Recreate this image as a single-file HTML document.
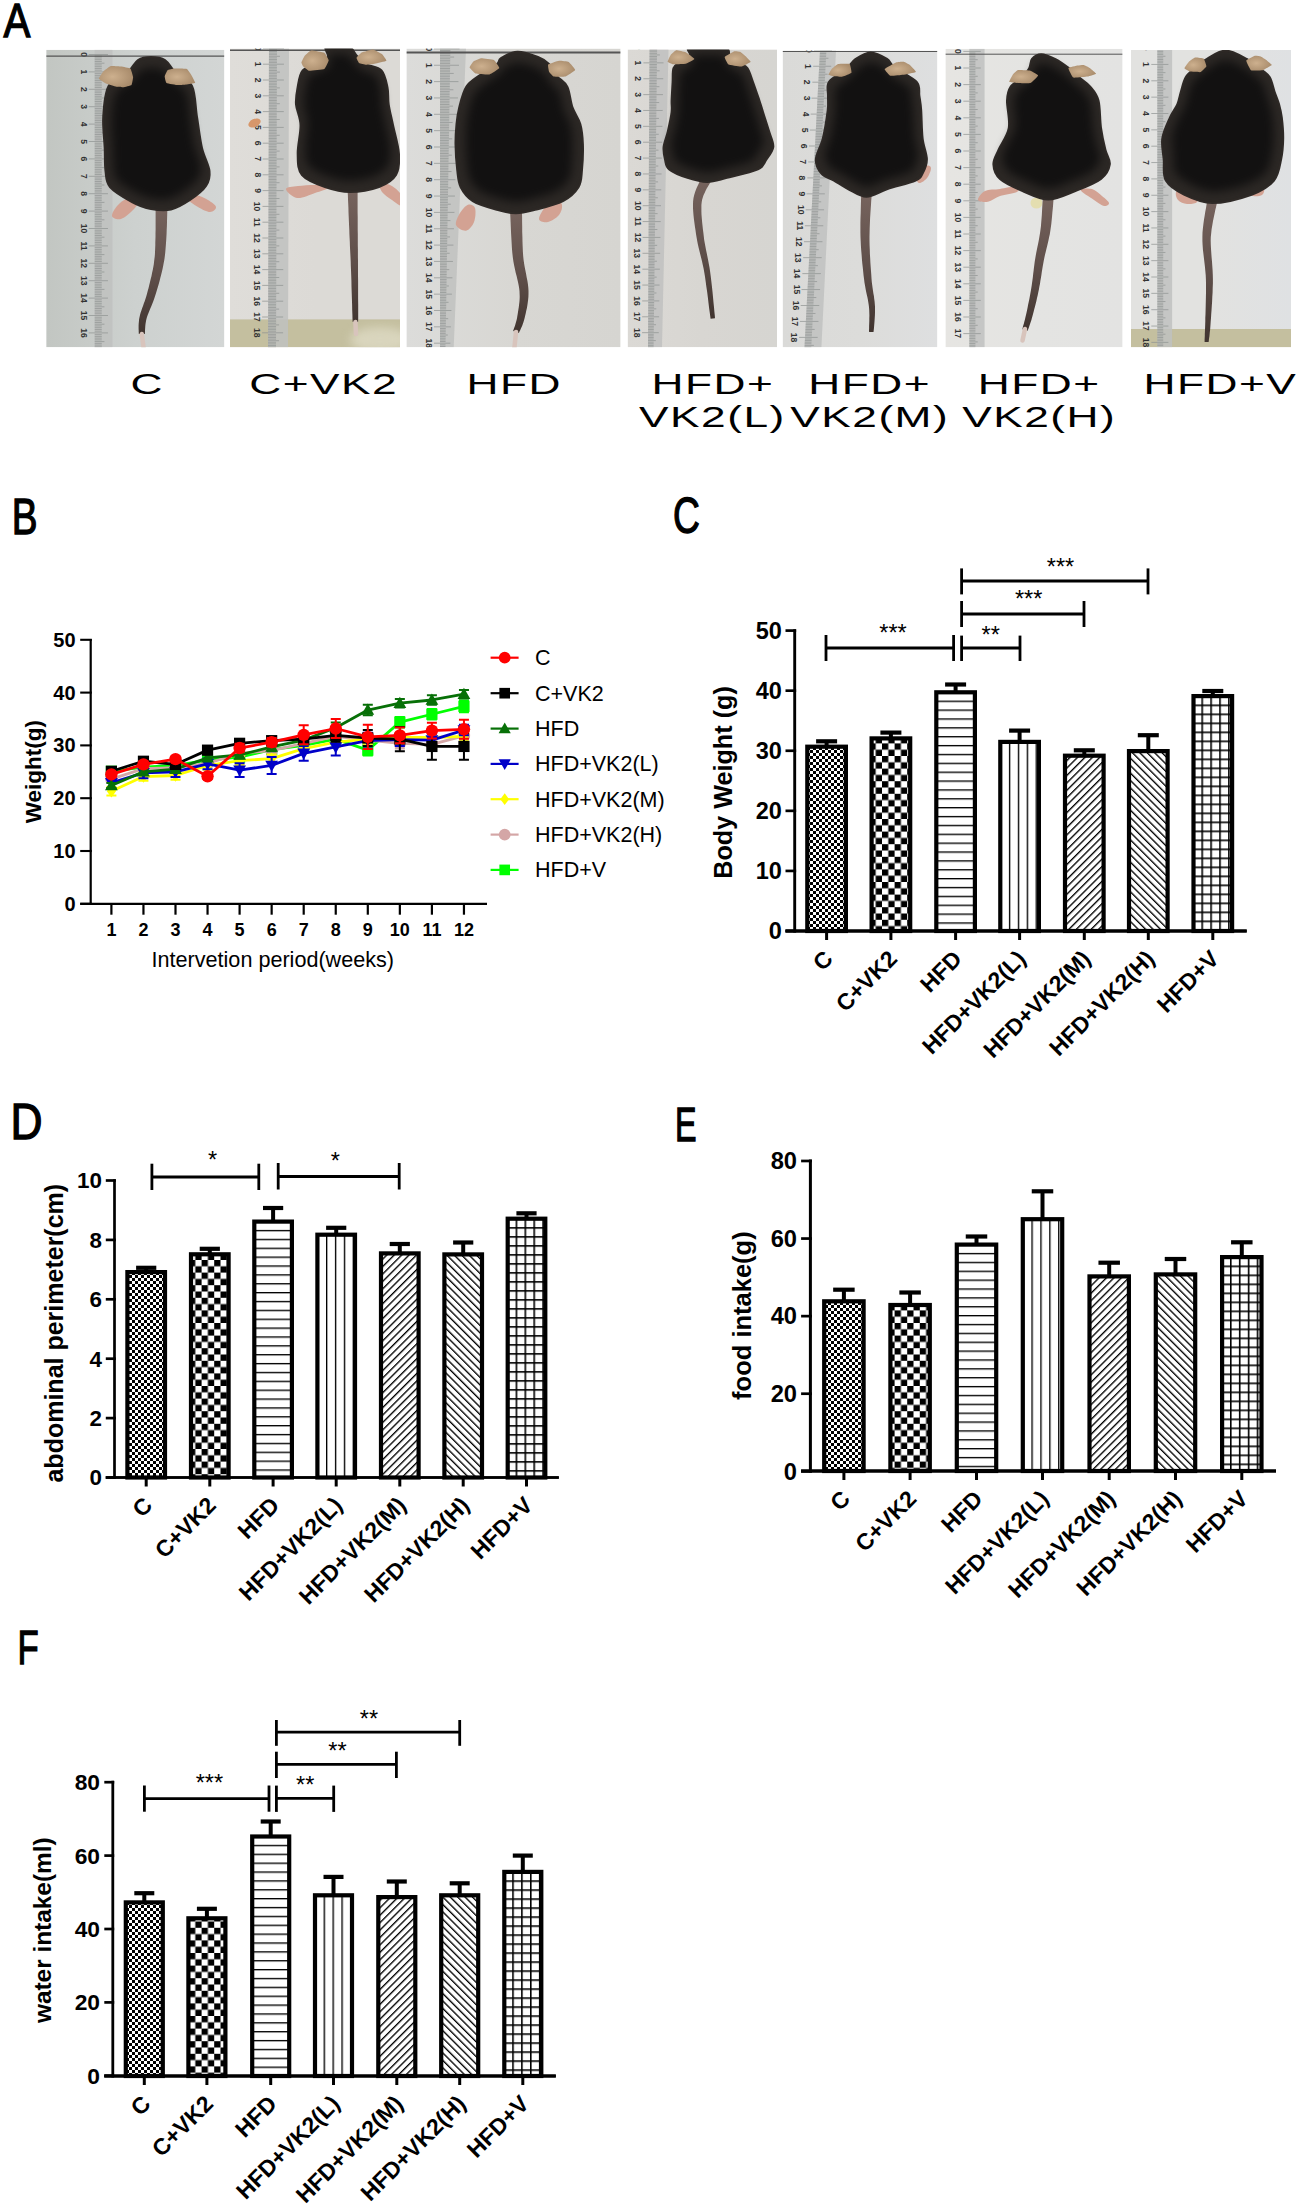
<!DOCTYPE html><html><head><meta charset="utf-8"><style>html,body{margin:0;padding:0;background:#fff;}svg{display:block;}</style></head><body>
<svg width="1298" height="2204" viewBox="0 0 1298 2204" font-family='"Liberation Sans", sans-serif'>
<rect width="1298" height="2204" fill="#fff"/>

<defs>
<pattern id="pFine" patternUnits="userSpaceOnUse" width="6" height="6"><rect width="6" height="6" fill="#fff"/><rect width="3" height="3" fill="#000"/><rect x="3" y="3" width="3" height="3" fill="#000"/></pattern>
<pattern id="pBig" patternUnits="userSpaceOnUse" width="12.6" height="12.6"><rect width="12.6" height="12.6" fill="#fff"/><rect width="6.3" height="6.3" fill="#000"/><rect x="6.3" y="6.3" width="6.3" height="6.3" fill="#000"/></pattern>
<pattern id="pH" patternUnits="userSpaceOnUse" width="10" height="8.87"><rect width="10" height="8.87" fill="#fff"/><rect y="0" width="10" height="1.35" fill="#000"/></pattern>
<pattern id="pV" patternUnits="userSpaceOnUse" width="8.9" height="10"><rect width="8.9" height="10" fill="#fff"/><rect x="0" width="1.35" height="10" fill="#000"/></pattern>
<pattern id="pD1" patternUnits="userSpaceOnUse" width="5.25" height="10" patternTransform="rotate(45)"><rect width="5.25" height="10" fill="#fff"/><rect x="0" width="1.35" height="10" fill="#000"/></pattern>
<pattern id="pD2" patternUnits="userSpaceOnUse" width="5.25" height="10" patternTransform="rotate(-45)"><rect width="5.25" height="10" fill="#fff"/><rect x="0" width="1.35" height="10" fill="#000"/></pattern>
<pattern id="pG" patternUnits="userSpaceOnUse" width="8.9" height="9"><rect width="8.9" height="9" fill="#fff"/><rect width="1.6" height="9" fill="#000"/><rect width="8.9" height="1.6" fill="#000"/></pattern>
</defs>

<defs>
<radialGradient id="gBody" cx="50%" cy="45%" r="62%"><stop offset="0" stop-color="#111111"/><stop offset="0.7" stop-color="#171615"/><stop offset="1" stop-color="#292624"/></radialGradient>
<linearGradient id="gTail" x1="0" y1="0" x2="0" y2="1"><stop offset="0" stop-color="#76635d"/><stop offset="0.55" stop-color="#5e4e49"/><stop offset="1" stop-color="#40342f"/></linearGradient>
<filter id="fSoft" color-interpolation-filters="sRGB" x="-5%" y="-5%" width="110%" height="110%"><feGaussianBlur stdDeviation="0.7"/></filter>
<filter id="fSoft2" color-interpolation-filters="sRGB" x="-20%" y="-20%" width="140%" height="140%"><feGaussianBlur stdDeviation="5"/></filter>
<radialGradient id="gEar" cx="40%" cy="50%" r="60%"><stop offset="0" stop-color="#cdb08e"/><stop offset="1" stop-color="#a98c6c"/></radialGradient>
<linearGradient id="gBg0" x1="0" y1="0" x2="1" y2="0"><stop offset="0" stop-color="#c2c6c2"/><stop offset="0.5" stop-color="#cdd1cf"/><stop offset="1" stop-color="#d3d6d5"/></linearGradient>
<clipPath id="cp0"><rect x="46.2" y="49.8" width="178.2" height="297.5"/></clipPath>
<linearGradient id="gBg1" x1="0" y1="0" x2="1" y2="0"><stop offset="0" stop-color="#dfddd9"/><stop offset="0.5" stop-color="#dcdad6"/><stop offset="1" stop-color="#dcdad6"/></linearGradient>
<clipPath id="cp1"><rect x="230" y="48.6" width="170" height="298.7"/></clipPath>
<linearGradient id="gBg2" x1="0" y1="0" x2="1" y2="0"><stop offset="0" stop-color="#dcdcda"/><stop offset="0.5" stop-color="#d8d7d3"/><stop offset="1" stop-color="#d6d5d1"/></linearGradient>
<clipPath id="cp2"><rect x="406.4" y="48.6" width="214.2" height="298.7"/></clipPath>
<linearGradient id="gBg3" x1="0" y1="0" x2="1" y2="0"><stop offset="0" stop-color="#dbd9d5"/><stop offset="0.5" stop-color="#d8d6d2"/><stop offset="1" stop-color="#d6d5d1"/></linearGradient>
<clipPath id="cp3"><rect x="627.6" y="49.4" width="149.4" height="297.9"/></clipPath>
<linearGradient id="gBg4" x1="0" y1="0" x2="1" y2="0"><stop offset="0" stop-color="#dadad8"/><stop offset="0.5" stop-color="#dcdcda"/><stop offset="1" stop-color="#dedfe0"/></linearGradient>
<clipPath id="cp4"><rect x="782.6" y="50.5" width="154.8" height="296.8"/></clipPath>
<linearGradient id="gBg5" x1="0" y1="0" x2="1" y2="0"><stop offset="0" stop-color="#e6e5e2"/><stop offset="0.5" stop-color="#e4e4e2"/><stop offset="1" stop-color="#e3e3e2"/></linearGradient>
<clipPath id="cp5"><rect x="945.4" y="48.8" width="177.2" height="298.5"/></clipPath>
<linearGradient id="gBg6" x1="0" y1="0" x2="1" y2="0"><stop offset="0" stop-color="#e2e2e0"/><stop offset="0.5" stop-color="#e2e2e0"/><stop offset="1" stop-color="#dfe1e3"/></linearGradient>
<clipPath id="cp6"><rect x="1131" y="50" width="160" height="297.3"/></clipPath>
</defs>
<g clip-path="url(#cp0)">
<rect x="46.2" y="49.8" width="178.2" height="297.5" fill="url(#gBg0)"/>
<path d="M94.7 49.8 L112.4 49.8 L112.4 347.3 L94.7 347.3 Z" fill="#bfc1c0" opacity="0.85"/>
<path d="M88.7 54.5 L107.98 54.5 M94.7 56.24 L101.78 56.24 M94.7 57.98 L101.78 57.98 M94.7 59.72 L101.78 59.72 M94.7 61.46 L101.78 61.46 M94.7 63.2 L104.44 63.2 M94.7 64.94 L101.78 64.94 M94.7 66.68 L101.78 66.68 M94.7 68.42 L101.78 68.42 M94.7 70.16 L101.78 70.16 M88.7 71.9 L107.98 71.9 M94.7 73.64 L101.78 73.64 M94.7 75.38 L101.78 75.38 M94.7 77.12 L101.78 77.12 M94.7 78.86 L101.78 78.86 M94.7 80.6 L104.44 80.6 M94.7 82.34 L101.78 82.34 M94.7 84.08 L101.78 84.08 M94.7 85.82 L101.78 85.82 M94.7 87.56 L101.78 87.56 M88.7 89.3 L107.98 89.3 M94.7 91.04 L101.78 91.04 M94.7 92.78 L101.78 92.78 M94.7 94.52 L101.78 94.52 M94.7 96.26 L101.78 96.26 M94.7 98 L104.44 98 M94.7 99.74 L101.78 99.74 M94.7 101.48 L101.78 101.48 M94.7 103.22 L101.78 103.22 M94.7 104.96 L101.78 104.96 M88.7 106.7 L107.98 106.7 M94.7 108.44 L101.78 108.44 M94.7 110.18 L101.78 110.18 M94.7 111.92 L101.78 111.92 M94.7 113.66 L101.78 113.66 M94.7 115.4 L104.44 115.4 M94.7 117.14 L101.78 117.14 M94.7 118.88 L101.78 118.88 M94.7 120.62 L101.78 120.62 M94.7 122.36 L101.78 122.36 M88.7 124.1 L107.98 124.1 M94.7 125.84 L101.78 125.84 M94.7 127.58 L101.78 127.58 M94.7 129.32 L101.78 129.32 M94.7 131.06 L101.78 131.06 M94.7 132.8 L104.44 132.8 M94.7 134.54 L101.78 134.54 M94.7 136.28 L101.78 136.28 M94.7 138.02 L101.78 138.02 M94.7 139.76 L101.78 139.76 M88.7 141.5 L107.98 141.5 M94.7 143.24 L101.78 143.24 M94.7 144.98 L101.78 144.98 M94.7 146.72 L101.78 146.72 M94.7 148.46 L101.78 148.46 M94.7 150.2 L104.44 150.2 M94.7 151.94 L101.78 151.94 M94.7 153.68 L101.78 153.68 M94.7 155.42 L101.78 155.42 M94.7 157.16 L101.78 157.16 M88.7 158.9 L107.98 158.9 M94.7 160.64 L101.78 160.64 M94.7 162.38 L101.78 162.38 M94.7 164.12 L101.78 164.12 M94.7 165.86 L101.78 165.86 M94.7 167.6 L104.44 167.6 M94.7 169.34 L101.78 169.34 M94.7 171.08 L101.78 171.08 M94.7 172.82 L101.78 172.82 M94.7 174.56 L101.78 174.56 M88.7 176.3 L107.98 176.3 M94.7 178.04 L101.78 178.04 M94.7 179.78 L101.78 179.78 M94.7 181.52 L101.78 181.52 M94.7 183.26 L101.78 183.26 M94.7 185 L104.44 185 M94.7 186.74 L101.78 186.74 M94.7 188.48 L101.78 188.48 M94.7 190.22 L101.78 190.22 M94.7 191.96 L101.78 191.96 M88.7 193.7 L107.98 193.7 M94.7 195.44 L101.78 195.44 M94.7 197.18 L101.78 197.18 M94.7 198.92 L101.78 198.92 M94.7 200.66 L101.78 200.66 M94.7 202.4 L104.44 202.4 M94.7 204.14 L101.78 204.14 M94.7 205.88 L101.78 205.88 M94.7 207.62 L101.78 207.62 M94.7 209.36 L101.78 209.36 M88.7 211.1 L107.98 211.1 M94.7 212.84 L101.78 212.84 M94.7 214.58 L101.78 214.58 M94.7 216.32 L101.78 216.32 M94.7 218.06 L101.78 218.06 M94.7 219.8 L104.44 219.8 M94.7 221.54 L101.78 221.54 M94.7 223.28 L101.78 223.28 M94.7 225.02 L101.78 225.02 M94.7 226.76 L101.78 226.76 M88.7 228.5 L107.98 228.5 M94.7 230.24 L101.78 230.24 M94.7 231.98 L101.78 231.98 M94.7 233.72 L101.78 233.72 M94.7 235.46 L101.78 235.46 M94.7 237.2 L104.44 237.2 M94.7 238.94 L101.78 238.94 M94.7 240.68 L101.78 240.68 M94.7 242.42 L101.78 242.42 M94.7 244.16 L101.78 244.16 M88.7 245.9 L107.98 245.9 M94.7 247.64 L101.78 247.64 M94.7 249.38 L101.78 249.38 M94.7 251.12 L101.78 251.12 M94.7 252.86 L101.78 252.86 M94.7 254.6 L104.44 254.6 M94.7 256.34 L101.78 256.34 M94.7 258.08 L101.78 258.08 M94.7 259.82 L101.78 259.82 M94.7 261.56 L101.78 261.56 M88.7 263.3 L107.98 263.3 M94.7 265.04 L101.78 265.04 M94.7 266.78 L101.78 266.78 M94.7 268.52 L101.78 268.52 M94.7 270.26 L101.78 270.26 M94.7 272 L104.44 272 M94.7 273.74 L101.78 273.74 M94.7 275.48 L101.78 275.48 M94.7 277.22 L101.78 277.22 M94.7 278.96 L101.78 278.96 M88.7 280.7 L107.98 280.7 M94.7 282.44 L101.78 282.44 M94.7 284.18 L101.78 284.18 M94.7 285.92 L101.78 285.92 M94.7 287.66 L101.78 287.66 M94.7 289.4 L104.44 289.4 M94.7 291.14 L101.78 291.14 M94.7 292.88 L101.78 292.88 M94.7 294.62 L101.78 294.62 M94.7 296.36 L101.78 296.36 M88.7 298.1 L107.98 298.1 M94.7 299.84 L101.78 299.84 M94.7 301.58 L101.78 301.58 M94.7 303.32 L101.78 303.32 M94.7 305.06 L101.78 305.06 M94.7 306.8 L104.44 306.8 M94.7 308.54 L101.78 308.54 M94.7 310.28 L101.78 310.28 M94.7 312.02 L101.78 312.02 M94.7 313.76 L101.78 313.76 M88.7 315.5 L107.98 315.5 M94.7 317.24 L101.78 317.24 M94.7 318.98 L101.78 318.98 M94.7 320.72 L101.78 320.72 M94.7 322.46 L101.78 322.46 M94.7 324.2 L104.44 324.2 M94.7 325.94 L101.78 325.94 M94.7 327.68 L101.78 327.68 M94.7 329.42 L101.78 329.42 M94.7 331.16 L101.78 331.16 M88.7 332.9 L107.98 332.9 M94.7 334.64 L101.78 334.64 M94.7 336.38 L101.78 336.38 M94.7 338.12 L101.78 338.12 M94.7 339.86 L101.78 339.86 M94.7 341.6 L104.44 341.6 M94.7 343.34 L101.78 343.34 M94.7 345.08 L101.78 345.08 M94.7 346.82 L101.78 346.82" stroke="#8e9291" stroke-width="0.7" fill="none"/>
<text x="83.7" y="57.5" font-size="8.5" font-weight="bold" fill="#333" text-anchor="middle" transform="rotate(90 83.7 54.5)">0</text>
<text x="83.7" y="74.9" font-size="8.5" font-weight="bold" fill="#333" text-anchor="middle" transform="rotate(90 83.7 71.9)">1</text>
<text x="83.7" y="92.3" font-size="8.5" font-weight="bold" fill="#333" text-anchor="middle" transform="rotate(90 83.7 89.3)">2</text>
<text x="83.7" y="109.7" font-size="8.5" font-weight="bold" fill="#333" text-anchor="middle" transform="rotate(90 83.7 106.7)">3</text>
<text x="83.7" y="127.1" font-size="8.5" font-weight="bold" fill="#333" text-anchor="middle" transform="rotate(90 83.7 124.1)">4</text>
<text x="83.7" y="144.5" font-size="8.5" font-weight="bold" fill="#333" text-anchor="middle" transform="rotate(90 83.7 141.5)">5</text>
<text x="83.7" y="161.9" font-size="8.5" font-weight="bold" fill="#333" text-anchor="middle" transform="rotate(90 83.7 158.9)">6</text>
<text x="83.7" y="179.3" font-size="8.5" font-weight="bold" fill="#333" text-anchor="middle" transform="rotate(90 83.7 176.3)">7</text>
<text x="83.7" y="196.7" font-size="8.5" font-weight="bold" fill="#333" text-anchor="middle" transform="rotate(90 83.7 193.7)">8</text>
<text x="83.7" y="214.1" font-size="8.5" font-weight="bold" fill="#333" text-anchor="middle" transform="rotate(90 83.7 211.1)">9</text>
<text x="83.7" y="231.5" font-size="8.5" font-weight="bold" fill="#333" text-anchor="middle" transform="rotate(90 83.7 228.5)">10</text>
<text x="83.7" y="248.9" font-size="8.5" font-weight="bold" fill="#333" text-anchor="middle" transform="rotate(90 83.7 245.9)">11</text>
<text x="83.7" y="266.3" font-size="8.5" font-weight="bold" fill="#333" text-anchor="middle" transform="rotate(90 83.7 263.3)">12</text>
<text x="83.7" y="283.7" font-size="8.5" font-weight="bold" fill="#333" text-anchor="middle" transform="rotate(90 83.7 280.7)">13</text>
<text x="83.7" y="301.1" font-size="8.5" font-weight="bold" fill="#333" text-anchor="middle" transform="rotate(90 83.7 298.1)">14</text>
<text x="83.7" y="318.5" font-size="8.5" font-weight="bold" fill="#333" text-anchor="middle" transform="rotate(90 83.7 315.5)">15</text>
<text x="83.7" y="335.9" font-size="8.5" font-weight="bold" fill="#333" text-anchor="middle" transform="rotate(90 83.7 332.9)">16</text>
<line x1="46.2" y1="56.2" x2="224.4" y2="56.2" stroke="#555" stroke-width="1.2"/>
<path d="M112.0 216.0 C111.5 213.7 115.0 208.2 118.0 205.0 C121.0 201.8 126.5 198.0 130.0 197.0 C133.5 196.0 138.3 197.0 139.0 199.0 C139.7 201.0 137.0 205.7 134.0 209.0 C131.0 212.3 124.7 217.8 121.0 219.0 C117.3 220.2 112.5 218.3 112.0 216.0 Z" fill="#d3a293"/>
<path d="M185.0 197.0 C184.7 195.0 192.2 194.5 196.0 195.0 C199.8 195.5 204.7 198.0 208.0 200.0 C211.3 202.0 215.7 205.0 216.0 207.0 C216.3 209.0 213.0 212.0 210.0 212.0 C207.0 212.0 202.2 209.5 198.0 207.0 C193.8 204.5 185.3 199.0 185.0 197.0 Z" fill="#d3a293"/>
<path d="M155.5 206.9 L155.5 208.9 L155.6 211.5 L155.6 214.7 L155.6 218.1 L155.6 221.8 L155.6 225.7 L155.6 229.5 L155.5 233.2 L155.5 236.7 L155.4 239.7 L155.3 242.5 L155.3 245.2 L155.2 247.6 L155.1 250.0 L155.0 252.3 L154.9 254.5 L154.7 256.8 L154.4 259.1 L154.1 261.6 L153.8 264.2 L153.3 266.9 L152.8 269.8 L152.1 272.8 L151.5 275.9 L150.7 279.0 L150.0 282.1 L149.2 285.2 L148.5 288.2 L147.7 291.1 L147.0 293.8 L146.3 296.3 L145.5 298.8 L144.7 301.2 L143.8 303.6 L143.0 306.0 L142.1 308.3 L141.4 310.5 L140.6 312.8 L140.0 315.0 L139.5 317.2 L139.1 319.3 L138.9 321.5 L138.7 323.5 L138.6 325.5 L138.6 327.3 L138.6 329.0 L138.7 330.6 L138.7 331.9 L138.8 333.0 L138.8 333.9 L144.8 334.1 L144.9 333.2 L145.0 332.0 L145.0 330.6 L145.1 329.1 L145.2 327.5 L145.3 325.9 L145.5 324.1 L145.8 322.3 L146.1 320.6 L146.5 318.8 L147.0 317.0 L147.7 315.1 L148.5 313.1 L149.3 311.0 L150.2 308.8 L151.2 306.5 L152.2 304.0 L153.2 301.5 L154.1 298.9 L155.0 296.2 L155.9 293.4 L156.8 290.5 L157.7 287.5 L158.6 284.4 L159.5 281.2 L160.3 278.1 L161.1 274.9 L161.9 271.8 L162.6 268.8 L163.2 265.8 L163.7 263.1 L164.2 260.5 L164.6 258.0 L164.9 255.5 L165.2 253.1 L165.4 250.7 L165.6 248.2 L165.8 245.7 L166.0 243.1 L166.2 240.3 L166.4 237.1 L166.6 233.5 L166.7 229.8 L166.9 225.9 L167.0 222.0 L167.1 218.3 L167.2 214.8 L167.3 211.7 L167.4 209.1 L167.5 207.1 Z" fill="url(#gTail)"/>
<line x1="141.8" y1="334" x2="143.5" y2="347" stroke="#d8c4bc" stroke-width="4.5" stroke-linecap="round"/>
<path d="M151.0 57.0 C155.5 57.0 161.0 57.5 165.0 60.0 C169.0 62.5 170.5 67.7 175.0 72.0 C179.5 76.3 188.3 78.5 192.0 86.0 C195.7 93.5 195.3 106.7 197.0 117.0 C198.7 127.3 199.9 139.0 202.0 148.0 C204.1 157.0 208.8 164.7 209.5 171.0 C210.2 177.3 209.2 181.2 206.0 186.0 C202.8 190.8 195.8 196.1 190.0 200.0 C184.2 203.9 177.5 208.0 171.0 209.5 C164.5 211.0 157.5 210.2 151.0 209.0 C144.5 207.8 138.8 205.7 132.0 202.0 C125.2 198.3 114.4 192.2 110.0 187.0 C105.6 181.8 106.4 177.5 105.5 171.0 C104.6 164.5 105.1 157.0 104.7 148.0 C104.3 139.0 102.6 127.3 103.2 117.0 C103.8 106.7 104.5 93.5 108.6 86.0 C112.7 78.5 123.1 76.3 128.0 72.0 C132.9 67.7 134.2 62.5 138.0 60.0 C141.8 57.5 146.5 57.0 151.0 57.0 Z" fill="#2c2825" stroke="#2f2a27" stroke-width="2" filter="url(#fSoft)"/>
<path d="M151.6 67.9 C155.4 67.9 160.0 68.3 163.4 70.5 C166.7 72.6 168.0 77.0 171.8 80.8 C175.5 84.5 183.0 86.4 186.0 92.8 C189.1 99.3 188.8 110.6 190.2 119.5 C191.6 128.4 192.7 138.4 194.4 146.1 C196.2 153.9 200.2 160.5 200.7 165.9 C201.3 171.4 200.5 174.7 197.8 178.8 C195.1 183.0 189.3 187.5 184.4 190.9 C179.5 194.2 173.9 197.7 168.4 199.0 C162.9 200.3 157.1 199.7 151.6 198.6 C146.1 197.5 141.4 195.7 135.6 192.6 C129.9 189.4 120.9 184.1 117.2 179.7 C113.4 175.2 114.1 171.5 113.4 165.9 C112.6 160.3 113.0 153.9 112.7 146.1 C112.4 138.4 110.9 128.4 111.4 119.5 C112.0 110.6 112.5 99.3 116.0 92.8 C119.4 86.4 128.2 84.5 132.3 80.8 C136.4 77.0 137.5 72.6 140.7 70.5 C143.9 68.3 147.8 67.9 151.6 67.9 Z" fill="#121111" filter="url(#fSoft2)"/>
<path d="M98.9 78.7 C98.7 78.0 102.9 71.9 103.5 71.3 C104.0 70.7 109.5 66.4 110.4 66.2 C111.3 65.9 120.1 66.5 121.1 66.6 C122.1 66.7 129.9 68.2 130.5 68.7 C131.1 69.2 133.0 76.2 133.1 77.0 C133.2 77.8 132.0 84.4 131.5 84.9 C131.0 85.4 124.0 87.1 123.2 87.2 C122.5 87.3 117.1 86.9 116.3 86.8 C115.4 86.6 107.4 84.2 106.6 83.8 C105.7 83.4 99.0 79.3 98.9 78.7 Z" fill="url(#gEar)"/>
<path d="M164.7 76.3 C164.7 75.6 167.1 70.6 167.6 70.2 C168.0 69.9 173.4 68.6 174.3 68.6 C175.3 68.5 186.0 68.7 186.8 69.0 C187.6 69.3 190.5 73.7 191.0 74.4 C191.4 75.1 195.5 82.2 195.2 82.7 C195.0 83.2 187.1 84.4 186.3 84.5 C185.4 84.6 179.2 85.2 178.2 85.1 C177.2 85.0 167.2 83.4 166.5 82.9 C165.8 82.5 164.6 76.9 164.7 76.3 Z" fill="url(#gEar)"/>
</g>
<g clip-path="url(#cp1)">
<rect x="230" y="48.6" width="170" height="298.7" fill="url(#gBg1)"/>
<rect x="230" y="319.4" width="170" height="27.9" fill="#c4bf9f"/>
<path d="M269 48.6 L289 48.6 L288 347.3 L268 347.3 Z" fill="#bfc1c0" opacity="0.85"/>
<path d="M263 48.4 L284 48.4 M269 49.98 L277 49.98 M268.99 51.56 L276.99 51.56 M268.98 53.14 L276.98 53.14 M268.98 54.72 L276.98 54.72 M268.97 56.3 L279.97 56.3 M268.97 57.88 L276.97 57.88 M268.96 59.46 L276.96 59.46 M268.96 61.04 L276.96 61.04 M268.95 62.62 L276.95 62.62 M262.95 64.2 L283.95 64.2 M268.94 65.78 L276.94 65.78 M268.94 67.36 L276.94 67.36 M268.93 68.94 L276.93 68.94 M268.93 70.52 L276.93 70.52 M268.92 72.1 L279.92 72.1 M268.92 73.68 L276.92 73.68 M268.91 75.26 L276.91 75.26 M268.91 76.84 L276.91 76.84 M268.9 78.42 L276.9 78.42 M262.89 80 L283.89 80 M268.89 81.58 L276.89 81.58 M268.88 83.16 L276.88 83.16 M268.88 84.74 L276.88 84.74 M268.87 86.32 L276.87 86.32 M268.87 87.9 L279.87 87.9 M268.86 89.48 L276.86 89.48 M268.86 91.06 L276.86 91.06 M268.85 92.64 L276.85 92.64 M268.85 94.22 L276.85 94.22 M262.84 95.8 L283.84 95.8 M268.84 97.38 L276.84 97.38 M268.83 98.96 L276.83 98.96 M268.83 100.54 L276.83 100.54 M268.82 102.12 L276.82 102.12 M268.82 103.7 L279.82 103.7 M268.81 105.28 L276.81 105.28 M268.8 106.86 L276.8 106.86 M268.8 108.44 L276.8 108.44 M268.79 110.02 L276.79 110.02 M262.79 111.6 L283.79 111.6 M268.78 113.18 L276.78 113.18 M268.78 114.76 L276.78 114.76 M268.77 116.34 L276.77 116.34 M268.77 117.92 L276.77 117.92 M268.76 119.5 L279.76 119.5 M268.76 121.08 L276.76 121.08 M268.75 122.66 L276.75 122.66 M268.75 124.24 L276.75 124.24 M268.74 125.82 L276.74 125.82 M262.74 127.4 L283.74 127.4 M268.73 128.98 L276.73 128.98 M268.73 130.56 L276.73 130.56 M268.72 132.14 L276.72 132.14 M268.72 133.72 L276.72 133.72 M268.71 135.3 L279.71 135.3 M268.7 136.88 L276.7 136.88 M268.7 138.46 L276.7 138.46 M268.69 140.04 L276.69 140.04 M268.69 141.62 L276.69 141.62 M262.68 143.2 L283.68 143.2 M268.68 144.78 L276.68 144.78 M268.67 146.36 L276.67 146.36 M268.67 147.94 L276.67 147.94 M268.66 149.52 L276.66 149.52 M268.66 151.1 L279.66 151.1 M268.65 152.68 L276.65 152.68 M268.65 154.26 L276.65 154.26 M268.64 155.84 L276.64 155.84 M268.64 157.42 L276.64 157.42 M262.63 159 L283.63 159 M268.63 160.58 L276.63 160.58 M268.62 162.16 L276.62 162.16 M268.61 163.74 L276.61 163.74 M268.61 165.32 L276.61 165.32 M268.6 166.9 L279.6 166.9 M268.6 168.48 L276.6 168.48 M268.59 170.06 L276.59 170.06 M268.59 171.64 L276.59 171.64 M268.58 173.22 L276.58 173.22 M262.58 174.8 L283.58 174.8 M268.57 176.38 L276.57 176.38 M268.57 177.96 L276.57 177.96 M268.56 179.54 L276.56 179.54 M268.56 181.12 L276.56 181.12 M268.55 182.7 L279.55 182.7 M268.55 184.28 L276.55 184.28 M268.54 185.86 L276.54 185.86 M268.54 187.44 L276.54 187.44 M268.53 189.02 L276.53 189.02 M262.52 190.6 L283.52 190.6 M268.52 192.18 L276.52 192.18 M268.51 193.76 L276.51 193.76 M268.51 195.34 L276.51 195.34 M268.5 196.92 L276.5 196.92 M268.5 198.5 L279.5 198.5 M268.49 200.08 L276.49 200.08 M268.49 201.66 L276.49 201.66 M268.48 203.24 L276.48 203.24 M268.48 204.82 L276.48 204.82 M262.47 206.4 L283.47 206.4 M268.47 207.98 L276.47 207.98 M268.46 209.56 L276.46 209.56 M268.46 211.14 L276.46 211.14 M268.45 212.72 L276.45 212.72 M268.45 214.3 L279.45 214.3 M268.44 215.88 L276.44 215.88 M268.43 217.46 L276.43 217.46 M268.43 219.04 L276.43 219.04 M268.42 220.62 L276.42 220.62 M262.42 222.2 L283.42 222.2 M268.41 223.78 L276.41 223.78 M268.41 225.36 L276.41 225.36 M268.4 226.94 L276.4 226.94 M268.4 228.52 L276.4 228.52 M268.39 230.1 L279.39 230.1 M268.39 231.68 L276.39 231.68 M268.38 233.26 L276.38 233.26 M268.38 234.84 L276.38 234.84 M268.37 236.42 L276.37 236.42 M262.37 238 L283.37 238 M268.36 239.58 L276.36 239.58 M268.36 241.16 L276.36 241.16 M268.35 242.74 L276.35 242.74 M268.34 244.32 L276.34 244.32 M268.34 245.9 L279.34 245.9 M268.33 247.48 L276.33 247.48 M268.33 249.06 L276.33 249.06 M268.32 250.64 L276.32 250.64 M268.32 252.22 L276.32 252.22 M262.31 253.8 L283.31 253.8 M268.31 255.38 L276.31 255.38 M268.3 256.96 L276.3 256.96 M268.3 258.54 L276.3 258.54 M268.29 260.12 L276.29 260.12 M268.29 261.7 L279.29 261.7 M268.28 263.28 L276.28 263.28 M268.28 264.86 L276.28 264.86 M268.27 266.44 L276.27 266.44 M268.27 268.02 L276.27 268.02 M262.26 269.6 L283.26 269.6 M268.25 271.18 L276.25 271.18 M268.25 272.76 L276.25 272.76 M268.24 274.34 L276.24 274.34 M268.24 275.92 L276.24 275.92 M268.23 277.5 L279.23 277.5 M268.23 279.08 L276.23 279.08 M268.22 280.66 L276.22 280.66 M268.22 282.24 L276.22 282.24 M268.21 283.82 L276.21 283.82 M262.21 285.4 L283.21 285.4 M268.2 286.98 L276.2 286.98 M268.2 288.56 L276.2 288.56 M268.19 290.14 L276.19 290.14 M268.19 291.72 L276.19 291.72 M268.18 293.3 L279.18 293.3 M268.18 294.88 L276.18 294.88 M268.17 296.46 L276.17 296.46 M268.16 298.04 L276.16 298.04 M268.16 299.62 L276.16 299.62 M262.15 301.2 L283.15 301.2 M268.15 302.78 L276.15 302.78 M268.14 304.36 L276.14 304.36 M268.14 305.94 L276.14 305.94 M268.13 307.52 L276.13 307.52 M268.13 309.1 L279.13 309.1 M268.12 310.68 L276.12 310.68 M268.12 312.26 L276.12 312.26 M268.11 313.84 L276.11 313.84 M268.11 315.42 L276.11 315.42 M262.1 317 L283.1 317 M268.1 318.58 L276.1 318.58 M268.09 320.16 L276.09 320.16 M268.09 321.74 L276.09 321.74 M268.08 323.32 L276.08 323.32 M268.07 324.9 L279.07 324.9 M268.07 326.48 L276.07 326.48 M268.06 328.06 L276.06 328.06 M268.06 329.64 L276.06 329.64 M268.05 331.22 L276.05 331.22 M262.05 332.8 L283.05 332.8 M268.04 334.38 L276.04 334.38 M268.04 335.96 L276.04 335.96 M268.03 337.54 L276.03 337.54 M268.03 339.12 L276.03 339.12 M268.02 340.7 L279.02 340.7 M268.02 342.28 L276.02 342.28 M268.01 343.86 L276.01 343.86 M268.01 345.44 L276.01 345.44 M268 347.02 L276 347.02" stroke="#8e9291" stroke-width="0.7" fill="none"/>
<text x="258" y="51.4" font-size="8.5" font-weight="bold" fill="#333" text-anchor="middle" transform="rotate(90 258 48.4)">0</text>
<text x="257.95" y="67.2" font-size="8.5" font-weight="bold" fill="#333" text-anchor="middle" transform="rotate(90 257.95 64.2)">1</text>
<text x="257.89" y="83" font-size="8.5" font-weight="bold" fill="#333" text-anchor="middle" transform="rotate(90 257.89 80)">2</text>
<text x="257.84" y="98.8" font-size="8.5" font-weight="bold" fill="#333" text-anchor="middle" transform="rotate(90 257.84 95.8)">3</text>
<text x="257.79" y="114.6" font-size="8.5" font-weight="bold" fill="#333" text-anchor="middle" transform="rotate(90 257.79 111.6)">4</text>
<text x="257.74" y="130.4" font-size="8.5" font-weight="bold" fill="#333" text-anchor="middle" transform="rotate(90 257.74 127.4)">5</text>
<text x="257.68" y="146.2" font-size="8.5" font-weight="bold" fill="#333" text-anchor="middle" transform="rotate(90 257.68 143.2)">6</text>
<text x="257.63" y="162" font-size="8.5" font-weight="bold" fill="#333" text-anchor="middle" transform="rotate(90 257.63 159)">7</text>
<text x="257.58" y="177.8" font-size="8.5" font-weight="bold" fill="#333" text-anchor="middle" transform="rotate(90 257.58 174.8)">8</text>
<text x="257.52" y="193.6" font-size="8.5" font-weight="bold" fill="#333" text-anchor="middle" transform="rotate(90 257.52 190.6)">9</text>
<text x="257.47" y="209.4" font-size="8.5" font-weight="bold" fill="#333" text-anchor="middle" transform="rotate(90 257.47 206.4)">10</text>
<text x="257.42" y="225.2" font-size="8.5" font-weight="bold" fill="#333" text-anchor="middle" transform="rotate(90 257.42 222.2)">11</text>
<text x="257.37" y="241" font-size="8.5" font-weight="bold" fill="#333" text-anchor="middle" transform="rotate(90 257.37 238)">12</text>
<text x="257.31" y="256.8" font-size="8.5" font-weight="bold" fill="#333" text-anchor="middle" transform="rotate(90 257.31 253.8)">13</text>
<text x="257.26" y="272.6" font-size="8.5" font-weight="bold" fill="#333" text-anchor="middle" transform="rotate(90 257.26 269.6)">14</text>
<text x="257.21" y="288.4" font-size="8.5" font-weight="bold" fill="#333" text-anchor="middle" transform="rotate(90 257.21 285.4)">15</text>
<text x="257.15" y="304.2" font-size="8.5" font-weight="bold" fill="#333" text-anchor="middle" transform="rotate(90 257.15 301.2)">16</text>
<text x="257.1" y="320" font-size="8.5" font-weight="bold" fill="#333" text-anchor="middle" transform="rotate(90 257.1 317)">17</text>
<text x="257.05" y="335.8" font-size="8.5" font-weight="bold" fill="#333" text-anchor="middle" transform="rotate(90 257.05 332.8)">18</text>
<line x1="230" y1="50.2" x2="400" y2="50.2" stroke="#555" stroke-width="1.6"/>
<ellipse cx="254.5" cy="123" rx="6.5" ry="4" fill="#d7976a" transform="rotate(-25 254.5 123)"/><ellipse cx="380" cy="340" rx="30" ry="13" fill="#d9d5bd" filter="url(#fSoft2)"/>
<path d="M286.0 189.0 C286.2 187.0 292.7 186.7 298.0 186.0 C303.3 185.3 313.0 184.7 318.0 185.0 C323.0 185.3 328.5 186.7 328.0 188.0 C327.5 189.3 320.2 191.3 315.0 193.0 C309.8 194.7 301.8 198.7 297.0 198.0 C292.2 197.3 285.8 191.0 286.0 189.0 Z" fill="#d3a293"/>
<path d="M380.0 183.0 C381.7 182.0 388.3 183.8 392.0 186.0 C395.7 188.2 400.3 192.7 402.0 196.0 C403.7 199.3 403.7 205.3 402.0 206.0 C400.3 206.7 395.3 202.3 392.0 200.0 C388.7 197.7 384.0 194.8 382.0 192.0 C380.0 189.2 378.3 184.0 380.0 183.0 Z" fill="#d3a293"/>
<path d="M347.6 190.1 L347.7 192.5 L347.9 195.5 L348.0 199.2 L348.2 203.2 L348.4 207.6 L348.5 212.2 L348.7 216.8 L348.9 221.5 L349.1 225.9 L349.3 230.1 L349.4 234.1 L349.6 237.9 L349.8 241.7 L349.9 245.5 L350.1 249.4 L350.3 253.2 L350.5 257.2 L350.7 261.3 L350.8 265.6 L351.0 270.1 L351.2 275.0 L351.4 280.5 L351.5 286.4 L351.7 292.5 L351.9 298.6 L352.1 304.4 L352.2 309.9 L352.4 314.8 L352.5 318.9 L352.7 322.0 L358.1 322.0 L358.2 318.8 L358.2 314.7 L358.2 309.8 L358.2 304.3 L358.1 298.4 L358.1 292.4 L358.1 286.3 L358.1 280.4 L358.0 274.9 L358.0 269.9 L358.0 265.4 L358.0 261.1 L357.9 257.0 L357.9 253.0 L357.9 249.1 L357.8 245.3 L357.8 241.5 L357.8 237.7 L357.8 233.8 L357.7 229.9 L357.7 225.7 L357.7 221.3 L357.7 216.6 L357.6 212.0 L357.6 207.4 L357.6 203.0 L357.6 199.0 L357.6 195.3 L357.6 192.3 L357.6 189.9 Z" fill="url(#gTail)"/>
<line x1="355.4" y1="322" x2="356" y2="334" stroke="#d8c4bc" stroke-width="4.5" stroke-linecap="round"/>
<path d="M326.0 46.0 C329.3 44.2 342.8 44.3 348.0 46.0 C353.2 47.7 354.0 53.0 357.0 56.0 C360.0 59.0 361.9 61.6 366.0 64.0 C370.1 66.4 377.9 66.5 381.5 70.4 C385.1 74.3 386.3 81.8 387.5 87.4 C388.7 93.1 387.8 98.0 388.7 104.3 C389.6 110.6 391.3 116.7 393.0 125.0 C394.7 133.3 398.5 145.7 399.0 154.0 C399.5 162.3 399.3 169.5 396.0 175.0 C392.7 180.5 386.7 184.2 379.0 187.0 C371.3 189.8 359.0 192.0 350.0 192.0 C341.0 192.0 333.0 189.8 325.0 187.0 C317.0 184.2 306.6 180.5 302.0 175.0 C297.4 169.5 297.9 162.3 297.7 154.0 C297.4 145.7 300.8 133.3 300.5 125.0 C300.2 116.7 296.5 110.6 296.0 104.3 C295.5 98.0 296.5 93.1 297.6 87.4 C298.7 81.8 299.3 74.3 302.7 70.4 C306.1 66.5 313.8 66.2 318.0 64.0 C322.2 61.8 326.7 60.0 328.0 57.0 C329.3 54.0 322.7 47.8 326.0 46.0 Z" fill="#2c2825" stroke="#2f2a27" stroke-width="2" filter="url(#fSoft)"/>
<path d="M329.0 55.1 C331.8 53.5 343.1 53.7 347.5 55.1 C351.8 56.5 352.5 61.1 355.0 63.7 C357.6 66.3 359.2 68.5 362.6 70.6 C366.0 72.6 372.6 72.7 375.6 76.1 C378.6 79.4 379.6 85.8 380.7 90.7 C381.7 95.6 380.9 99.8 381.7 105.2 C382.4 110.6 383.8 115.9 385.3 123.0 C386.7 130.2 389.9 140.8 390.3 148.0 C390.7 155.1 390.6 161.3 387.8 166.0 C385.0 170.8 380.0 173.9 373.5 176.4 C367.1 178.8 356.7 180.7 349.2 180.7 C341.6 180.7 334.9 178.8 328.2 176.4 C321.4 173.9 312.7 170.8 308.8 166.0 C305.0 161.3 305.4 155.1 305.2 148.0 C305.0 140.8 307.8 130.2 307.6 123.0 C307.3 115.9 304.2 110.6 303.8 105.2 C303.4 99.8 304.2 95.6 305.1 90.7 C306.1 85.8 306.6 79.4 309.4 76.1 C312.3 72.7 318.7 72.5 322.3 70.6 C325.8 68.7 329.6 67.1 330.7 64.6 C331.8 62.0 326.2 56.7 329.0 55.1 Z" fill="#121111" filter="url(#fSoft2)"/>
<path d="M301.4 62.5 C301.5 61.9 304.2 56.4 304.7 55.8 C305.1 55.2 310.1 50.7 311.1 50.5 C312.1 50.3 323.4 52.2 324.3 52.7 C325.2 53.2 328.7 59.5 328.7 60.3 C328.7 61.1 325.3 68.5 324.3 69.0 C323.4 69.5 310.4 70.9 309.3 70.8 C308.3 70.6 303.6 66.8 303.2 66.4 C302.8 66.0 301.4 63.0 301.4 62.5 Z" fill="url(#gEar)"/>
<path d="M356.5 57.7 C356.6 57.1 360.8 52.8 361.7 52.4 C362.5 52.0 372.1 49.3 373.1 49.4 C374.1 49.4 381.3 53.6 382.0 54.1 C382.6 54.7 386.8 60.3 386.4 60.8 C386.1 61.3 375.9 63.6 374.9 63.8 C373.9 64.0 366.9 64.8 366.2 64.8 C365.4 64.7 359.6 63.3 359.1 63.0 C358.6 62.6 356.4 58.2 356.5 57.7 Z" fill="url(#gEar)"/>
</g>
<g clip-path="url(#cp2)">
<rect x="406.4" y="48.6" width="214.2" height="298.7" fill="url(#gBg2)"/>
<path d="M440 48.6 L466 48.6 L453.7 347.3 L440 347.3 Z" fill="#bfc1c0" opacity="0.85"/>
<path d="M434 48.9 L459.49 48.9 M440 50.53 L450.37 50.53 M440 52.17 L450.34 52.17 M440 53.8 L450.31 53.8 M440 55.44 L450.29 55.44 M440 57.07 L454.11 57.07 M440 58.71 L450.23 58.71 M440 60.34 L450.21 60.34 M440 61.98 L450.18 61.98 M440 63.61 L450.15 63.61 M434 65.25 L458.99 65.25 M440 66.88 L450.1 66.88 M440 68.52 L450.07 68.52 M440 70.16 L450.04 70.16 M440 71.79 L450.02 71.79 M440 73.43 L453.74 73.43 M440 75.06 L449.96 75.06 M440 76.7 L449.94 76.7 M440 78.33 L449.91 78.33 M440 79.97 L449.88 79.97 M434 81.6 L458.48 81.6 M440 83.24 L449.83 83.24 M440 84.87 L449.8 84.87 M440 86.51 L449.78 86.51 M440 88.14 L449.75 88.14 M440 89.78 L453.37 89.78 M440 91.41 L449.69 91.41 M440 93.05 L449.67 93.05 M440 94.68 L449.64 94.68 M440 96.32 L449.61 96.32 M434 97.95 L457.98 97.95 M440 99.59 L449.56 99.59 M440 101.22 L449.53 101.22 M440 102.86 L449.51 102.86 M440 104.49 L449.48 104.49 M440 106.13 L453 106.13 M440 107.76 L449.43 107.76 M440 109.4 L449.4 109.4 M440 111.03 L449.37 111.03 M440 112.67 L449.34 112.67 M434 114.3 L457.47 114.3 M440 115.94 L449.29 115.94 M440 117.57 L449.26 117.57 M440 119.21 L449.24 119.21 M440 120.84 L449.21 120.84 M440 122.48 L452.63 122.48 M440 124.11 L449.16 124.11 M440 125.75 L449.13 125.75 M440 127.38 L449.1 127.38 M440 129.02 L449.08 129.02 M434 130.65 L456.97 130.65 M440 132.29 L449.02 132.29 M440 133.92 L448.99 133.92 M440 135.56 L448.97 135.56 M440 137.19 L448.94 137.19 M440 138.83 L452.26 138.83 M440 140.46 L448.89 140.46 M440 142.1 L448.86 142.1 M440 143.73 L448.83 143.73 M440 145.37 L448.81 145.37 M434 147 L456.46 147 M440 148.64 L448.75 148.64 M440 150.27 L448.73 150.27 M440 151.91 L448.7 151.91 M440 153.54 L448.67 153.54 M440 155.18 L451.89 155.18 M440 156.81 L448.62 156.81 M440 158.45 L448.59 158.45 M440 160.08 L448.56 160.08 M440 161.72 L448.54 161.72 M434 163.35 L455.96 163.35 M440 164.98 L448.48 164.98 M440 166.62 L448.46 166.62 M440 168.25 L448.43 168.25 M440 169.89 L448.4 169.89 M440 171.52 L451.52 171.52 M440 173.16 L448.35 173.16 M440 174.79 L448.32 174.79 M440 176.43 L448.29 176.43 M440 178.06 L448.27 178.06 M434 179.7 L455.45 179.7 M440 181.33 L448.21 181.33 M440 182.97 L448.19 182.97 M440 184.6 L448.16 184.6 M440 186.24 L448.13 186.24 M440 187.87 L451.15 187.87 M440 189.51 L448.08 189.51 M440 191.14 L448.05 191.14 M440 192.78 L448.03 192.78 M440 194.41 L448 194.41 M434 196.05 L454.95 196.05 M440 197.68 L447.94 197.68 M440 199.32 L447.92 199.32 M440 200.95 L447.89 200.95 M440 202.59 L447.86 202.59 M440 204.22 L450.78 204.22 M440 205.86 L447.81 205.86 M440 207.49 L447.78 207.49 M440 209.13 L447.76 209.13 M440 210.76 L447.73 210.76 M434 212.4 L454.44 212.4 M440 214.03 L447.68 214.03 M440 215.67 L447.65 215.67 M440 217.3 L447.62 217.3 M440 218.94 L447.59 218.94 M440 220.57 L450.41 220.57 M440 222.21 L447.54 222.21 M440 223.84 L447.51 223.84 M440 225.48 L447.49 225.48 M440 227.11 L447.46 227.11 M434 228.75 L453.94 228.75 M440 230.38 L447.41 230.38 M440 232.02 L447.38 232.02 M440 233.65 L447.35 233.65 M440 235.29 L447.32 235.29 M440 236.92 L450.03 236.92 M440 238.56 L447.27 238.56 M440 240.19 L447.24 240.19 M440 241.83 L447.22 241.83 M440 243.46 L447.19 243.46 M434 245.1 L453.43 245.1 M440 246.73 L447.14 246.73 M440 248.37 L447.11 248.37 M440 250 L447.08 250 M440 251.64 L447.06 251.64 M440 253.27 L449.66 253.27 M440 254.91 L447 254.91 M440 256.54 L446.97 256.54 M440 258.18 L446.95 258.18 M440 259.81 L446.92 259.81 M434 261.45 L452.93 261.45 M440 263.08 L446.87 263.08 M440 264.72 L446.84 264.72 M440 266.35 L446.81 266.35 M440 267.99 L446.79 267.99 M440 269.62 L449.29 269.62 M440 271.26 L446.73 271.26 M440 272.89 L446.71 272.89 M440 274.53 L446.68 274.53 M440 276.16 L446.65 276.16 M434 277.8 L452.42 277.8 M440 279.43 L446.6 279.43 M440 281.07 L446.57 281.07 M440 282.7 L446.54 282.7 M440 284.34 L446.52 284.34 M440 285.97 L448.92 285.97 M440 287.61 L446.46 287.61 M440 289.24 L446.44 289.24 M440 290.88 L446.41 290.88 M440 292.51 L446.38 292.51 M434 294.15 L451.92 294.15 M440 295.78 L446.33 295.78 M440 297.42 L446.3 297.42 M440 299.05 L446.27 299.05 M440 300.69 L446.25 300.69 M440 302.32 L448.55 302.32 M440 303.96 L446.19 303.96 M440 305.59 L446.17 305.59 M440 307.23 L446.14 307.23 M440 308.86 L446.11 308.86 M434 310.5 L451.41 310.5 M440 312.13 L446.06 312.13 M440 313.77 L446.03 313.77 M440 315.4 L446.01 315.4 M440 317.04 L445.98 317.04 M440 318.67 L448.18 318.67 M440 320.31 L445.92 320.31 M440 321.94 L445.9 321.94 M440 323.58 L445.87 323.58 M440 325.21 L445.84 325.21 M434 326.85 L450.91 326.85 M440 328.48 L445.79 328.48 M440 330.12 L445.76 330.12 M440 331.75 L445.74 331.75 M440 333.39 L445.71 333.39 M440 335.02 L447.81 335.02 M440 336.66 L445.66 336.66 M440 338.29 L445.63 338.29 M440 339.93 L445.6 339.93 M440 341.56 L445.57 341.56 M434 343.2 L450.4 343.2 M440 344.83 L445.52 344.83 M440 346.47 L445.49 346.47" stroke="#8e9291" stroke-width="0.7" fill="none"/>
<text x="429" y="51.9" font-size="8.5" font-weight="bold" fill="#333" text-anchor="middle" transform="rotate(90 429 48.9)">0</text>
<text x="429" y="68.25" font-size="8.5" font-weight="bold" fill="#333" text-anchor="middle" transform="rotate(90 429 65.25)">1</text>
<text x="429" y="84.6" font-size="8.5" font-weight="bold" fill="#333" text-anchor="middle" transform="rotate(90 429 81.6)">2</text>
<text x="429" y="100.95" font-size="8.5" font-weight="bold" fill="#333" text-anchor="middle" transform="rotate(90 429 97.95)">3</text>
<text x="429" y="117.3" font-size="8.5" font-weight="bold" fill="#333" text-anchor="middle" transform="rotate(90 429 114.3)">4</text>
<text x="429" y="133.65" font-size="8.5" font-weight="bold" fill="#333" text-anchor="middle" transform="rotate(90 429 130.65)">5</text>
<text x="429" y="150" font-size="8.5" font-weight="bold" fill="#333" text-anchor="middle" transform="rotate(90 429 147)">6</text>
<text x="429" y="166.35" font-size="8.5" font-weight="bold" fill="#333" text-anchor="middle" transform="rotate(90 429 163.35)">7</text>
<text x="429" y="182.7" font-size="8.5" font-weight="bold" fill="#333" text-anchor="middle" transform="rotate(90 429 179.7)">8</text>
<text x="429" y="199.05" font-size="8.5" font-weight="bold" fill="#333" text-anchor="middle" transform="rotate(90 429 196.05)">9</text>
<text x="429" y="215.4" font-size="8.5" font-weight="bold" fill="#333" text-anchor="middle" transform="rotate(90 429 212.4)">10</text>
<text x="429" y="231.75" font-size="8.5" font-weight="bold" fill="#333" text-anchor="middle" transform="rotate(90 429 228.75)">11</text>
<text x="429" y="248.1" font-size="8.5" font-weight="bold" fill="#333" text-anchor="middle" transform="rotate(90 429 245.1)">12</text>
<text x="429" y="264.45" font-size="8.5" font-weight="bold" fill="#333" text-anchor="middle" transform="rotate(90 429 261.45)">13</text>
<text x="429" y="280.8" font-size="8.5" font-weight="bold" fill="#333" text-anchor="middle" transform="rotate(90 429 277.8)">14</text>
<text x="429" y="297.15" font-size="8.5" font-weight="bold" fill="#333" text-anchor="middle" transform="rotate(90 429 294.15)">15</text>
<text x="429" y="313.5" font-size="8.5" font-weight="bold" fill="#333" text-anchor="middle" transform="rotate(90 429 310.5)">16</text>
<text x="429" y="329.85" font-size="8.5" font-weight="bold" fill="#333" text-anchor="middle" transform="rotate(90 429 326.85)">17</text>
<text x="429" y="346.2" font-size="8.5" font-weight="bold" fill="#333" text-anchor="middle" transform="rotate(90 429 343.2)">18</text>
<line x1="406.4" y1="52.5" x2="620.6" y2="52.5" stroke="#555" stroke-width="1.8"/>
<path d="M456.0 225.0 C455.0 222.1 458.0 216.4 460.0 213.0 C462.0 209.6 465.5 205.5 468.0 204.7 C470.5 203.9 474.0 205.1 475.0 208.0 C476.0 210.9 475.5 218.2 474.0 222.0 C472.5 225.8 469.0 230.2 466.0 230.7 C463.0 231.2 457.0 227.9 456.0 225.0 Z" fill="#d3a293"/>
<path d="M539.0 219.0 C538.7 216.3 543.2 209.2 546.0 206.0 C548.8 202.8 553.3 199.7 556.0 199.5 C558.7 199.3 561.5 202.4 562.0 205.0 C562.5 207.6 561.3 212.2 559.0 215.0 C556.7 217.8 551.3 221.3 548.0 222.0 C544.7 222.7 539.3 221.7 539.0 219.0 Z" fill="#d3a293"/>
<path d="M510.0 211.2 L510.2 214.0 L510.4 217.6 L510.6 221.9 L510.8 226.7 L511.0 231.9 L511.3 237.3 L511.6 242.6 L511.9 247.9 L512.3 252.8 L512.8 257.2 L513.4 261.4 L514.1 265.3 L514.9 269.1 L515.7 272.7 L516.6 276.1 L517.4 279.4 L518.1 282.6 L518.7 285.6 L519.2 288.5 L519.5 291.2 L519.6 294.0 L519.7 296.7 L519.6 299.4 L519.4 302.0 L519.1 304.6 L518.8 307.1 L518.4 309.5 L518.0 311.9 L517.7 314.1 L517.3 316.2 L517.0 318.2 L516.6 320.0 L516.1 321.7 L515.6 323.4 L515.2 324.9 L514.7 326.4 L514.2 327.7 L513.8 329.0 L513.4 330.1 L513.2 331.0 L518.8 333.0 L519.2 332.3 L519.6 331.3 L520.2 330.2 L520.8 328.8 L521.5 327.3 L522.2 325.7 L522.8 323.9 L523.5 321.9 L524.1 319.9 L524.7 317.8 L525.2 315.6 L525.7 313.4 L526.2 311.0 L526.8 308.5 L527.3 305.8 L527.7 303.0 L528.1 300.1 L528.4 297.1 L528.5 294.0 L528.5 290.8 L528.3 287.4 L527.9 284.1 L527.4 280.8 L526.7 277.4 L526.1 274.0 L525.4 270.6 L524.7 267.1 L524.1 263.5 L523.6 259.9 L523.2 256.2 L522.9 252.0 L522.7 247.2 L522.5 242.1 L522.4 236.8 L522.2 231.5 L522.2 226.4 L522.1 221.5 L522.1 217.2 L522.0 213.6 L522.0 210.8 Z" fill="url(#gTail)"/>
<line x1="516" y1="332" x2="514.4" y2="348" stroke="#d8c4bc" stroke-width="4.5" stroke-linecap="round"/>
<path d="M517.4 51.8 C523.6 51.6 532.7 55.0 538.0 57.0 C543.3 59.0 545.8 60.8 549.0 64.0 C552.2 67.2 554.0 72.2 557.0 76.0 C560.0 79.8 564.7 81.4 567.3 86.6 C569.9 91.8 570.3 101.2 572.5 107.4 C574.7 113.6 578.6 117.9 580.3 124.0 C582.0 130.1 582.6 136.3 582.9 144.0 C583.2 151.7 582.7 162.8 582.0 170.0 C581.3 177.2 581.7 182.1 578.5 187.3 C575.3 192.5 570.2 197.4 563.0 201.2 C555.8 205.0 542.8 207.9 535.0 209.9 C527.2 211.9 522.3 213.3 516.0 213.3 C509.7 213.3 504.2 211.9 497.0 209.9 C489.8 207.9 478.9 205.0 472.8 201.2 C466.8 197.4 463.3 192.5 460.7 187.3 C458.1 182.1 458.1 177.2 457.2 170.0 C456.3 162.8 455.6 151.7 455.5 144.0 C455.4 136.3 455.9 130.1 456.5 124.0 C457.1 117.9 457.6 113.6 459.2 107.4 C460.8 101.2 462.9 92.0 466.4 86.6 C469.9 81.2 474.9 78.8 480.0 75.0 C485.1 71.2 493.5 66.8 497.0 64.0 C500.5 61.2 497.6 60.0 501.0 58.0 C504.4 56.0 511.2 52.0 517.4 51.8 Z" fill="#2c2825" stroke="#2f2a27" stroke-width="2" filter="url(#fSoft)"/>
<path d="M517.6 62.7 C522.7 62.6 530.4 65.5 534.9 67.2 C539.3 69.0 541.4 70.5 544.1 73.2 C546.8 76.0 548.3 80.3 550.8 83.6 C553.4 86.8 557.3 88.2 559.5 92.7 C561.6 97.2 562.0 105.2 563.8 110.6 C565.7 115.9 568.9 119.6 570.4 124.8 C571.9 130.1 572.3 135.4 572.6 142.0 C572.8 148.6 572.4 158.2 571.8 164.4 C571.2 170.6 571.5 174.8 568.9 179.3 C566.2 183.7 562.0 188.0 555.9 191.2 C549.8 194.5 538.9 197.0 532.3 198.7 C525.8 200.4 521.7 201.6 516.4 201.6 C511.1 201.6 506.5 200.4 500.4 198.7 C494.4 197.0 485.2 194.5 480.1 191.2 C475.0 188.0 472.1 183.7 469.9 179.3 C467.8 174.8 467.7 170.6 467.0 164.4 C466.3 158.2 465.7 148.6 465.6 142.0 C465.5 135.4 465.9 130.1 466.4 124.8 C466.9 119.6 467.3 115.9 468.7 110.6 C470.1 105.2 471.8 97.3 474.7 92.7 C477.6 88.0 481.9 85.9 486.1 82.7 C490.4 79.5 497.5 75.7 500.4 73.2 C503.4 70.8 500.9 69.8 503.8 68.1 C506.6 66.3 512.4 62.9 517.6 62.7 Z" fill="#121111" filter="url(#fSoft2)"/>
<path d="M469.6 67.5 C469.5 66.8 473.1 61.8 473.6 61.3 C474.2 60.9 479.9 58.3 480.9 58.2 C481.9 58.1 493.0 59.4 493.9 59.9 C494.8 60.3 499.5 67.2 499.3 68.0 C499.1 68.7 490.7 74.2 489.5 74.4 C488.4 74.7 476.5 73.7 475.5 73.4 C474.5 73.0 469.7 68.1 469.6 67.5 Z" fill="url(#gEar)"/>
<path d="M548.1 64.6 C548.6 64.1 557.9 60.9 559.0 60.8 C560.0 60.7 567.9 61.5 568.7 61.9 C569.6 62.4 575.4 69.3 575.2 70.0 C575.0 70.8 566.5 76.2 565.4 76.5 C564.3 76.8 554.4 76.7 553.6 76.5 C552.7 76.3 549.5 72.7 549.2 72.1 C548.9 71.5 547.7 65.2 548.1 64.6 Z" fill="url(#gEar)"/>
</g>
<g clip-path="url(#cp3)">
<rect x="627.6" y="49.4" width="149.4" height="297.9" fill="url(#gBg3)"/>
<path d="M649.5 49.4 L668.5 49.4 L662 347.3 L648 347.3 Z" fill="#bfc1c0" opacity="0.85"/>
<path d="M643.51 47 L663.79 47 M649.5 48.59 L657.11 48.59 M649.5 50.17 L657.09 50.17 M649.49 51.76 L657.07 51.76 M649.48 53.35 L657.05 53.35 M649.47 54.94 L659.87 54.94 M649.46 56.52 L657.02 56.52 M649.46 58.11 L657 58.11 M649.45 59.7 L656.98 59.7 M649.44 61.28 L656.96 61.28 M643.43 62.87 L663.51 62.87 M649.42 64.46 L656.92 64.46 M649.42 66.04 L656.9 66.04 M649.41 67.63 L656.89 67.63 M649.4 69.22 L656.87 69.22 M649.39 70.81 L659.64 70.81 M649.38 72.39 L656.83 72.39 M649.38 73.98 L656.81 73.98 M649.37 75.57 L656.79 75.57 M649.36 77.15 L656.77 77.15 M643.35 78.74 L663.23 78.74 M649.34 80.33 L656.74 80.33 M649.34 81.91 L656.72 81.91 M649.33 83.5 L656.7 83.5 M649.32 85.09 L656.68 85.09 M649.31 86.68 L659.42 86.68 M649.3 88.26 L656.64 88.26 M649.3 89.85 L656.62 89.85 M649.29 91.44 L656.61 91.44 M649.28 93.02 L656.59 93.02 M643.27 94.61 L662.95 94.61 M649.26 96.2 L656.55 96.2 M649.26 97.78 L656.53 97.78 M649.25 99.37 L656.51 99.37 M649.24 100.96 L656.49 100.96 M649.23 102.55 L659.19 102.55 M649.22 104.13 L656.46 104.13 M649.22 105.72 L656.44 105.72 M649.21 107.31 L656.42 107.31 M649.2 108.89 L656.4 108.89 M643.19 110.48 L662.67 110.48 M649.18 112.07 L656.36 112.07 M649.18 113.65 L656.35 113.65 M649.17 115.24 L656.33 115.24 M649.16 116.83 L656.31 116.83 M649.15 118.42 L658.97 118.42 M649.14 120 L656.27 120 M649.14 121.59 L656.25 121.59 M649.13 123.18 L656.23 123.18 M649.12 124.76 L656.21 124.76 M643.11 126.35 L662.39 126.35 M649.1 127.94 L656.18 127.94 M649.1 129.52 L656.16 129.52 M649.09 131.11 L656.14 131.11 M649.08 132.7 L656.12 132.7 M649.07 134.29 L658.74 134.29 M649.06 135.87 L656.08 135.87 M649.06 137.46 L656.07 137.46 M649.05 139.05 L656.05 139.05 M649.04 140.63 L656.03 140.63 M643.03 142.22 L662.11 142.22 M649.02 143.81 L655.99 143.81 M649.02 145.39 L655.97 145.39 M649.01 146.98 L655.95 146.98 M649 148.57 L655.93 148.57 M648.99 150.16 L658.51 150.16 M648.98 151.74 L655.9 151.74 M648.98 153.33 L655.88 153.33 M648.97 154.92 L655.86 154.92 M648.96 156.5 L655.84 156.5 M642.95 158.09 L661.83 158.09 M648.94 159.68 L655.8 159.68 M648.94 161.26 L655.79 161.26 M648.93 162.85 L655.77 162.85 M648.92 164.44 L655.75 164.44 M648.91 166.02 L658.29 166.02 M648.9 167.61 L655.71 167.61 M648.9 169.2 L655.69 169.2 M648.89 170.79 L655.67 170.79 M648.88 172.37 L655.66 172.37 M642.87 173.96 L661.55 173.96 M648.86 175.55 L655.62 175.55 M648.86 177.13 L655.6 177.13 M648.85 178.72 L655.58 178.72 M648.84 180.31 L655.56 180.31 M648.83 181.89 L658.06 181.89 M648.82 183.48 L655.52 183.48 M648.82 185.07 L655.51 185.07 M648.81 186.66 L655.49 186.66 M648.8 188.24 L655.47 188.24 M642.79 189.83 L661.28 189.83 M648.78 191.42 L655.43 191.42 M648.78 193 L655.41 193 M648.77 194.59 L655.39 194.59 M648.76 196.18 L655.38 196.18 M648.75 197.76 L657.83 197.76 M648.74 199.35 L655.34 199.35 M648.74 200.94 L655.32 200.94 M648.73 202.53 L655.3 202.53 M648.72 204.11 L655.28 204.11 M642.71 205.7 L661 205.7 M648.71 207.29 L655.25 207.29 M648.7 208.87 L655.23 208.87 M648.69 210.46 L655.21 210.46 M648.68 212.05 L655.19 212.05 M648.67 213.63 L657.61 213.63 M648.67 215.22 L655.15 215.22 M648.66 216.81 L655.13 216.81 M648.65 218.4 L655.11 218.4 M648.64 219.98 L655.1 219.98 M642.63 221.57 L660.72 221.57 M648.63 223.16 L655.06 223.16 M648.62 224.74 L655.04 224.74 M648.61 226.33 L655.02 226.33 M648.6 227.92 L655 227.92 M648.59 229.5 L657.38 229.5 M648.59 231.09 L654.97 231.09 M648.58 232.68 L654.95 232.68 M648.57 234.27 L654.93 234.27 M648.56 235.85 L654.91 235.85 M642.55 237.44 L660.44 237.44 M648.55 239.03 L654.87 239.03 M648.54 240.61 L654.85 240.61 M648.53 242.2 L654.83 242.2 M648.52 243.79 L654.82 243.79 M648.51 245.37 L657.15 245.37 M648.51 246.96 L654.78 246.96 M648.5 248.55 L654.76 248.55 M648.49 250.14 L654.74 250.14 M648.48 251.72 L654.72 251.72 M642.47 253.31 L660.16 253.31 M648.47 254.9 L654.69 254.9 M648.46 256.48 L654.67 256.48 M648.45 258.07 L654.65 258.07 M648.44 259.66 L654.63 259.66 M648.43 261.24 L656.93 261.24 M648.43 262.83 L654.59 262.83 M648.42 264.42 L654.57 264.42 M648.41 266.01 L654.56 266.01 M648.4 267.59 L654.54 267.59 M642.39 269.18 L659.88 269.18 M648.39 270.77 L654.5 270.77 M648.38 272.35 L654.48 272.35 M648.37 273.94 L654.46 273.94 M648.36 275.53 L654.44 275.53 M648.35 277.11 L656.7 277.11 M648.35 278.7 L654.41 278.7 M648.34 280.29 L654.39 280.29 M648.33 281.88 L654.37 281.88 M648.32 283.46 L654.35 283.46 M642.31 285.05 L659.6 285.05 M648.31 286.64 L654.31 286.64 M648.3 288.22 L654.29 288.22 M648.29 289.81 L654.28 289.81 M648.28 291.4 L654.26 291.4 M648.27 292.98 L656.47 292.98 M648.27 294.57 L654.22 294.57 M648.26 296.16 L654.2 296.16 M648.25 297.75 L654.18 297.75 M648.24 299.33 L654.16 299.33 M642.23 300.92 L659.32 300.92 M648.23 302.51 L654.13 302.51 M648.22 304.09 L654.11 304.09 M648.21 305.68 L654.09 305.68 M648.2 307.27 L654.07 307.27 M648.19 308.85 L656.25 308.85 M648.19 310.44 L654.03 310.44 M648.18 312.03 L654.01 312.03 M648.17 313.62 L654 313.62 M648.16 315.2 L653.98 315.2 M642.15 316.79 L659.04 316.79 M648.15 318.38 L653.94 318.38 M648.14 319.96 L653.92 319.96 M648.13 321.55 L653.9 321.55 M648.12 323.14 L653.88 323.14 M648.11 324.72 L656.02 324.72 M648.11 326.31 L653.85 326.31 M648.1 327.9 L653.83 327.9 M648.09 329.49 L653.81 329.49 M648.08 331.07 L653.79 331.07 M642.07 332.66 L658.76 332.66 M648.07 334.25 L653.75 334.25 M648.06 335.83 L653.73 335.83 M648.05 337.42 L653.72 337.42 M648.04 339.01 L653.7 339.01 M648.03 340.59 L655.8 340.59 M648.03 342.18 L653.66 342.18 M648.02 343.77 L653.64 343.77 M648.01 345.36 L653.62 345.36 M648 346.94 L653.6 346.94" stroke="#8e9291" stroke-width="0.7" fill="none"/>
<text x="638.51" y="50" font-size="8.5" font-weight="bold" fill="#333" text-anchor="middle" transform="rotate(90 638.51 47)">0</text>
<text x="638.43" y="65.87" font-size="8.5" font-weight="bold" fill="#333" text-anchor="middle" transform="rotate(90 638.43 62.87)">1</text>
<text x="638.35" y="81.74" font-size="8.5" font-weight="bold" fill="#333" text-anchor="middle" transform="rotate(90 638.35 78.74)">2</text>
<text x="638.27" y="97.61" font-size="8.5" font-weight="bold" fill="#333" text-anchor="middle" transform="rotate(90 638.27 94.61)">3</text>
<text x="638.19" y="113.48" font-size="8.5" font-weight="bold" fill="#333" text-anchor="middle" transform="rotate(90 638.19 110.48)">4</text>
<text x="638.11" y="129.35" font-size="8.5" font-weight="bold" fill="#333" text-anchor="middle" transform="rotate(90 638.11 126.35)">5</text>
<text x="638.03" y="145.22" font-size="8.5" font-weight="bold" fill="#333" text-anchor="middle" transform="rotate(90 638.03 142.22)">6</text>
<text x="637.95" y="161.09" font-size="8.5" font-weight="bold" fill="#333" text-anchor="middle" transform="rotate(90 637.95 158.09)">7</text>
<text x="637.87" y="176.96" font-size="8.5" font-weight="bold" fill="#333" text-anchor="middle" transform="rotate(90 637.87 173.96)">8</text>
<text x="637.79" y="192.83" font-size="8.5" font-weight="bold" fill="#333" text-anchor="middle" transform="rotate(90 637.79 189.83)">9</text>
<text x="637.71" y="208.7" font-size="8.5" font-weight="bold" fill="#333" text-anchor="middle" transform="rotate(90 637.71 205.7)">10</text>
<text x="637.63" y="224.57" font-size="8.5" font-weight="bold" fill="#333" text-anchor="middle" transform="rotate(90 637.63 221.57)">11</text>
<text x="637.55" y="240.44" font-size="8.5" font-weight="bold" fill="#333" text-anchor="middle" transform="rotate(90 637.55 237.44)">12</text>
<text x="637.47" y="256.31" font-size="8.5" font-weight="bold" fill="#333" text-anchor="middle" transform="rotate(90 637.47 253.31)">13</text>
<text x="637.39" y="272.18" font-size="8.5" font-weight="bold" fill="#333" text-anchor="middle" transform="rotate(90 637.39 269.18)">14</text>
<text x="637.31" y="288.05" font-size="8.5" font-weight="bold" fill="#333" text-anchor="middle" transform="rotate(90 637.31 285.05)">15</text>
<text x="637.23" y="303.92" font-size="8.5" font-weight="bold" fill="#333" text-anchor="middle" transform="rotate(90 637.23 300.92)">16</text>
<text x="637.15" y="319.79" font-size="8.5" font-weight="bold" fill="#333" text-anchor="middle" transform="rotate(90 637.15 316.79)">17</text>
<text x="637.07" y="335.66" font-size="8.5" font-weight="bold" fill="#333" text-anchor="middle" transform="rotate(90 637.07 332.66)">18</text>
<path d="M701.2 178.0 L700.8 179.1 L700.2 180.5 L699.3 182.3 L698.3 184.4 L697.2 186.7 L696.1 189.3 L695.1 192.1 L694.2 195.0 L693.5 198.1 L693.1 201.3 L693.0 204.6 L693.0 208.0 L693.2 211.6 L693.5 215.2 L693.9 219.0 L694.4 222.7 L694.9 226.5 L695.5 230.3 L696.0 233.9 L696.6 237.5 L697.2 241.0 L697.9 244.5 L698.7 247.9 L699.5 251.2 L700.3 254.5 L701.2 257.9 L702.0 261.3 L702.8 264.9 L703.6 268.6 L704.3 272.5 L705.0 276.8 L705.7 281.7 L706.4 286.9 L707.2 292.3 L707.9 297.7 L708.5 303.0 L709.1 307.9 L709.7 312.3 L710.2 315.9 L710.6 318.8 L715.0 318.2 L714.8 315.4 L714.4 311.7 L714.0 307.3 L713.5 302.4 L713.0 297.1 L712.5 291.7 L711.9 286.2 L711.3 280.9 L710.7 276.0 L710.1 271.5 L709.5 267.5 L708.8 263.7 L708.1 260.0 L707.4 256.5 L706.7 253.1 L706.0 249.7 L705.4 246.4 L704.8 243.2 L704.2 239.9 L703.8 236.5 L703.4 232.9 L702.9 229.3 L702.5 225.5 L702.1 221.8 L701.8 218.2 L701.5 214.6 L701.4 211.2 L701.4 207.9 L701.4 204.9 L701.7 202.3 L702.1 199.8 L702.8 197.5 L703.6 195.1 L704.6 192.9 L705.6 190.7 L706.7 188.6 L707.8 186.7 L708.8 185.0 L709.7 183.4 L710.4 182.0 Z" fill="url(#gTail)"/>
<path d="M690.0 47.0 C695.8 45.5 718.3 45.2 725.0 47.0 C731.7 48.8 727.5 55.2 730.0 58.0 C732.5 60.8 737.1 62.3 740.0 64.0 C742.9 65.7 745.2 65.1 747.4 68.1 C749.6 71.1 751.0 76.6 753.0 82.0 C755.0 87.4 757.7 95.5 759.4 100.5 C761.1 105.5 761.4 106.8 763.0 112.0 C764.6 117.2 767.4 125.6 769.1 131.4 C770.8 137.2 773.8 142.2 773.3 146.9 C772.8 151.6 768.9 155.8 766.3 159.6 C763.7 163.3 764.5 166.3 757.9 169.4 C751.3 172.5 735.3 175.8 726.9 177.9 C718.5 180.0 713.8 182.0 707.2 182.0 C700.6 182.0 693.8 180.0 687.5 177.9 C681.2 175.8 673.0 172.5 669.2 169.4 C665.5 166.3 665.9 163.3 665.0 159.6 C664.1 155.8 663.1 151.6 663.6 146.9 C664.1 142.2 666.5 137.2 667.8 131.4 C669.1 125.6 671.0 117.2 671.6 112.0 C672.2 106.8 671.4 105.5 671.6 100.5 C671.8 95.5 672.3 87.4 672.6 82.0 C672.9 76.6 672.3 71.4 673.5 68.1 C674.7 64.8 677.2 64.0 680.0 62.0 C682.8 60.0 688.3 58.5 690.0 56.0 C691.7 53.5 684.2 48.5 690.0 47.0 Z" fill="#2c2825" stroke="#2f2a27" stroke-width="2" filter="url(#fSoft)"/>
<path d="M693.7 56.2 C698.6 54.9 717.5 54.6 723.1 56.2 C728.7 57.7 725.2 63.2 727.3 65.6 C729.4 68.1 733.2 69.3 735.7 70.8 C738.1 72.2 740.0 71.7 741.9 74.3 C743.7 76.9 744.9 81.6 746.6 86.3 C748.3 90.9 750.5 97.9 751.9 102.2 C753.3 106.5 753.6 107.6 755.0 112.1 C756.3 116.5 758.7 123.7 760.1 128.7 C761.5 133.8 764.0 138.0 763.6 142.1 C763.2 146.1 759.9 149.8 757.7 153.0 C755.6 156.2 756.2 158.8 750.7 161.4 C745.2 164.1 731.7 166.9 724.6 168.7 C717.6 170.5 713.6 172.3 708.1 172.3 C702.6 172.3 696.9 170.5 691.6 168.7 C686.2 166.9 679.3 164.1 676.2 161.4 C673.0 158.8 673.4 156.2 672.7 153.0 C671.9 149.8 671.1 146.1 671.5 142.1 C671.9 138.0 673.9 133.8 675.0 128.7 C676.1 123.7 677.7 116.5 678.2 112.1 C678.7 107.6 678.1 106.5 678.2 102.2 C678.3 97.9 678.8 90.9 679.0 86.3 C679.3 81.6 678.8 77.2 679.8 74.3 C680.8 71.4 682.9 70.8 685.3 69.1 C687.6 67.3 692.3 66.1 693.7 63.9 C695.1 61.8 688.8 57.5 693.7 56.2 Z" fill="#121111" filter="url(#fSoft2)"/>
<path d="M667.6 61.7 C667.4 61.3 670.2 55.5 670.7 54.9 C671.1 54.3 675.4 50.3 676.2 50.2 C676.9 50.1 684.8 51.7 685.8 52.2 C686.7 52.6 694.4 58.4 694.4 58.9 C694.4 59.5 686.8 63.5 685.8 63.7 C684.7 64.0 674.2 64.3 673.3 64.2 C672.4 64.1 667.7 62.2 667.6 61.7 Z" fill="url(#gEar)"/>
<path d="M724.7 56.9 C725.0 56.3 733.6 51.5 734.4 51.2 C735.1 51.0 739.5 51.5 740.1 51.7 C740.6 52.0 744.8 55.4 745.3 55.9 C745.8 56.4 750.9 61.2 750.7 61.7 C750.5 62.3 742.2 66.5 741.1 66.6 C740.0 66.8 729.5 65.1 728.6 64.6 C727.8 64.2 724.4 57.6 724.7 56.9 Z" fill="url(#gEar)"/>
</g>
<g clip-path="url(#cp4)">
<rect x="782.6" y="50.5" width="154.8" height="296.8" fill="url(#gBg4)"/>
<path d="M820 50.5 L836 50.5 L821.4 347.3 L804.5 347.3 Z" fill="#bfc1c0" opacity="0.85"/>
<path d="M814.01 50.3 L832.01 50.3 M819.93 51.89 L826.33 51.89 M819.84 53.49 L826.25 53.49 M819.76 55.08 L826.17 55.08 M819.68 56.68 L826.08 56.68 M819.59 58.27 L828.41 58.27 M819.51 59.87 L825.92 59.87 M819.43 61.46 L825.84 61.46 M819.34 63.06 L825.76 63.06 M819.26 64.65 L825.68 64.65 M813.18 66.25 L831.21 66.25 M819.09 67.84 L825.52 67.84 M819.01 69.44 L825.43 69.44 M818.93 71.03 L825.35 71.03 M818.84 72.63 L825.27 72.63 M818.76 74.22 L827.6 74.22 M818.68 75.82 L825.11 75.82 M818.59 77.41 L825.03 77.41 M818.51 79.01 L824.95 79.01 M818.43 80.6 L824.86 80.6 M812.34 82.2 L830.42 82.2 M818.26 83.79 L824.7 83.79 M818.18 85.39 L824.62 85.39 M818.09 86.98 L824.54 86.98 M818.01 88.58 L824.46 88.58 M817.93 90.17 L826.79 90.17 M817.84 91.77 L824.29 91.77 M817.76 93.36 L824.21 93.36 M817.68 94.96 L824.13 94.96 M817.59 96.55 L824.05 96.55 M811.51 98.15 L829.62 98.15 M817.43 99.74 L823.89 99.74 M817.34 101.34 L823.81 101.34 M817.26 102.93 L823.73 102.93 M817.18 104.53 L823.64 104.53 M817.1 106.12 L825.99 106.12 M817.01 107.72 L823.48 107.72 M816.93 109.31 L823.4 109.31 M816.85 110.91 L823.32 110.91 M816.76 112.5 L823.24 112.5 M810.68 114.1 L828.82 114.1 M816.6 115.69 L823.07 115.69 M816.51 117.29 L822.99 117.29 M816.43 118.88 L822.91 118.88 M816.35 120.48 L822.83 120.48 M816.26 122.07 L825.18 122.07 M816.18 123.67 L822.67 123.67 M816.1 125.26 L822.59 125.26 M816.01 126.86 L822.5 126.86 M815.93 128.45 L822.42 128.45 M809.85 130.05 L828.03 130.05 M815.76 131.64 L822.26 131.64 M815.68 133.24 L822.18 133.24 M815.6 134.83 L822.1 134.83 M815.51 136.43 L822.02 136.43 M815.43 138.02 L824.38 138.02 M815.35 139.62 L821.85 139.62 M815.26 141.21 L821.77 141.21 M815.18 142.81 L821.69 142.81 M815.1 144.4 L821.61 144.4 M809.01 146 L827.23 146 M814.93 147.59 L821.45 147.59 M814.85 149.19 L821.37 149.19 M814.76 150.78 L821.28 150.78 M814.68 152.38 L821.2 152.38 M814.6 153.97 L823.57 153.97 M814.51 155.57 L821.04 155.57 M814.43 157.16 L820.96 157.16 M814.35 158.76 L820.88 158.76 M814.26 160.35 L820.8 160.35 M808.18 161.95 L826.43 161.95 M814.1 163.54 L820.63 163.54 M814.01 165.14 L820.55 165.14 M813.93 166.73 L820.47 166.73 M813.85 168.33 L820.39 168.33 M813.76 169.92 L822.76 169.92 M813.68 171.52 L820.23 171.52 M813.6 173.11 L820.15 173.11 M813.51 174.71 L820.06 174.71 M813.43 176.3 L819.98 176.3 M807.35 177.9 L825.64 177.9 M813.26 179.49 L819.82 179.49 M813.18 181.09 L819.74 181.09 M813.1 182.68 L819.66 182.68 M813.01 184.28 L819.58 184.28 M812.93 185.87 L821.96 185.87 M812.85 187.47 L819.41 187.47 M812.76 189.06 L819.33 189.06 M812.68 190.66 L819.25 190.66 M812.6 192.25 L819.17 192.25 M806.51 193.85 L824.84 193.85 M812.43 195.44 L819.01 195.44 M812.35 197.04 L818.92 197.04 M812.26 198.63 L818.84 198.63 M812.18 200.23 L818.76 200.23 M812.1 201.82 L821.15 201.82 M812.01 203.42 L818.6 203.42 M811.93 205.01 L818.52 205.01 M811.85 206.61 L818.44 206.61 M811.76 208.2 L818.36 208.2 M805.68 209.8 L824.04 209.8 M811.6 211.39 L818.19 211.39 M811.51 212.99 L818.11 212.99 M811.43 214.58 L818.03 214.58 M811.35 216.18 L817.95 216.18 M811.26 217.77 L820.34 217.77 M811.18 219.37 L817.79 219.37 M811.1 220.96 L817.7 220.96 M811.01 222.56 L817.62 222.56 M810.93 224.15 L817.54 224.15 M804.85 225.75 L823.25 225.75 M810.76 227.34 L817.38 227.34 M810.68 228.94 L817.3 228.94 M810.6 230.53 L817.22 230.53 M810.51 232.13 L817.13 232.13 M810.43 233.72 L819.54 233.72 M810.35 235.32 L816.97 235.32 M810.26 236.91 L816.89 236.91 M810.18 238.51 L816.81 238.51 M810.1 240.1 L816.73 240.1 M804.01 241.7 L822.45 241.7 M809.93 243.29 L816.57 243.29 M809.85 244.89 L816.48 244.89 M809.76 246.48 L816.4 246.48 M809.68 248.08 L816.32 248.08 M809.6 249.67 L818.73 249.67 M809.52 251.27 L816.16 251.27 M809.43 252.86 L816.08 252.86 M809.35 254.46 L816 254.46 M809.27 256.05 L815.91 256.05 M803.18 257.65 L821.65 257.65 M809.1 259.24 L815.75 259.24 M809.02 260.84 L815.67 260.84 M808.93 262.44 L815.59 262.44 M808.85 264.03 L815.51 264.03 M808.77 265.63 L817.92 265.63 M808.68 267.22 L815.34 267.22 M808.6 268.82 L815.26 268.82 M808.52 270.41 L815.18 270.41 M808.43 272.01 L815.1 272.01 M802.35 273.6 L820.86 273.6 M808.27 275.2 L814.94 275.2 M808.18 276.79 L814.86 276.79 M808.1 278.39 L814.78 278.39 M808.02 279.98 L814.69 279.98 M807.93 281.58 L817.12 281.58 M807.85 283.17 L814.53 283.17 M807.77 284.77 L814.45 284.77 M807.68 286.36 L814.37 286.36 M807.6 287.96 L814.29 287.96 M801.52 289.55 L820.06 289.55 M807.43 291.15 L814.12 291.15 M807.35 292.74 L814.04 292.74 M807.27 294.34 L813.96 294.34 M807.18 295.93 L813.88 295.93 M807.1 297.53 L816.31 297.53 M807.02 299.12 L813.72 299.12 M806.93 300.72 L813.64 300.72 M806.85 302.31 L813.55 302.31 M806.77 303.91 L813.47 303.91 M800.68 305.5 L819.26 305.5 M806.6 307.1 L813.31 307.1 M806.52 308.69 L813.23 308.69 M806.43 310.29 L813.15 310.29 M806.35 311.88 L813.07 311.88 M806.27 313.48 L815.51 313.48 M806.18 315.07 L812.9 315.07 M806.1 316.67 L812.82 316.67 M806.02 318.26 L812.74 318.26 M805.93 319.86 L812.66 319.86 M799.85 321.45 L818.47 321.45 M805.77 323.05 L812.5 323.05 M805.68 324.64 L812.42 324.64 M805.6 326.24 L812.33 326.24 M805.52 327.83 L812.25 327.83 M805.43 329.43 L814.7 329.43 M805.35 331.02 L812.09 331.02 M805.27 332.62 L812.01 332.62 M805.18 334.21 L811.93 334.21 M805.1 335.81 L811.85 335.81 M799.02 337.4 L817.67 337.4 M804.93 339 L811.68 339 M804.85 340.59 L811.6 340.59 M804.77 342.19 L811.52 342.19 M804.68 343.78 L811.44 343.78 M804.6 345.38 L813.89 345.38 M804.52 346.97 L811.28 346.97" stroke="#8e9291" stroke-width="0.7" fill="none"/>
<text x="809.01" y="53.3" font-size="8.5" font-weight="bold" fill="#333" text-anchor="middle" transform="rotate(90 809.01 50.3)">0</text>
<text x="808.18" y="69.25" font-size="8.5" font-weight="bold" fill="#333" text-anchor="middle" transform="rotate(90 808.18 66.25)">1</text>
<text x="807.34" y="85.2" font-size="8.5" font-weight="bold" fill="#333" text-anchor="middle" transform="rotate(90 807.34 82.2)">2</text>
<text x="806.51" y="101.15" font-size="8.5" font-weight="bold" fill="#333" text-anchor="middle" transform="rotate(90 806.51 98.15)">3</text>
<text x="805.68" y="117.1" font-size="8.5" font-weight="bold" fill="#333" text-anchor="middle" transform="rotate(90 805.68 114.1)">4</text>
<text x="804.85" y="133.05" font-size="8.5" font-weight="bold" fill="#333" text-anchor="middle" transform="rotate(90 804.85 130.05)">5</text>
<text x="804.01" y="149" font-size="8.5" font-weight="bold" fill="#333" text-anchor="middle" transform="rotate(90 804.01 146)">6</text>
<text x="803.18" y="164.95" font-size="8.5" font-weight="bold" fill="#333" text-anchor="middle" transform="rotate(90 803.18 161.95)">7</text>
<text x="802.35" y="180.9" font-size="8.5" font-weight="bold" fill="#333" text-anchor="middle" transform="rotate(90 802.35 177.9)">8</text>
<text x="801.51" y="196.85" font-size="8.5" font-weight="bold" fill="#333" text-anchor="middle" transform="rotate(90 801.51 193.85)">9</text>
<text x="800.68" y="212.8" font-size="8.5" font-weight="bold" fill="#333" text-anchor="middle" transform="rotate(90 800.68 209.8)">10</text>
<text x="799.85" y="228.75" font-size="8.5" font-weight="bold" fill="#333" text-anchor="middle" transform="rotate(90 799.85 225.75)">11</text>
<text x="799.01" y="244.7" font-size="8.5" font-weight="bold" fill="#333" text-anchor="middle" transform="rotate(90 799.01 241.7)">12</text>
<text x="798.18" y="260.65" font-size="8.5" font-weight="bold" fill="#333" text-anchor="middle" transform="rotate(90 798.18 257.65)">13</text>
<text x="797.35" y="276.6" font-size="8.5" font-weight="bold" fill="#333" text-anchor="middle" transform="rotate(90 797.35 273.6)">14</text>
<text x="796.52" y="292.55" font-size="8.5" font-weight="bold" fill="#333" text-anchor="middle" transform="rotate(90 796.52 289.55)">15</text>
<text x="795.68" y="308.5" font-size="8.5" font-weight="bold" fill="#333" text-anchor="middle" transform="rotate(90 795.68 305.5)">16</text>
<text x="794.85" y="324.45" font-size="8.5" font-weight="bold" fill="#333" text-anchor="middle" transform="rotate(90 794.85 321.45)">17</text>
<text x="794.02" y="340.4" font-size="8.5" font-weight="bold" fill="#333" text-anchor="middle" transform="rotate(90 794.02 337.4)">18</text>
<line x1="782.6" y1="51.5" x2="937.4" y2="51.5" stroke="#555" stroke-width="1.2"/>
<path d="M916.0 175.0 C917.2 172.2 923.5 167.2 926.0 166.0 C928.5 164.8 930.8 166.0 931.0 168.0 C931.2 170.0 929.0 175.5 927.0 178.0 C925.0 180.5 920.8 183.5 919.0 183.0 C917.2 182.5 914.8 177.8 916.0 175.0 Z" fill="#d3a293"/>
<path d="M861.2 194.8 L861.1 197.3 L861.0 200.4 L860.9 204.2 L860.8 208.5 L860.7 213.1 L860.5 217.9 L860.4 222.9 L860.4 227.7 L860.4 232.5 L860.5 237.0 L860.7 241.3 L860.9 245.7 L861.2 250.2 L861.6 254.7 L861.9 259.1 L862.3 263.5 L862.8 267.7 L863.2 271.8 L863.6 275.7 L864.1 279.4 L864.5 282.8 L865.1 286.1 L865.6 289.1 L866.2 292.0 L866.8 294.7 L867.4 297.3 L867.9 299.8 L868.3 302.3 L868.7 304.7 L869.0 307.2 L869.2 309.8 L869.3 312.6 L869.4 315.4 L869.3 318.3 L869.3 321.1 L869.2 323.8 L869.1 326.3 L869.1 328.5 L869.0 330.4 L869.1 331.9 L873.5 332.1 L873.7 330.6 L873.9 328.8 L874.1 326.6 L874.3 324.1 L874.5 321.4 L874.7 318.5 L874.9 315.6 L875.0 312.6 L875.0 309.6 L875.0 306.8 L874.8 304.1 L874.6 301.4 L874.2 298.7 L873.9 296.1 L873.4 293.5 L873.0 290.7 L872.6 287.9 L872.2 285.0 L871.8 281.9 L871.5 278.6 L871.3 275.0 L871.0 271.1 L870.7 267.1 L870.4 262.8 L870.2 258.5 L869.9 254.1 L869.8 249.7 L869.6 245.3 L869.5 241.0 L869.5 236.8 L869.6 232.5 L869.7 227.9 L869.9 223.1 L870.1 218.3 L870.4 213.5 L870.7 209.0 L871.0 204.7 L871.2 200.9 L871.5 197.7 L871.6 195.2 Z" fill="url(#gTail)"/>
<path d="M870.5 52.4 C875.7 52.4 882.9 56.3 887.0 58.9 C891.1 61.5 890.0 64.2 895.0 68.0 C900.0 71.8 912.6 77.4 916.7 82.0 C920.8 86.6 918.6 91.1 919.4 95.8 C920.1 100.5 920.7 103.2 921.2 110.3 C921.7 117.4 921.7 130.2 922.6 138.4 C923.5 146.6 926.9 153.6 926.9 159.5 C926.9 165.4 924.5 170.1 922.6 173.6 C920.7 177.1 921.5 178.0 915.6 180.6 C909.8 183.2 895.7 186.3 887.5 189.0 C879.3 191.7 873.0 196.8 866.4 196.8 C859.8 196.8 853.4 191.7 848.0 189.0 C842.6 186.3 838.4 183.2 834.0 180.6 C829.6 178.0 824.4 177.1 821.4 173.6 C818.4 170.1 815.6 165.4 815.8 159.5 C816.0 153.6 820.8 146.6 822.8 138.4 C824.8 130.2 826.8 117.4 827.7 110.3 C828.6 103.2 827.8 100.5 828.0 95.8 C828.2 91.1 826.1 86.3 828.9 82.0 C831.7 77.7 840.5 73.8 845.0 70.0 C849.5 66.2 851.5 61.8 855.7 58.9 C860.0 56.0 865.3 52.4 870.5 52.4 Z" fill="#2c2825" stroke="#2f2a27" stroke-width="2" filter="url(#fSoft)"/>
<path d="M870.7 62.6 C875.1 62.6 881.1 66.0 884.6 68.2 C888.0 70.5 887.1 72.8 891.3 76.1 C895.4 79.4 906.1 84.1 909.5 88.1 C912.9 92.1 911.1 95.9 911.8 100.0 C912.4 104.0 912.8 106.3 913.3 112.4 C913.7 118.5 913.7 129.6 914.5 136.6 C915.3 143.7 918.1 149.7 918.1 154.8 C918.1 159.8 916.0 163.9 914.5 166.9 C912.9 169.9 913.5 170.7 908.6 172.9 C903.7 175.1 891.9 177.8 885.0 180.1 C878.1 182.4 872.8 186.8 867.3 186.8 C861.7 186.8 856.3 182.4 851.8 180.1 C847.3 177.8 843.8 175.1 840.0 172.9 C836.3 170.7 832.0 169.9 829.5 166.9 C826.9 163.9 824.6 159.8 824.8 154.8 C824.9 149.7 829.0 143.7 830.6 136.6 C832.3 129.6 834.0 118.5 834.7 112.4 C835.5 106.3 834.8 104.0 835.0 100.0 C835.2 95.9 833.4 91.8 835.8 88.1 C838.1 84.4 845.5 81.1 849.3 77.8 C853.0 74.5 854.7 70.8 858.3 68.2 C861.8 65.7 866.3 62.6 870.7 62.6 Z" fill="#121111" filter="url(#fSoft2)"/>
<path d="M828.5 74.7 C828.4 74.4 831.2 69.4 831.7 68.9 C832.2 68.4 837.2 64.4 838.1 64.1 C838.9 63.9 848.9 63.7 849.6 64.1 C850.3 64.6 851.8 72.1 851.5 72.8 C851.1 73.4 843.7 76.4 842.8 76.6 C841.9 76.8 834.0 76.3 833.3 76.2 C832.5 76.1 828.6 75.1 828.5 74.7 Z" fill="url(#gEar)"/>
<path d="M884.6 69.0 C884.9 68.3 895.2 62.7 896.1 62.4 C897.1 62.0 903.1 61.7 903.8 61.8 C904.5 62.0 909.8 64.9 910.4 65.4 C911.0 65.9 916.3 71.4 915.9 71.9 C915.5 72.4 904.2 74.6 902.9 74.8 C901.6 75.0 891.3 76.1 890.4 75.8 C889.5 75.5 884.3 69.7 884.6 69.0 Z" fill="url(#gEar)"/>
</g>
<g clip-path="url(#cp5)">
<rect x="945.4" y="48.8" width="177.2" height="298.5" fill="url(#gBg5)"/>
<path d="M969.3 48.8 L984.6 48.8 L984.6 347.3 L969.3 347.3 Z" fill="#bfc1c0" opacity="0.85"/>
<path d="M963.3 51.4 L980.77 51.4 M969.3 53.06 L975.42 53.06 M969.3 54.72 L975.42 54.72 M969.3 56.38 L975.42 56.38 M969.3 58.04 L975.42 58.04 M969.3 59.7 L977.72 59.7 M969.3 61.36 L975.42 61.36 M969.3 63.02 L975.42 63.02 M969.3 64.68 L975.42 64.68 M969.3 66.34 L975.42 66.34 M963.3 68 L980.77 68 M969.3 69.66 L975.42 69.66 M969.3 71.32 L975.42 71.32 M969.3 72.98 L975.42 72.98 M969.3 74.64 L975.42 74.64 M969.3 76.3 L977.72 76.3 M969.3 77.96 L975.42 77.96 M969.3 79.62 L975.42 79.62 M969.3 81.28 L975.42 81.28 M969.3 82.94 L975.42 82.94 M963.3 84.6 L980.77 84.6 M969.3 86.26 L975.42 86.26 M969.3 87.92 L975.42 87.92 M969.3 89.58 L975.42 89.58 M969.3 91.24 L975.42 91.24 M969.3 92.9 L977.72 92.9 M969.3 94.56 L975.42 94.56 M969.3 96.22 L975.42 96.22 M969.3 97.88 L975.42 97.88 M969.3 99.54 L975.42 99.54 M963.3 101.2 L980.77 101.2 M969.3 102.86 L975.42 102.86 M969.3 104.52 L975.42 104.52 M969.3 106.18 L975.42 106.18 M969.3 107.84 L975.42 107.84 M969.3 109.5 L977.72 109.5 M969.3 111.16 L975.42 111.16 M969.3 112.82 L975.42 112.82 M969.3 114.48 L975.42 114.48 M969.3 116.14 L975.42 116.14 M963.3 117.8 L980.77 117.8 M969.3 119.46 L975.42 119.46 M969.3 121.12 L975.42 121.12 M969.3 122.78 L975.42 122.78 M969.3 124.44 L975.42 124.44 M969.3 126.1 L977.72 126.1 M969.3 127.76 L975.42 127.76 M969.3 129.42 L975.42 129.42 M969.3 131.08 L975.42 131.08 M969.3 132.74 L975.42 132.74 M963.3 134.4 L980.77 134.4 M969.3 136.06 L975.42 136.06 M969.3 137.72 L975.42 137.72 M969.3 139.38 L975.42 139.38 M969.3 141.04 L975.42 141.04 M969.3 142.7 L977.72 142.7 M969.3 144.36 L975.42 144.36 M969.3 146.02 L975.42 146.02 M969.3 147.68 L975.42 147.68 M969.3 149.34 L975.42 149.34 M963.3 151 L980.77 151 M969.3 152.66 L975.42 152.66 M969.3 154.32 L975.42 154.32 M969.3 155.98 L975.42 155.98 M969.3 157.64 L975.42 157.64 M969.3 159.3 L977.72 159.3 M969.3 160.96 L975.42 160.96 M969.3 162.62 L975.42 162.62 M969.3 164.28 L975.42 164.28 M969.3 165.94 L975.42 165.94 M963.3 167.6 L980.77 167.6 M969.3 169.26 L975.42 169.26 M969.3 170.92 L975.42 170.92 M969.3 172.58 L975.42 172.58 M969.3 174.24 L975.42 174.24 M969.3 175.9 L977.72 175.9 M969.3 177.56 L975.42 177.56 M969.3 179.22 L975.42 179.22 M969.3 180.88 L975.42 180.88 M969.3 182.54 L975.42 182.54 M963.3 184.2 L980.77 184.2 M969.3 185.86 L975.42 185.86 M969.3 187.52 L975.42 187.52 M969.3 189.18 L975.42 189.18 M969.3 190.84 L975.42 190.84 M969.3 192.5 L977.72 192.5 M969.3 194.16 L975.42 194.16 M969.3 195.82 L975.42 195.82 M969.3 197.48 L975.42 197.48 M969.3 199.14 L975.42 199.14 M963.3 200.8 L980.77 200.8 M969.3 202.46 L975.42 202.46 M969.3 204.12 L975.42 204.12 M969.3 205.78 L975.42 205.78 M969.3 207.44 L975.42 207.44 M969.3 209.1 L977.72 209.1 M969.3 210.76 L975.42 210.76 M969.3 212.42 L975.42 212.42 M969.3 214.08 L975.42 214.08 M969.3 215.74 L975.42 215.74 M963.3 217.4 L980.77 217.4 M969.3 219.06 L975.42 219.06 M969.3 220.72 L975.42 220.72 M969.3 222.38 L975.42 222.38 M969.3 224.04 L975.42 224.04 M969.3 225.7 L977.72 225.7 M969.3 227.36 L975.42 227.36 M969.3 229.02 L975.42 229.02 M969.3 230.68 L975.42 230.68 M969.3 232.34 L975.42 232.34 M963.3 234 L980.77 234 M969.3 235.66 L975.42 235.66 M969.3 237.32 L975.42 237.32 M969.3 238.98 L975.42 238.98 M969.3 240.64 L975.42 240.64 M969.3 242.3 L977.72 242.3 M969.3 243.96 L975.42 243.96 M969.3 245.62 L975.42 245.62 M969.3 247.28 L975.42 247.28 M969.3 248.94 L975.42 248.94 M963.3 250.6 L980.77 250.6 M969.3 252.26 L975.42 252.26 M969.3 253.92 L975.42 253.92 M969.3 255.58 L975.42 255.58 M969.3 257.24 L975.42 257.24 M969.3 258.9 L977.72 258.9 M969.3 260.56 L975.42 260.56 M969.3 262.22 L975.42 262.22 M969.3 263.88 L975.42 263.88 M969.3 265.54 L975.42 265.54 M963.3 267.2 L980.77 267.2 M969.3 268.86 L975.42 268.86 M969.3 270.52 L975.42 270.52 M969.3 272.18 L975.42 272.18 M969.3 273.84 L975.42 273.84 M969.3 275.5 L977.72 275.5 M969.3 277.16 L975.42 277.16 M969.3 278.82 L975.42 278.82 M969.3 280.48 L975.42 280.48 M969.3 282.14 L975.42 282.14 M963.3 283.8 L980.77 283.8 M969.3 285.46 L975.42 285.46 M969.3 287.12 L975.42 287.12 M969.3 288.78 L975.42 288.78 M969.3 290.44 L975.42 290.44 M969.3 292.1 L977.72 292.1 M969.3 293.76 L975.42 293.76 M969.3 295.42 L975.42 295.42 M969.3 297.08 L975.42 297.08 M969.3 298.74 L975.42 298.74 M963.3 300.4 L980.77 300.4 M969.3 302.06 L975.42 302.06 M969.3 303.72 L975.42 303.72 M969.3 305.38 L975.42 305.38 M969.3 307.04 L975.42 307.04 M969.3 308.7 L977.72 308.7 M969.3 310.36 L975.42 310.36 M969.3 312.02 L975.42 312.02 M969.3 313.68 L975.42 313.68 M969.3 315.34 L975.42 315.34 M963.3 317 L980.77 317 M969.3 318.66 L975.42 318.66 M969.3 320.32 L975.42 320.32 M969.3 321.98 L975.42 321.98 M969.3 323.64 L975.42 323.64 M969.3 325.3 L977.72 325.3 M969.3 326.96 L975.42 326.96 M969.3 328.62 L975.42 328.62 M969.3 330.28 L975.42 330.28 M969.3 331.94 L975.42 331.94 M963.3 333.6 L980.77 333.6 M969.3 335.26 L975.42 335.26 M969.3 336.92 L975.42 336.92 M969.3 338.58 L975.42 338.58 M969.3 340.24 L975.42 340.24 M969.3 341.9 L977.72 341.9 M969.3 343.56 L975.42 343.56 M969.3 345.22 L975.42 345.22 M969.3 346.88 L975.42 346.88" stroke="#8e9291" stroke-width="0.7" fill="none"/>
<text x="958.3" y="54.4" font-size="8.5" font-weight="bold" fill="#333" text-anchor="middle" transform="rotate(90 958.3 51.4)">0</text>
<text x="958.3" y="71" font-size="8.5" font-weight="bold" fill="#333" text-anchor="middle" transform="rotate(90 958.3 68)">1</text>
<text x="958.3" y="87.6" font-size="8.5" font-weight="bold" fill="#333" text-anchor="middle" transform="rotate(90 958.3 84.6)">2</text>
<text x="958.3" y="104.2" font-size="8.5" font-weight="bold" fill="#333" text-anchor="middle" transform="rotate(90 958.3 101.2)">3</text>
<text x="958.3" y="120.8" font-size="8.5" font-weight="bold" fill="#333" text-anchor="middle" transform="rotate(90 958.3 117.8)">4</text>
<text x="958.3" y="137.4" font-size="8.5" font-weight="bold" fill="#333" text-anchor="middle" transform="rotate(90 958.3 134.4)">5</text>
<text x="958.3" y="154" font-size="8.5" font-weight="bold" fill="#333" text-anchor="middle" transform="rotate(90 958.3 151)">6</text>
<text x="958.3" y="170.6" font-size="8.5" font-weight="bold" fill="#333" text-anchor="middle" transform="rotate(90 958.3 167.6)">7</text>
<text x="958.3" y="187.2" font-size="8.5" font-weight="bold" fill="#333" text-anchor="middle" transform="rotate(90 958.3 184.2)">8</text>
<text x="958.3" y="203.8" font-size="8.5" font-weight="bold" fill="#333" text-anchor="middle" transform="rotate(90 958.3 200.8)">9</text>
<text x="958.3" y="220.4" font-size="8.5" font-weight="bold" fill="#333" text-anchor="middle" transform="rotate(90 958.3 217.4)">10</text>
<text x="958.3" y="237" font-size="8.5" font-weight="bold" fill="#333" text-anchor="middle" transform="rotate(90 958.3 234)">11</text>
<text x="958.3" y="253.6" font-size="8.5" font-weight="bold" fill="#333" text-anchor="middle" transform="rotate(90 958.3 250.6)">12</text>
<text x="958.3" y="270.2" font-size="8.5" font-weight="bold" fill="#333" text-anchor="middle" transform="rotate(90 958.3 267.2)">13</text>
<text x="958.3" y="286.8" font-size="8.5" font-weight="bold" fill="#333" text-anchor="middle" transform="rotate(90 958.3 283.8)">14</text>
<text x="958.3" y="303.4" font-size="8.5" font-weight="bold" fill="#333" text-anchor="middle" transform="rotate(90 958.3 300.4)">15</text>
<text x="958.3" y="320" font-size="8.5" font-weight="bold" fill="#333" text-anchor="middle" transform="rotate(90 958.3 317)">16</text>
<text x="958.3" y="336.6" font-size="8.5" font-weight="bold" fill="#333" text-anchor="middle" transform="rotate(90 958.3 333.6)">17</text>
<line x1="945.4" y1="54.2" x2="1122.6" y2="54.2" stroke="#555" stroke-width="1"/>
<ellipse cx="1036.5" cy="203" rx="6" ry="5.5" fill="#e4deb0"/>
<path d="M978.0 200.0 C977.5 198.2 981.3 192.8 985.0 191.0 C988.7 189.2 994.7 189.8 1000.0 189.0 C1005.3 188.2 1014.2 185.9 1017.0 186.4 C1019.8 186.9 1019.8 190.4 1017.0 192.0 C1014.2 193.6 1004.8 194.4 1000.0 196.0 C995.2 197.6 991.7 201.0 988.0 201.7 C984.3 202.4 978.5 201.8 978.0 200.0 Z" fill="#d3a293"/>
<path d="M1080.5 190.0 C1080.2 188.2 1088.4 188.0 1092.0 189.0 C1095.6 190.0 1099.2 193.7 1102.0 196.0 C1104.8 198.3 1108.7 201.3 1109.0 203.0 C1109.3 204.7 1106.5 206.5 1104.0 206.0 C1101.5 205.5 1097.9 202.7 1094.0 200.0 C1090.1 197.3 1080.8 191.8 1080.5 190.0 Z" fill="#d3a293"/>
<path d="M1042.8 196.6 L1042.7 198.6 L1042.6 201.2 L1042.4 204.3 L1042.2 207.7 L1042.0 211.4 L1041.8 215.2 L1041.5 219.1 L1041.2 222.8 L1040.9 226.4 L1040.5 229.6 L1040.1 232.6 L1039.6 235.5 L1039.1 238.4 L1038.6 241.3 L1038.0 244.2 L1037.4 247.1 L1036.8 250.0 L1036.2 252.9 L1035.7 255.8 L1035.2 258.8 L1034.7 261.8 L1034.3 264.9 L1033.9 267.9 L1033.6 270.8 L1033.2 273.8 L1032.9 276.8 L1032.5 279.7 L1032.1 282.5 L1031.7 285.4 L1031.3 288.1 L1030.8 290.9 L1030.3 293.7 L1029.8 296.5 L1029.3 299.3 L1028.7 302.1 L1028.1 304.8 L1027.6 307.4 L1027.1 309.9 L1026.6 312.3 L1026.1 314.4 L1025.6 316.4 L1025.2 318.3 L1024.8 320.1 L1024.3 321.8 L1023.9 323.4 L1023.5 324.8 L1023.1 326.1 L1022.8 327.3 L1022.6 328.3 L1022.4 329.2 L1027.6 330.8 L1027.9 330.0 L1028.3 329.0 L1028.7 327.9 L1029.2 326.6 L1029.7 325.1 L1030.2 323.5 L1030.8 321.8 L1031.4 320.0 L1031.9 318.0 L1032.5 316.0 L1033.1 313.8 L1033.7 311.5 L1034.3 309.0 L1035.0 306.4 L1035.7 303.7 L1036.4 300.9 L1037.0 298.1 L1037.7 295.2 L1038.3 292.3 L1038.9 289.5 L1039.4 286.6 L1040.0 283.7 L1040.4 280.8 L1040.9 277.9 L1041.4 274.9 L1041.8 272.0 L1042.3 269.1 L1042.8 266.1 L1043.3 263.2 L1043.8 260.4 L1044.4 257.5 L1045.0 254.7 L1045.7 251.9 L1046.4 249.1 L1047.1 246.2 L1047.8 243.3 L1048.5 240.3 L1049.1 237.3 L1049.8 234.2 L1050.3 231.0 L1050.8 227.6 L1051.3 223.9 L1051.7 220.0 L1052.1 216.1 L1052.4 212.2 L1052.8 208.5 L1053.1 205.0 L1053.3 202.0 L1053.6 199.4 L1053.8 197.4 Z" fill="url(#gTail)"/>
<line x1="1025" y1="329" x2="1022.5" y2="340.5" stroke="#d8c4bc" stroke-width="4.5" stroke-linecap="round"/>
<path d="M1041.2 54.2 C1045.0 54.2 1050.4 56.6 1055.0 58.9 C1059.6 61.2 1064.7 64.9 1068.9 68.1 C1073.1 71.3 1076.5 74.9 1080.0 78.0 C1083.5 81.1 1087.1 82.8 1090.2 86.6 C1093.3 90.3 1096.7 93.6 1098.5 100.5 C1100.3 107.4 1099.8 119.6 1101.0 127.8 C1102.2 136.0 1103.9 143.7 1105.4 149.8 C1106.9 155.9 1110.5 159.5 1109.8 164.4 C1109.1 169.3 1106.6 174.6 1101.0 179.0 C1095.4 183.4 1084.8 187.4 1076.0 190.8 C1067.2 194.2 1057.3 199.5 1048.3 199.5 C1039.3 199.5 1030.0 194.2 1022.0 190.8 C1014.0 187.4 1004.8 183.4 1000.0 179.0 C995.2 174.6 993.6 169.3 993.4 164.4 C993.1 159.5 995.9 155.9 998.5 149.8 C1001.1 143.7 1007.4 136.0 1008.8 127.8 C1010.2 119.6 1006.7 107.4 1007.0 100.5 C1007.3 93.6 1008.2 90.3 1010.7 86.6 C1013.2 82.8 1018.9 81.1 1022.0 78.0 C1025.1 74.9 1027.5 71.3 1029.2 68.1 C1030.9 64.9 1030.0 61.2 1032.0 58.9 C1034.0 56.6 1037.4 54.2 1041.2 54.2 Z" fill="#2c2825" stroke="#2f2a27" stroke-width="2" filter="url(#fSoft)"/>
<path d="M1042.6 63.5 C1045.8 63.5 1050.3 65.6 1054.2 67.6 C1058.1 69.6 1062.4 72.8 1065.9 75.5 C1069.4 78.2 1072.2 81.4 1075.2 84.0 C1078.2 86.7 1081.2 88.2 1083.8 91.4 C1086.3 94.6 1089.2 97.5 1090.7 103.4 C1092.2 109.3 1091.9 119.8 1092.8 126.8 C1093.8 133.9 1095.3 140.5 1096.5 145.8 C1097.8 151.0 1100.8 154.1 1100.2 158.3 C1099.6 162.5 1097.6 167.1 1092.8 170.9 C1088.1 174.7 1079.2 178.1 1071.8 181.0 C1064.5 184.0 1056.1 188.5 1048.6 188.5 C1041.0 188.5 1033.2 184.0 1026.5 181.0 C1019.7 178.1 1012.0 174.7 1008.0 170.9 C1004.0 167.1 1002.7 162.5 1002.4 158.3 C1002.2 154.1 1004.6 151.0 1006.7 145.8 C1008.9 140.5 1014.2 133.9 1015.4 126.8 C1016.6 119.8 1013.6 109.3 1013.9 103.4 C1014.1 97.5 1014.9 94.6 1017.0 91.4 C1019.1 88.2 1023.9 86.7 1026.5 84.0 C1029.1 81.4 1031.1 78.2 1032.5 75.5 C1033.9 72.8 1033.2 69.6 1034.9 67.6 C1036.6 65.6 1039.4 63.5 1042.6 63.5 Z" fill="#121111" filter="url(#fSoft2)"/>
<path d="M1009.3 81.7 C1009.0 81.3 1012.2 75.5 1012.6 74.9 C1013.1 74.3 1017.0 70.3 1017.9 70.1 C1018.8 69.9 1029.4 70.4 1030.4 70.7 C1031.4 70.9 1038.1 74.8 1038.1 75.4 C1038.1 76.1 1031.4 82.8 1030.4 83.1 C1029.4 83.5 1019.9 83.2 1018.9 83.1 C1017.8 83.1 1009.6 82.1 1009.3 81.7 Z" fill="url(#gEar)"/>
<path d="M1068.4 68.0 C1068.6 67.4 1077.3 65.7 1078.0 65.6 C1078.8 65.5 1083.1 64.9 1083.7 65.1 C1084.4 65.2 1089.7 68.0 1090.3 68.4 C1090.9 68.8 1096.4 73.4 1096.2 73.8 C1096.1 74.2 1088.7 76.4 1087.6 76.6 C1086.4 76.8 1074.2 78.0 1073.2 77.6 C1072.3 77.1 1068.1 68.6 1068.4 68.0 Z" fill="url(#gEar)"/>
</g>
<g clip-path="url(#cp6)">
<rect x="1131" y="50" width="160" height="297.3" fill="url(#gBg6)"/>
<rect x="1131" y="329" width="160" height="18.3" fill="#c4bf9f"/>
<path d="M1157.3 50 L1172.1 50 L1172.1 347.3 L1157.3 347.3 Z" fill="#bfc1c0" opacity="0.85"/>
<path d="M1151.3 48.1 L1168.4 48.1 M1157.3 49.73 L1163.22 49.73 M1157.3 51.37 L1163.22 51.37 M1157.3 53 L1163.22 53 M1157.3 54.64 L1163.22 54.64 M1157.3 56.27 L1165.44 56.27 M1157.3 57.91 L1163.22 57.91 M1157.3 59.54 L1163.22 59.54 M1157.3 61.18 L1163.22 61.18 M1157.3 62.81 L1163.22 62.81 M1151.3 64.45 L1168.4 64.45 M1157.3 66.08 L1163.22 66.08 M1157.3 67.72 L1163.22 67.72 M1157.3 69.36 L1163.22 69.36 M1157.3 70.99 L1163.22 70.99 M1157.3 72.63 L1165.44 72.63 M1157.3 74.26 L1163.22 74.26 M1157.3 75.9 L1163.22 75.9 M1157.3 77.53 L1163.22 77.53 M1157.3 79.17 L1163.22 79.17 M1151.3 80.8 L1168.4 80.8 M1157.3 82.44 L1163.22 82.44 M1157.3 84.07 L1163.22 84.07 M1157.3 85.71 L1163.22 85.71 M1157.3 87.34 L1163.22 87.34 M1157.3 88.98 L1165.44 88.98 M1157.3 90.61 L1163.22 90.61 M1157.3 92.25 L1163.22 92.25 M1157.3 93.88 L1163.22 93.88 M1157.3 95.52 L1163.22 95.52 M1151.3 97.15 L1168.4 97.15 M1157.3 98.79 L1163.22 98.79 M1157.3 100.42 L1163.22 100.42 M1157.3 102.06 L1163.22 102.06 M1157.3 103.69 L1163.22 103.69 M1157.3 105.33 L1165.44 105.33 M1157.3 106.96 L1163.22 106.96 M1157.3 108.6 L1163.22 108.6 M1157.3 110.23 L1163.22 110.23 M1157.3 111.87 L1163.22 111.87 M1151.3 113.5 L1168.4 113.5 M1157.3 115.14 L1163.22 115.14 M1157.3 116.77 L1163.22 116.77 M1157.3 118.41 L1163.22 118.41 M1157.3 120.04 L1163.22 120.04 M1157.3 121.68 L1165.44 121.68 M1157.3 123.31 L1163.22 123.31 M1157.3 124.95 L1163.22 124.95 M1157.3 126.58 L1163.22 126.58 M1157.3 128.22 L1163.22 128.22 M1151.3 129.85 L1168.4 129.85 M1157.3 131.49 L1163.22 131.49 M1157.3 133.12 L1163.22 133.12 M1157.3 134.76 L1163.22 134.76 M1157.3 136.39 L1163.22 136.39 M1157.3 138.03 L1165.44 138.03 M1157.3 139.66 L1163.22 139.66 M1157.3 141.3 L1163.22 141.3 M1157.3 142.93 L1163.22 142.93 M1157.3 144.57 L1163.22 144.57 M1151.3 146.2 L1168.4 146.2 M1157.3 147.84 L1163.22 147.84 M1157.3 149.47 L1163.22 149.47 M1157.3 151.11 L1163.22 151.11 M1157.3 152.74 L1163.22 152.74 M1157.3 154.38 L1165.44 154.38 M1157.3 156.01 L1163.22 156.01 M1157.3 157.65 L1163.22 157.65 M1157.3 159.28 L1163.22 159.28 M1157.3 160.91 L1163.22 160.91 M1151.3 162.55 L1168.4 162.55 M1157.3 164.18 L1163.22 164.18 M1157.3 165.82 L1163.22 165.82 M1157.3 167.45 L1163.22 167.45 M1157.3 169.09 L1163.22 169.09 M1157.3 170.72 L1165.44 170.72 M1157.3 172.36 L1163.22 172.36 M1157.3 173.99 L1163.22 173.99 M1157.3 175.63 L1163.22 175.63 M1157.3 177.26 L1163.22 177.26 M1151.3 178.9 L1168.4 178.9 M1157.3 180.53 L1163.22 180.53 M1157.3 182.17 L1163.22 182.17 M1157.3 183.8 L1163.22 183.8 M1157.3 185.44 L1163.22 185.44 M1157.3 187.07 L1165.44 187.07 M1157.3 188.71 L1163.22 188.71 M1157.3 190.34 L1163.22 190.34 M1157.3 191.98 L1163.22 191.98 M1157.3 193.61 L1163.22 193.61 M1151.3 195.25 L1168.4 195.25 M1157.3 196.88 L1163.22 196.88 M1157.3 198.52 L1163.22 198.52 M1157.3 200.15 L1163.22 200.15 M1157.3 201.79 L1163.22 201.79 M1157.3 203.42 L1165.44 203.42 M1157.3 205.06 L1163.22 205.06 M1157.3 206.69 L1163.22 206.69 M1157.3 208.33 L1163.22 208.33 M1157.3 209.96 L1163.22 209.96 M1151.3 211.6 L1168.4 211.6 M1157.3 213.23 L1163.22 213.23 M1157.3 214.87 L1163.22 214.87 M1157.3 216.5 L1163.22 216.5 M1157.3 218.14 L1163.22 218.14 M1157.3 219.77 L1165.44 219.77 M1157.3 221.41 L1163.22 221.41 M1157.3 223.04 L1163.22 223.04 M1157.3 224.68 L1163.22 224.68 M1157.3 226.31 L1163.22 226.31 M1151.3 227.95 L1168.4 227.95 M1157.3 229.58 L1163.22 229.58 M1157.3 231.22 L1163.22 231.22 M1157.3 232.85 L1163.22 232.85 M1157.3 234.49 L1163.22 234.49 M1157.3 236.12 L1165.44 236.12 M1157.3 237.76 L1163.22 237.76 M1157.3 239.39 L1163.22 239.39 M1157.3 241.03 L1163.22 241.03 M1157.3 242.66 L1163.22 242.66 M1151.3 244.3 L1168.4 244.3 M1157.3 245.93 L1163.22 245.93 M1157.3 247.57 L1163.22 247.57 M1157.3 249.2 L1163.22 249.2 M1157.3 250.84 L1163.22 250.84 M1157.3 252.47 L1165.44 252.47 M1157.3 254.11 L1163.22 254.11 M1157.3 255.74 L1163.22 255.74 M1157.3 257.38 L1163.22 257.38 M1157.3 259.01 L1163.22 259.01 M1151.3 260.65 L1168.4 260.65 M1157.3 262.28 L1163.22 262.28 M1157.3 263.92 L1163.22 263.92 M1157.3 265.55 L1163.22 265.55 M1157.3 267.19 L1163.22 267.19 M1157.3 268.82 L1165.44 268.82 M1157.3 270.46 L1163.22 270.46 M1157.3 272.09 L1163.22 272.09 M1157.3 273.73 L1163.22 273.73 M1157.3 275.36 L1163.22 275.36 M1151.3 277 L1168.4 277 M1157.3 278.63 L1163.22 278.63 M1157.3 280.27 L1163.22 280.27 M1157.3 281.9 L1163.22 281.9 M1157.3 283.54 L1163.22 283.54 M1157.3 285.17 L1165.44 285.17 M1157.3 286.81 L1163.22 286.81 M1157.3 288.44 L1163.22 288.44 M1157.3 290.08 L1163.22 290.08 M1157.3 291.71 L1163.22 291.71 M1151.3 293.35 L1168.4 293.35 M1157.3 294.98 L1163.22 294.98 M1157.3 296.62 L1163.22 296.62 M1157.3 298.25 L1163.22 298.25 M1157.3 299.89 L1163.22 299.89 M1157.3 301.52 L1165.44 301.52 M1157.3 303.16 L1163.22 303.16 M1157.3 304.79 L1163.22 304.79 M1157.3 306.43 L1163.22 306.43 M1157.3 308.06 L1163.22 308.06 M1151.3 309.7 L1168.4 309.7 M1157.3 311.33 L1163.22 311.33 M1157.3 312.97 L1163.22 312.97 M1157.3 314.6 L1163.22 314.6 M1157.3 316.24 L1163.22 316.24 M1157.3 317.87 L1165.44 317.87 M1157.3 319.51 L1163.22 319.51 M1157.3 321.14 L1163.22 321.14 M1157.3 322.78 L1163.22 322.78 M1157.3 324.41 L1163.22 324.41 M1151.3 326.05 L1168.4 326.05 M1157.3 327.68 L1163.22 327.68 M1157.3 329.32 L1163.22 329.32 M1157.3 330.95 L1163.22 330.95 M1157.3 332.59 L1163.22 332.59 M1157.3 334.22 L1165.44 334.22 M1157.3 335.86 L1163.22 335.86 M1157.3 337.49 L1163.22 337.49 M1157.3 339.13 L1163.22 339.13 M1157.3 340.76 L1163.22 340.76 M1151.3 342.4 L1168.4 342.4 M1157.3 344.03 L1163.22 344.03 M1157.3 345.67 L1163.22 345.67" stroke="#8e9291" stroke-width="0.7" fill="none"/>
<text x="1146.3" y="51.1" font-size="8.5" font-weight="bold" fill="#333" text-anchor="middle" transform="rotate(90 1146.3 48.1)">0</text>
<text x="1146.3" y="67.45" font-size="8.5" font-weight="bold" fill="#333" text-anchor="middle" transform="rotate(90 1146.3 64.45)">1</text>
<text x="1146.3" y="83.8" font-size="8.5" font-weight="bold" fill="#333" text-anchor="middle" transform="rotate(90 1146.3 80.8)">2</text>
<text x="1146.3" y="100.15" font-size="8.5" font-weight="bold" fill="#333" text-anchor="middle" transform="rotate(90 1146.3 97.15)">3</text>
<text x="1146.3" y="116.5" font-size="8.5" font-weight="bold" fill="#333" text-anchor="middle" transform="rotate(90 1146.3 113.5)">4</text>
<text x="1146.3" y="132.85" font-size="8.5" font-weight="bold" fill="#333" text-anchor="middle" transform="rotate(90 1146.3 129.85)">5</text>
<text x="1146.3" y="149.2" font-size="8.5" font-weight="bold" fill="#333" text-anchor="middle" transform="rotate(90 1146.3 146.2)">6</text>
<text x="1146.3" y="165.55" font-size="8.5" font-weight="bold" fill="#333" text-anchor="middle" transform="rotate(90 1146.3 162.55)">7</text>
<text x="1146.3" y="181.9" font-size="8.5" font-weight="bold" fill="#333" text-anchor="middle" transform="rotate(90 1146.3 178.9)">8</text>
<text x="1146.3" y="198.25" font-size="8.5" font-weight="bold" fill="#333" text-anchor="middle" transform="rotate(90 1146.3 195.25)">9</text>
<text x="1146.3" y="214.6" font-size="8.5" font-weight="bold" fill="#333" text-anchor="middle" transform="rotate(90 1146.3 211.6)">10</text>
<text x="1146.3" y="230.95" font-size="8.5" font-weight="bold" fill="#333" text-anchor="middle" transform="rotate(90 1146.3 227.95)">11</text>
<text x="1146.3" y="247.3" font-size="8.5" font-weight="bold" fill="#333" text-anchor="middle" transform="rotate(90 1146.3 244.3)">12</text>
<text x="1146.3" y="263.65" font-size="8.5" font-weight="bold" fill="#333" text-anchor="middle" transform="rotate(90 1146.3 260.65)">13</text>
<text x="1146.3" y="280" font-size="8.5" font-weight="bold" fill="#333" text-anchor="middle" transform="rotate(90 1146.3 277)">14</text>
<text x="1146.3" y="296.35" font-size="8.5" font-weight="bold" fill="#333" text-anchor="middle" transform="rotate(90 1146.3 293.35)">15</text>
<text x="1146.3" y="312.7" font-size="8.5" font-weight="bold" fill="#333" text-anchor="middle" transform="rotate(90 1146.3 309.7)">16</text>
<text x="1146.3" y="329.05" font-size="8.5" font-weight="bold" fill="#333" text-anchor="middle" transform="rotate(90 1146.3 326.05)">17</text>
<text x="1146.3" y="345.4" font-size="8.5" font-weight="bold" fill="#333" text-anchor="middle" transform="rotate(90 1146.3 342.4)">18</text>
<path d="M1176.0 192.0 C1176.8 190.2 1179.8 188.7 1183.0 189.0 C1186.2 189.3 1192.7 191.8 1195.0 194.0 C1197.3 196.2 1198.3 200.3 1197.0 202.0 C1195.7 203.7 1190.2 204.3 1187.0 204.0 C1183.8 203.7 1179.8 202.0 1178.0 200.0 C1176.2 198.0 1175.2 193.8 1176.0 192.0 Z" fill="#d3a293"/>
<path d="M1249.0 192.0 C1249.7 190.6 1254.5 188.2 1257.0 187.7 C1259.5 187.2 1263.2 187.8 1264.0 189.0 C1264.8 190.2 1263.8 193.8 1262.0 195.0 C1260.2 196.2 1255.2 196.5 1253.0 196.0 C1250.8 195.5 1248.3 193.4 1249.0 192.0 Z" fill="#d3a293"/>
<path d="M1207.3 200.1 L1207.0 202.2 L1206.5 204.8 L1206.0 208.0 L1205.3 211.6 L1204.7 215.5 L1204.0 219.6 L1203.4 223.9 L1202.9 228.2 L1202.5 232.5 L1202.4 236.7 L1202.4 240.9 L1202.6 245.1 L1202.9 249.4 L1203.4 253.7 L1203.9 258.0 L1204.4 262.3 L1204.9 266.6 L1205.3 270.8 L1205.7 275.0 L1205.9 279.2 L1206.0 283.4 L1206.0 287.8 L1206.0 292.3 L1205.9 296.9 L1205.8 301.4 L1205.7 305.8 L1205.6 310.1 L1205.5 314.1 L1205.3 317.8 L1205.3 321.2 L1205.2 324.2 L1205.1 327.0 L1205.0 329.6 L1204.9 331.9 L1204.8 334.1 L1204.8 336.1 L1204.7 337.8 L1204.6 339.4 L1204.6 340.7 L1204.6 341.9 L1208.6 342.1 L1208.8 341.0 L1208.9 339.7 L1209.1 338.2 L1209.4 336.4 L1209.6 334.5 L1209.8 332.3 L1210.1 329.9 L1210.3 327.3 L1210.5 324.5 L1210.7 321.4 L1211.0 318.1 L1211.2 314.4 L1211.5 310.4 L1211.8 306.1 L1212.1 301.7 L1212.3 297.1 L1212.6 292.5 L1212.7 287.9 L1212.9 283.4 L1212.9 279.0 L1212.8 274.7 L1212.6 270.3 L1212.3 265.9 L1212.0 261.5 L1211.6 257.2 L1211.3 253.0 L1211.0 248.8 L1210.8 244.7 L1210.7 240.8 L1210.8 237.1 L1211.2 233.2 L1211.6 229.3 L1212.3 225.2 L1213.0 221.1 L1213.8 217.2 L1214.6 213.4 L1215.3 209.9 L1216.1 206.7 L1216.7 204.0 L1217.1 201.9 Z" fill="url(#gTail)"/>
<path d="M1225.5 50.5 C1232.1 50.5 1240.6 55.6 1246.7 58.9 C1252.8 62.1 1258.2 66.9 1262.0 70.0 C1265.8 73.1 1267.7 73.8 1269.8 77.3 C1271.9 80.8 1272.9 86.7 1274.4 91.2 C1275.9 95.7 1277.8 99.7 1279.0 104.1 C1280.2 108.5 1281.1 111.7 1281.8 117.4 C1282.5 123.1 1283.3 131.5 1283.2 138.5 C1283.1 145.5 1282.6 152.5 1281.1 159.5 C1279.6 166.5 1278.9 174.7 1274.0 180.6 C1269.1 186.5 1261.9 190.9 1251.6 194.7 C1241.3 198.4 1223.5 203.1 1212.2 203.1 C1200.9 203.1 1191.7 198.4 1184.0 194.7 C1176.3 190.9 1169.2 186.5 1165.8 180.6 C1162.4 174.7 1164.3 166.5 1163.7 159.5 C1163.1 152.5 1161.2 145.5 1162.3 138.5 C1163.3 131.5 1167.5 123.1 1170.0 117.4 C1172.5 111.7 1175.6 108.5 1177.4 104.1 C1179.2 99.7 1179.6 95.7 1181.0 91.2 C1182.4 86.7 1183.4 81.2 1185.7 77.3 C1188.0 73.4 1191.5 71.1 1195.0 68.0 C1198.5 64.9 1201.9 61.8 1207.0 58.9 C1212.1 56.0 1218.9 50.5 1225.5 50.5 Z" fill="#2c2825" stroke="#2f2a27" stroke-width="2" filter="url(#fSoft)"/>
<path d="M1225.3 60.2 C1230.9 60.2 1238.0 64.6 1243.1 67.4 C1248.2 70.2 1252.7 74.3 1256.0 77.0 C1259.2 79.6 1260.8 80.2 1262.5 83.3 C1264.2 86.3 1265.1 91.4 1266.4 95.2 C1267.7 99.0 1269.2 102.5 1270.2 106.3 C1271.3 110.1 1272.0 112.8 1272.6 117.7 C1273.2 122.7 1273.9 129.9 1273.8 135.9 C1273.7 141.9 1273.3 147.9 1272.0 153.9 C1270.7 160.0 1270.2 167.0 1266.0 172.1 C1261.9 177.1 1255.9 181.0 1247.2 184.2 C1238.6 187.4 1223.6 191.4 1214.1 191.4 C1204.7 191.4 1196.9 187.4 1190.4 184.2 C1183.9 181.0 1178.0 177.1 1175.1 172.1 C1172.3 167.0 1173.9 160.0 1173.4 153.9 C1172.9 147.9 1171.3 141.9 1172.2 135.9 C1173.1 129.9 1176.6 122.7 1178.7 117.7 C1180.8 112.8 1183.4 110.1 1184.9 106.3 C1186.4 102.5 1186.8 99.0 1187.9 95.2 C1189.1 91.4 1189.9 86.6 1191.9 83.3 C1193.8 79.9 1196.7 77.9 1199.7 75.3 C1202.7 72.6 1205.5 69.9 1209.8 67.4 C1214.0 64.9 1219.7 60.2 1225.3 60.2 Z" fill="#121111" filter="url(#fSoft2)"/>
<path d="M1184.4 68.2 C1184.3 67.7 1188.2 62.4 1188.7 61.9 C1189.3 61.3 1194.2 57.8 1195.0 57.6 C1195.7 57.4 1203.0 58.2 1203.6 58.6 C1204.2 59.1 1206.6 65.7 1206.4 66.3 C1206.3 67.0 1201.5 71.8 1200.7 72.1 C1199.9 72.3 1190.9 71.7 1190.1 71.5 C1189.3 71.4 1184.4 68.7 1184.4 68.2 Z" fill="url(#gEar)"/>
<path d="M1246.2 60.6 C1246.4 59.9 1254.1 56.1 1254.8 55.8 C1255.6 55.6 1260.1 56.2 1260.7 56.4 C1261.2 56.6 1265.7 59.5 1266.3 59.9 C1266.8 60.3 1271.9 64.5 1271.7 65.0 C1271.5 65.5 1263.6 70.0 1262.5 70.3 C1261.5 70.6 1251.8 70.8 1251.0 70.3 C1250.2 69.8 1246.0 61.3 1246.2 60.6 Z" fill="url(#gEar)"/>
</g>
<text x="147.35" y="394.5" font-size="29.5" font-weight="normal" text-anchor="middle" fill="#000" transform="translate(147.35 394.5) scale(1.5 1) translate(-147.35 -394.5)" letter-spacing="1">C</text>
<text x="323.75" y="394.5" font-size="29.5" font-weight="normal" text-anchor="middle" fill="#000" transform="translate(323.75 394.5) scale(1.5 1) translate(-323.75 -394.5)" letter-spacing="1">C+VK2</text>
<text x="514.25" y="394.5" font-size="29.5" font-weight="normal" text-anchor="middle" fill="#000" transform="translate(514.25 394.5) scale(1.5 1) translate(-514.25 -394.5)" letter-spacing="1">HFD</text>
<text x="712.95" y="394.5" font-size="29.5" font-weight="normal" text-anchor="middle" fill="#000" transform="translate(712.95 394.5) scale(1.5 1) translate(-712.95 -394.5)" letter-spacing="1">HFD+</text>
<text x="712.45" y="426.6" font-size="29.5" font-weight="normal" text-anchor="middle" fill="#000" transform="translate(712.45 426.6) scale(1.5 1) translate(-712.45 -426.6)" letter-spacing="1">VK2(L)</text>
<text x="869.75" y="394.5" font-size="29.5" font-weight="normal" text-anchor="middle" fill="#000" transform="translate(869.75 394.5) scale(1.5 1) translate(-869.75 -394.5)" letter-spacing="1">HFD+</text>
<text x="869.75" y="426.6" font-size="29.5" font-weight="normal" text-anchor="middle" fill="#000" transform="translate(869.75 426.6) scale(1.5 1) translate(-869.75 -426.6)" letter-spacing="1">VK2(M)</text>
<text x="1039.15" y="394.5" font-size="29.5" font-weight="normal" text-anchor="middle" fill="#000" transform="translate(1039.15 394.5) scale(1.5 1) translate(-1039.15 -394.5)" letter-spacing="1">HFD+</text>
<text x="1039.15" y="426.6" font-size="29.5" font-weight="normal" text-anchor="middle" fill="#000" transform="translate(1039.15 426.6) scale(1.5 1) translate(-1039.15 -426.6)" letter-spacing="1">VK2(H)</text>
<text x="1220.45" y="394.5" font-size="29.5" font-weight="normal" text-anchor="middle" fill="#000" transform="translate(1220.45 394.5) scale(1.5 1) translate(-1220.45 -394.5)" letter-spacing="1">HFD+V</text>
<text x="0" y="0" font-size="48.99" transform="translate(3.55 37.45) scale(0.8228 1)" fill="#000" stroke="#000" stroke-width="1.3">A</text>
<text x="0" y="0" font-size="49.86" transform="translate(11.65 534.45) scale(0.7761 1)" fill="#000" stroke="#000" stroke-width="1.3">B</text>
<text x="0" y="0" font-size="49.15" transform="translate(673.09 532.96) scale(0.7556 1)" fill="#000" stroke="#000" stroke-width="1.3">C</text>
<text x="0" y="0" font-size="50" transform="translate(10.4 1139.35) scale(0.8874 1)" fill="#000" stroke="#000" stroke-width="1.3">D</text>
<text x="0" y="0" font-size="48.99" transform="translate(675.07 1140.85) scale(0.6592 1)" fill="#000" stroke="#000" stroke-width="1.3">E</text>
<text x="0" y="0" font-size="48.99" transform="translate(17.47 1664.05) scale(0.7082 1)" fill="#000" stroke="#000" stroke-width="1.3">F</text>
<line x1="90.7" y1="639" x2="90.7" y2="904.9" stroke="#000" stroke-width="2.2" stroke-linecap="butt"/>
<line x1="80.2" y1="903.8" x2="91.8" y2="903.8" stroke="#000" stroke-width="2.1" stroke-linecap="butt"/>
<text x="75.6" y="910.8" font-size="20" font-weight="bold" text-anchor="end" fill="#000">0</text>
<line x1="80.2" y1="851" x2="91.8" y2="851" stroke="#000" stroke-width="2.1" stroke-linecap="butt"/>
<text x="75.6" y="858" font-size="20" font-weight="bold" text-anchor="end" fill="#000">10</text>
<line x1="80.2" y1="798.2" x2="91.8" y2="798.2" stroke="#000" stroke-width="2.1" stroke-linecap="butt"/>
<text x="75.6" y="805.2" font-size="20" font-weight="bold" text-anchor="end" fill="#000">20</text>
<line x1="80.2" y1="745.4" x2="91.8" y2="745.4" stroke="#000" stroke-width="2.1" stroke-linecap="butt"/>
<text x="75.6" y="752.4" font-size="20" font-weight="bold" text-anchor="end" fill="#000">30</text>
<line x1="80.2" y1="692.6" x2="91.8" y2="692.6" stroke="#000" stroke-width="2.1" stroke-linecap="butt"/>
<text x="75.6" y="699.6" font-size="20" font-weight="bold" text-anchor="end" fill="#000">40</text>
<line x1="80.2" y1="639.8" x2="91.8" y2="639.8" stroke="#000" stroke-width="2.1" stroke-linecap="butt"/>
<text x="75.6" y="646.8" font-size="20" font-weight="bold" text-anchor="end" fill="#000">50</text>
<line x1="80.2" y1="903.8" x2="487" y2="903.8" stroke="#000" stroke-width="2.2" stroke-linecap="butt"/>
<line x1="111.4" y1="903.8" x2="111.4" y2="914.7" stroke="#000" stroke-width="2.2" stroke-linecap="butt"/>
<text x="111.4" y="935.8" font-size="18" font-weight="bold" text-anchor="middle" fill="#000">1</text>
<line x1="143.45" y1="903.8" x2="143.45" y2="914.7" stroke="#000" stroke-width="2.2" stroke-linecap="butt"/>
<text x="143.45" y="935.8" font-size="18" font-weight="bold" text-anchor="middle" fill="#000">2</text>
<line x1="175.5" y1="903.8" x2="175.5" y2="914.7" stroke="#000" stroke-width="2.2" stroke-linecap="butt"/>
<text x="175.5" y="935.8" font-size="18" font-weight="bold" text-anchor="middle" fill="#000">3</text>
<line x1="207.55" y1="903.8" x2="207.55" y2="914.7" stroke="#000" stroke-width="2.2" stroke-linecap="butt"/>
<text x="207.55" y="935.8" font-size="18" font-weight="bold" text-anchor="middle" fill="#000">4</text>
<line x1="239.6" y1="903.8" x2="239.6" y2="914.7" stroke="#000" stroke-width="2.2" stroke-linecap="butt"/>
<text x="239.6" y="935.8" font-size="18" font-weight="bold" text-anchor="middle" fill="#000">5</text>
<line x1="271.65" y1="903.8" x2="271.65" y2="914.7" stroke="#000" stroke-width="2.2" stroke-linecap="butt"/>
<text x="271.65" y="935.8" font-size="18" font-weight="bold" text-anchor="middle" fill="#000">6</text>
<line x1="303.7" y1="903.8" x2="303.7" y2="914.7" stroke="#000" stroke-width="2.2" stroke-linecap="butt"/>
<text x="303.7" y="935.8" font-size="18" font-weight="bold" text-anchor="middle" fill="#000">7</text>
<line x1="335.75" y1="903.8" x2="335.75" y2="914.7" stroke="#000" stroke-width="2.2" stroke-linecap="butt"/>
<text x="335.75" y="935.8" font-size="18" font-weight="bold" text-anchor="middle" fill="#000">8</text>
<line x1="367.8" y1="903.8" x2="367.8" y2="914.7" stroke="#000" stroke-width="2.2" stroke-linecap="butt"/>
<text x="367.8" y="935.8" font-size="18" font-weight="bold" text-anchor="middle" fill="#000">9</text>
<line x1="399.85" y1="903.8" x2="399.85" y2="914.7" stroke="#000" stroke-width="2.2" stroke-linecap="butt"/>
<text x="399.85" y="935.8" font-size="18" font-weight="bold" text-anchor="middle" fill="#000">10</text>
<line x1="431.9" y1="903.8" x2="431.9" y2="914.7" stroke="#000" stroke-width="2.2" stroke-linecap="butt"/>
<text x="431.9" y="935.8" font-size="18" font-weight="bold" text-anchor="middle" fill="#000">11</text>
<line x1="463.95" y1="903.8" x2="463.95" y2="914.7" stroke="#000" stroke-width="2.2" stroke-linecap="butt"/>
<text x="463.95" y="935.8" font-size="18" font-weight="bold" text-anchor="middle" fill="#000">12</text>
<text x="272.8" y="967.4" font-size="21.6" font-weight="normal" text-anchor="middle" fill="#000">Intervetion period(weeks)</text>
<text x="40.7" y="771.6" font-size="22.5" font-weight="bold" text-anchor="middle" fill="#000" transform="rotate(-90 40.7 771.6)">Weight(g)</text>
<path d="M111.4 768.63 L111.4 773.91 M106.4 768.63 L116.4 768.63 M106.4 773.91 L116.4 773.91" stroke="#00ff00" stroke-width="2" fill="none"/>
<path d="M143.45 764.41 L143.45 769.69 M138.45 764.41 L148.45 764.41 M138.45 769.69 L148.45 769.69" stroke="#00ff00" stroke-width="2" fill="none"/>
<path d="M175.5 762.82 L175.5 768.1 M170.5 762.82 L180.5 762.82 M170.5 768.1 L180.5 768.1" stroke="#00ff00" stroke-width="2" fill="none"/>
<path d="M207.55 757.02 L207.55 763.35 M202.55 757.02 L212.55 757.02 M202.55 763.35 L212.55 763.35" stroke="#00ff00" stroke-width="2" fill="none"/>
<path d="M239.6 753.32 L239.6 760.71 M234.6 753.32 L244.6 753.32 M234.6 760.71 L244.6 760.71" stroke="#00ff00" stroke-width="2" fill="none"/>
<path d="M271.65 745.4 L271.65 753.85 M266.65 745.4 L276.65 745.4 M266.65 753.85 L276.65 753.85" stroke="#00ff00" stroke-width="2" fill="none"/>
<path d="M303.7 740.65 L303.7 750.15 M298.7 740.65 L308.7 740.65 M298.7 750.15 L308.7 750.15" stroke="#00ff00" stroke-width="2" fill="none"/>
<path d="M335.75 733.78 L335.75 744.34 M330.75 733.78 L340.75 733.78 M330.75 744.34 L340.75 744.34" stroke="#00ff00" stroke-width="2" fill="none"/>
<path d="M367.8 744.87 L367.8 755.43 M362.8 744.87 L372.8 744.87 M362.8 755.43 L372.8 755.43" stroke="#00ff00" stroke-width="2" fill="none"/>
<path d="M399.85 716.89 L399.85 727.45 M394.85 716.89 L404.85 716.89 M394.85 727.45 L404.85 727.45" stroke="#00ff00" stroke-width="2" fill="none"/>
<path d="M431.9 708.97 L431.9 719.53 M426.9 708.97 L436.9 708.97 M426.9 719.53 L436.9 719.53" stroke="#00ff00" stroke-width="2" fill="none"/>
<path d="M463.95 700.52 L463.95 712.14 M458.95 700.52 L468.95 700.52 M458.95 712.14 L468.95 712.14" stroke="#00ff00" stroke-width="2" fill="none"/>
<polyline points="111.4,771.27 143.45,767.05 175.5,765.46 207.55,760.18 239.6,757.02 271.65,749.62 303.7,745.4 335.75,739.06 367.8,750.15 399.85,722.17 431.9,714.25 463.95,706.33" fill="none" stroke="#00ff00" stroke-width="2.8" stroke-linejoin="round"/>
<rect x="105.8" y="765.67" width="11.2" height="11.2" fill="#00ff00"/>
<rect x="137.85" y="761.45" width="11.2" height="11.2" fill="#00ff00"/>
<rect x="169.9" y="759.86" width="11.2" height="11.2" fill="#00ff00"/>
<rect x="201.95" y="754.58" width="11.2" height="11.2" fill="#00ff00"/>
<rect x="234" y="751.42" width="11.2" height="11.2" fill="#00ff00"/>
<rect x="266.05" y="744.02" width="11.2" height="11.2" fill="#00ff00"/>
<rect x="298.1" y="739.8" width="11.2" height="11.2" fill="#00ff00"/>
<rect x="330.15" y="733.46" width="11.2" height="11.2" fill="#00ff00"/>
<rect x="362.2" y="744.55" width="11.2" height="11.2" fill="#00ff00"/>
<rect x="394.25" y="716.57" width="11.2" height="11.2" fill="#00ff00"/>
<rect x="426.3" y="708.65" width="11.2" height="11.2" fill="#00ff00"/>
<rect x="458.35" y="700.73" width="11.2" height="11.2" fill="#00ff00"/>
<path d="M111.4 776.02 L111.4 782.36 M106.4 776.02 L116.4 776.02 M106.4 782.36 L116.4 782.36" stroke="#d4a6a6" stroke-width="2" fill="none"/>
<path d="M143.45 765.46 L143.45 771.8 M138.45 765.46 L148.45 765.46 M138.45 771.8 L148.45 771.8" stroke="#d4a6a6" stroke-width="2" fill="none"/>
<path d="M175.5 764.41 L175.5 770.74 M170.5 764.41 L180.5 764.41 M170.5 770.74 L180.5 770.74" stroke="#d4a6a6" stroke-width="2" fill="none"/>
<path d="M207.55 760.18 L207.55 766.52 M202.55 760.18 L212.55 760.18 M202.55 766.52 L212.55 766.52" stroke="#d4a6a6" stroke-width="2" fill="none"/>
<path d="M239.6 749.62 L239.6 757.02 M234.6 749.62 L244.6 749.62 M234.6 757.02 L244.6 757.02" stroke="#d4a6a6" stroke-width="2" fill="none"/>
<path d="M271.65 746.46 L271.65 754.9 M266.65 746.46 L276.65 746.46 M266.65 754.9 L276.65 754.9" stroke="#d4a6a6" stroke-width="2" fill="none"/>
<path d="M303.7 739.06 L303.7 747.51 M298.7 739.06 L308.7 739.06 M298.7 747.51 L308.7 747.51" stroke="#d4a6a6" stroke-width="2" fill="none"/>
<path d="M335.75 731.67 L335.75 741.18 M330.75 731.67 L340.75 731.67 M330.75 741.18 L340.75 741.18" stroke="#d4a6a6" stroke-width="2" fill="none"/>
<path d="M367.8 734.84 L367.8 745.4 M362.8 734.84 L372.8 734.84 M362.8 745.4 L372.8 745.4" stroke="#d4a6a6" stroke-width="2" fill="none"/>
<path d="M399.85 738.01 L399.85 748.57 M394.85 738.01 L404.85 738.01 M394.85 748.57 L404.85 748.57" stroke="#d4a6a6" stroke-width="2" fill="none"/>
<path d="M431.9 739.06 L431.9 749.62 M426.9 739.06 L436.9 739.06 M426.9 749.62 L436.9 749.62" stroke="#d4a6a6" stroke-width="2" fill="none"/>
<path d="M463.95 729.56 L463.95 742.23 M458.95 729.56 L468.95 729.56 M458.95 742.23 L468.95 742.23" stroke="#d4a6a6" stroke-width="2" fill="none"/>
<polyline points="111.4,779.19 143.45,768.63 175.5,767.58 207.55,763.35 239.6,753.32 271.65,750.68 303.7,743.29 335.75,736.42 367.8,740.12 399.85,743.29 431.9,744.34 463.95,735.9" fill="none" stroke="#d4a6a6" stroke-width="2.8" stroke-linejoin="round"/>
<circle cx="111.4" cy="779.19" r="6.2" fill="#d4a6a6"/>
<circle cx="143.45" cy="768.63" r="6.2" fill="#d4a6a6"/>
<circle cx="175.5" cy="767.58" r="6.2" fill="#d4a6a6"/>
<circle cx="207.55" cy="763.35" r="6.2" fill="#d4a6a6"/>
<circle cx="239.6" cy="753.32" r="6.2" fill="#d4a6a6"/>
<circle cx="271.65" cy="750.68" r="6.2" fill="#d4a6a6"/>
<circle cx="303.7" cy="743.29" r="6.2" fill="#d4a6a6"/>
<circle cx="335.75" cy="736.42" r="6.2" fill="#d4a6a6"/>
<circle cx="367.8" cy="740.12" r="6.2" fill="#d4a6a6"/>
<circle cx="399.85" cy="743.29" r="6.2" fill="#d4a6a6"/>
<circle cx="431.9" cy="744.34" r="6.2" fill="#d4a6a6"/>
<circle cx="463.95" cy="735.9" r="6.2" fill="#d4a6a6"/>
<path d="M111.4 787.11 L111.4 795.56 M106.4 787.11 L116.4 787.11 M106.4 795.56 L116.4 795.56" stroke="#ffff00" stroke-width="2" fill="none"/>
<path d="M143.45 772.33 L143.45 780.78 M138.45 772.33 L148.45 772.33 M138.45 780.78 L148.45 780.78" stroke="#ffff00" stroke-width="2" fill="none"/>
<path d="M175.5 771.27 L175.5 779.72 M170.5 771.27 L180.5 771.27 M170.5 779.72 L180.5 779.72" stroke="#ffff00" stroke-width="2" fill="none"/>
<path d="M207.55 761.24 L207.55 769.69 M202.55 761.24 L212.55 761.24 M202.55 769.69 L212.55 769.69" stroke="#ffff00" stroke-width="2" fill="none"/>
<path d="M239.6 756.49 L239.6 764.94 M234.6 756.49 L244.6 756.49 M234.6 764.94 L244.6 764.94" stroke="#ffff00" stroke-width="2" fill="none"/>
<path d="M271.65 754.38 L271.65 762.82 M266.65 754.38 L276.65 754.38 M266.65 762.82 L276.65 762.82" stroke="#ffff00" stroke-width="2" fill="none"/>
<path d="M303.7 744.34 L303.7 752.79 M298.7 744.34 L308.7 744.34 M298.7 752.79 L308.7 752.79" stroke="#ffff00" stroke-width="2" fill="none"/>
<path d="M335.75 737.48 L335.75 746.98 M330.75 737.48 L340.75 737.48 M330.75 746.98 L340.75 746.98" stroke="#ffff00" stroke-width="2" fill="none"/>
<path d="M367.8 734.31 L367.8 743.82 M362.8 734.31 L372.8 734.31 M362.8 743.82 L372.8 743.82" stroke="#ffff00" stroke-width="2" fill="none"/>
<path d="M399.85 732.73 L399.85 742.23 M394.85 732.73 L404.85 732.73 M394.85 742.23 L404.85 742.23" stroke="#ffff00" stroke-width="2" fill="none"/>
<path d="M431.9 732.73 L431.9 742.23 M426.9 732.73 L436.9 732.73 M426.9 742.23 L436.9 742.23" stroke="#ffff00" stroke-width="2" fill="none"/>
<path d="M463.95 731.67 L463.95 741.18 M458.95 731.67 L468.95 731.67 M458.95 741.18 L468.95 741.18" stroke="#ffff00" stroke-width="2" fill="none"/>
<polyline points="111.4,791.34 143.45,776.55 175.5,775.5 207.55,765.46 239.6,760.71 271.65,758.6 303.7,748.57 335.75,742.23 367.8,739.06 399.85,737.48 431.9,737.48 463.95,736.42" fill="none" stroke="#ffff00" stroke-width="2.8" stroke-linejoin="round"/>
<path d="M111.4 785.14 L116 791.34 L111.4 797.54 L106.8 791.34 Z" fill="#ffff00"/>
<path d="M143.45 770.35 L148.05 776.55 L143.45 782.75 L138.85 776.55 Z" fill="#ffff00"/>
<path d="M175.5 769.3 L180.1 775.5 L175.5 781.7 L170.9 775.5 Z" fill="#ffff00"/>
<path d="M207.55 759.26 L212.15 765.46 L207.55 771.66 L202.95 765.46 Z" fill="#ffff00"/>
<path d="M239.6 754.51 L244.2 760.71 L239.6 766.91 L235 760.71 Z" fill="#ffff00"/>
<path d="M271.65 752.4 L276.25 758.6 L271.65 764.8 L267.05 758.6 Z" fill="#ffff00"/>
<path d="M303.7 742.37 L308.3 748.57 L303.7 754.77 L299.1 748.57 Z" fill="#ffff00"/>
<path d="M335.75 736.03 L340.35 742.23 L335.75 748.43 L331.15 742.23 Z" fill="#ffff00"/>
<path d="M367.8 732.86 L372.4 739.06 L367.8 745.26 L363.2 739.06 Z" fill="#ffff00"/>
<path d="M399.85 731.28 L404.45 737.48 L399.85 743.68 L395.25 737.48 Z" fill="#ffff00"/>
<path d="M431.9 731.28 L436.5 737.48 L431.9 743.68 L427.3 737.48 Z" fill="#ffff00"/>
<path d="M463.95 730.22 L468.55 736.42 L463.95 742.62 L459.35 736.42 Z" fill="#ffff00"/>
<path d="M111.4 777.61 L111.4 788.17 M106.4 777.61 L116.4 777.61 M106.4 788.17 L116.4 788.17" stroke="#0000c8" stroke-width="2" fill="none"/>
<path d="M143.45 767.58 L143.45 778.14 M138.45 767.58 L148.45 767.58 M138.45 778.14 L148.45 778.14" stroke="#0000c8" stroke-width="2" fill="none"/>
<path d="M175.5 766.52 L175.5 777.08 M170.5 766.52 L180.5 766.52 M170.5 777.08 L180.5 777.08" stroke="#0000c8" stroke-width="2" fill="none"/>
<path d="M207.55 758.6 L207.55 769.16 M202.55 758.6 L212.55 758.6 M202.55 769.16 L212.55 769.16" stroke="#0000c8" stroke-width="2" fill="none"/>
<path d="M239.6 763.35 L239.6 777.08 M234.6 763.35 L244.6 763.35 M234.6 777.08 L244.6 777.08" stroke="#0000c8" stroke-width="2" fill="none"/>
<path d="M271.65 757.02 L271.65 773.91 M266.65 757.02 L276.65 757.02 M266.65 773.91 L276.65 773.91" stroke="#0000c8" stroke-width="2" fill="none"/>
<path d="M303.7 745.93 L303.7 760.71 M298.7 745.93 L308.7 745.93 M298.7 760.71 L308.7 760.71" stroke="#0000c8" stroke-width="2" fill="none"/>
<path d="M335.75 738.54 L335.75 755.43 M330.75 738.54 L340.75 738.54 M330.75 755.43 L340.75 755.43" stroke="#0000c8" stroke-width="2" fill="none"/>
<path d="M367.8 732.73 L367.8 748.57 M362.8 732.73 L372.8 732.73 M362.8 748.57 L372.8 748.57" stroke="#0000c8" stroke-width="2" fill="none"/>
<path d="M399.85 733.26 L399.85 745.93 M394.85 733.26 L404.85 733.26 M394.85 745.93 L404.85 745.93" stroke="#0000c8" stroke-width="2" fill="none"/>
<path d="M431.9 733.78 L431.9 746.46 M426.9 733.78 L436.9 733.78 M426.9 746.46 L436.9 746.46" stroke="#0000c8" stroke-width="2" fill="none"/>
<path d="M463.95 724.81 L463.95 735.37 M458.95 724.81 L468.95 724.81 M458.95 735.37 L468.95 735.37" stroke="#0000c8" stroke-width="2" fill="none"/>
<polyline points="111.4,782.89 143.45,772.86 175.5,771.8 207.55,763.88 239.6,770.22 271.65,765.46 303.7,753.32 335.75,746.98 367.8,740.65 399.85,739.59 431.9,740.12 463.95,730.09" fill="none" stroke="#0000c8" stroke-width="2.8" stroke-linejoin="round"/>
<path d="M111.4 789.29 L117.8 778.09 L105 778.09 Z" fill="#0000c8"/>
<path d="M143.45 779.26 L149.85 768.06 L137.05 768.06 Z" fill="#0000c8"/>
<path d="M175.5 778.2 L181.9 767 L169.1 767 Z" fill="#0000c8"/>
<path d="M207.55 770.28 L213.95 759.08 L201.15 759.08 Z" fill="#0000c8"/>
<path d="M239.6 776.62 L246 765.42 L233.2 765.42 Z" fill="#0000c8"/>
<path d="M271.65 771.86 L278.05 760.66 L265.25 760.66 Z" fill="#0000c8"/>
<path d="M303.7 759.72 L310.1 748.52 L297.3 748.52 Z" fill="#0000c8"/>
<path d="M335.75 753.38 L342.15 742.18 L329.35 742.18 Z" fill="#0000c8"/>
<path d="M367.8 747.05 L374.2 735.85 L361.4 735.85 Z" fill="#0000c8"/>
<path d="M399.85 745.99 L406.25 734.79 L393.45 734.79 Z" fill="#0000c8"/>
<path d="M431.9 746.52 L438.3 735.32 L425.5 735.32 Z" fill="#0000c8"/>
<path d="M463.95 736.49 L470.35 725.29 L457.55 725.29 Z" fill="#0000c8"/>
<path d="M111.4 782.89 L111.4 788.17 M106.4 782.89 L116.4 782.89 M106.4 788.17 L116.4 788.17" stroke="#077007" stroke-width="2" fill="none"/>
<path d="M143.45 769.16 L143.45 774.44 M138.45 769.16 L148.45 769.16 M138.45 774.44 L148.45 774.44" stroke="#077007" stroke-width="2" fill="none"/>
<path d="M175.5 765.99 L175.5 772.33 M170.5 765.99 L180.5 765.99 M170.5 772.33 L180.5 772.33" stroke="#077007" stroke-width="2" fill="none"/>
<path d="M207.55 754.64 L207.55 760.98 M202.55 754.64 L212.55 754.64 M202.55 760.98 L212.55 760.98" stroke="#077007" stroke-width="2" fill="none"/>
<path d="M239.6 751.21 L239.6 758.6 M234.6 751.21 L244.6 751.21 M234.6 758.6 L244.6 758.6" stroke="#077007" stroke-width="2" fill="none"/>
<path d="M271.65 742.76 L271.65 751.21 M266.65 742.76 L276.65 742.76 M266.65 751.21 L276.65 751.21" stroke="#077007" stroke-width="2" fill="none"/>
<path d="M303.7 735.37 L303.7 744.87 M298.7 735.37 L308.7 735.37 M298.7 744.87 L308.7 744.87" stroke="#077007" stroke-width="2" fill="none"/>
<path d="M335.75 722.43 L335.75 732.99 M330.75 722.43 L340.75 722.43 M330.75 732.99 L340.75 732.99" stroke="#077007" stroke-width="2" fill="none"/>
<path d="M367.8 704.74 L367.8 715.3 M362.8 704.74 L372.8 704.74 M362.8 715.3 L372.8 715.3" stroke="#077007" stroke-width="2" fill="none"/>
<path d="M399.85 698.94 L399.85 707.38 M394.85 698.94 L404.85 698.94 M394.85 707.38 L404.85 707.38" stroke="#077007" stroke-width="2" fill="none"/>
<path d="M431.9 695.24 L431.9 704.74 M426.9 695.24 L436.9 695.24 M426.9 704.74 L436.9 704.74" stroke="#077007" stroke-width="2" fill="none"/>
<path d="M463.95 689.96 L463.95 698.41 M458.95 689.96 L468.95 689.96 M458.95 698.41 L468.95 698.41" stroke="#077007" stroke-width="2" fill="none"/>
<polyline points="111.4,785.53 143.45,771.8 175.5,769.16 207.55,757.81 239.6,754.9 271.65,746.98 303.7,740.12 335.75,727.71 367.8,710.02 399.85,703.16 431.9,699.99 463.95,694.18" fill="none" stroke="#077007" stroke-width="2.8" stroke-linejoin="round"/>
<path d="M111.4 779.13 L117.8 790.33 L105 790.33 Z" fill="#077007"/>
<path d="M143.45 765.4 L149.85 776.6 L137.05 776.6 Z" fill="#077007"/>
<path d="M175.5 762.76 L181.9 773.96 L169.1 773.96 Z" fill="#077007"/>
<path d="M207.55 751.41 L213.95 762.61 L201.15 762.61 Z" fill="#077007"/>
<path d="M239.6 748.5 L246 759.7 L233.2 759.7 Z" fill="#077007"/>
<path d="M271.65 740.58 L278.05 751.78 L265.25 751.78 Z" fill="#077007"/>
<path d="M303.7 733.72 L310.1 744.92 L297.3 744.92 Z" fill="#077007"/>
<path d="M335.75 721.31 L342.15 732.51 L329.35 732.51 Z" fill="#077007"/>
<path d="M367.8 703.62 L374.2 714.82 L361.4 714.82 Z" fill="#077007"/>
<path d="M399.85 696.76 L406.25 707.96 L393.45 707.96 Z" fill="#077007"/>
<path d="M431.9 693.59 L438.3 704.79 L425.5 704.79 Z" fill="#077007"/>
<path d="M463.95 687.78 L470.35 698.98 L457.55 698.98 Z" fill="#077007"/>
<path d="M111.4 768.63 L111.4 773.91 M106.4 768.63 L116.4 768.63 M106.4 773.91 L116.4 773.91" stroke="#000000" stroke-width="2" fill="none"/>
<path d="M143.45 758.6 L143.45 763.88 M138.45 758.6 L148.45 758.6 M138.45 763.88 L148.45 763.88" stroke="#000000" stroke-width="2" fill="none"/>
<path d="M175.5 761.77 L175.5 767.05 M170.5 761.77 L180.5 761.77 M170.5 767.05 L180.5 767.05" stroke="#000000" stroke-width="2" fill="none"/>
<path d="M207.55 746.98 L207.55 753.32 M202.55 746.98 L212.55 746.98 M202.55 753.32 L212.55 753.32" stroke="#000000" stroke-width="2" fill="none"/>
<path d="M239.6 740.12 L239.6 746.46 M234.6 740.12 L244.6 740.12 M234.6 746.46 L244.6 746.46" stroke="#000000" stroke-width="2" fill="none"/>
<path d="M271.65 736.95 L271.65 744.34 M266.65 736.95 L276.65 736.95 M266.65 744.34 L276.65 744.34" stroke="#000000" stroke-width="2" fill="none"/>
<path d="M303.7 734.31 L303.7 743.82 M298.7 734.31 L308.7 734.31 M298.7 743.82 L308.7 743.82" stroke="#000000" stroke-width="2" fill="none"/>
<path d="M335.75 729.03 L335.75 741.7 M330.75 729.03 L340.75 729.03 M330.75 741.7 L340.75 741.7" stroke="#000000" stroke-width="2" fill="none"/>
<path d="M367.8 730.09 L367.8 745.93 M362.8 730.09 L372.8 730.09 M362.8 745.93 L372.8 745.93" stroke="#000000" stroke-width="2" fill="none"/>
<path d="M399.85 726.92 L399.85 751.21 M394.85 726.92 L404.85 726.92 M394.85 751.21 L404.85 751.21" stroke="#000000" stroke-width="2" fill="none"/>
<path d="M431.9 733.26 L431.9 759.66 M426.9 733.26 L436.9 733.26 M426.9 759.66 L436.9 759.66" stroke="#000000" stroke-width="2" fill="none"/>
<path d="M463.95 733.26 L463.95 759.66 M458.95 733.26 L468.95 733.26 M458.95 759.66 L468.95 759.66" stroke="#000000" stroke-width="2" fill="none"/>
<polyline points="111.4,771.27 143.45,761.24 175.5,764.41 207.55,750.15 239.6,743.29 271.65,740.65 303.7,739.06 335.75,735.37 367.8,738.01 399.85,739.06 431.9,746.46 463.95,746.46" fill="none" stroke="#000000" stroke-width="2.8" stroke-linejoin="round"/>
<rect x="105.8" y="765.67" width="11.2" height="11.2" fill="#000000"/>
<rect x="137.85" y="755.64" width="11.2" height="11.2" fill="#000000"/>
<rect x="169.9" y="758.81" width="11.2" height="11.2" fill="#000000"/>
<rect x="201.95" y="744.55" width="11.2" height="11.2" fill="#000000"/>
<rect x="234" y="737.69" width="11.2" height="11.2" fill="#000000"/>
<rect x="266.05" y="735.05" width="11.2" height="11.2" fill="#000000"/>
<rect x="298.1" y="733.46" width="11.2" height="11.2" fill="#000000"/>
<rect x="330.15" y="729.77" width="11.2" height="11.2" fill="#000000"/>
<rect x="362.2" y="732.41" width="11.2" height="11.2" fill="#000000"/>
<rect x="394.25" y="733.46" width="11.2" height="11.2" fill="#000000"/>
<rect x="426.3" y="740.86" width="11.2" height="11.2" fill="#000000"/>
<rect x="458.35" y="740.86" width="11.2" height="11.2" fill="#000000"/>
<path d="M111.4 771.8 L111.4 777.08 M106.4 771.8 L116.4 771.8 M106.4 777.08 L116.4 777.08" stroke="#ff0000" stroke-width="2" fill="none"/>
<path d="M143.45 761.24 L143.45 767.58 M138.45 761.24 L148.45 761.24 M138.45 767.58 L148.45 767.58" stroke="#ff0000" stroke-width="2" fill="none"/>
<path d="M175.5 756.49 L175.5 761.77 M170.5 756.49 L180.5 756.49 M170.5 761.77 L180.5 761.77" stroke="#ff0000" stroke-width="2" fill="none"/>
<path d="M207.55 773.65 L207.55 778.93 M202.55 773.65 L212.55 773.65 M202.55 778.93 L212.55 778.93" stroke="#ff0000" stroke-width="2" fill="none"/>
<path d="M239.6 743.82 L239.6 752.26 M234.6 743.82 L244.6 743.82 M234.6 752.26 L244.6 752.26" stroke="#ff0000" stroke-width="2" fill="none"/>
<path d="M271.65 738.01 L271.65 746.46 M266.65 738.01 L276.65 738.01 M266.65 746.46 L276.65 746.46" stroke="#ff0000" stroke-width="2" fill="none"/>
<path d="M303.7 725.34 L303.7 744.34 M298.7 725.34 L308.7 725.34 M298.7 744.34 L308.7 744.34" stroke="#ff0000" stroke-width="2" fill="none"/>
<path d="M335.75 719 L335.75 738.01 M330.75 719 L340.75 719 M330.75 738.01 L340.75 738.01" stroke="#ff0000" stroke-width="2" fill="none"/>
<path d="M367.8 724.81 L367.8 749.1 M362.8 724.81 L372.8 724.81 M362.8 749.1 L372.8 749.1" stroke="#ff0000" stroke-width="2" fill="none"/>
<path d="M399.85 727.45 L399.85 743.29 M394.85 727.45 L404.85 727.45 M394.85 743.29 L404.85 743.29" stroke="#ff0000" stroke-width="2" fill="none"/>
<path d="M431.9 722.7 L431.9 738.54 M426.9 722.7 L436.9 722.7 M426.9 738.54 L436.9 738.54" stroke="#ff0000" stroke-width="2" fill="none"/>
<path d="M463.95 719.79 L463.95 738.8 M458.95 719.79 L468.95 719.79 M458.95 738.8 L468.95 738.8" stroke="#ff0000" stroke-width="2" fill="none"/>
<polyline points="111.4,774.44 143.45,764.41 175.5,759.13 207.55,776.29 239.6,748.04 271.65,742.23 303.7,734.84 335.75,728.5 367.8,736.95 399.85,735.37 431.9,730.62 463.95,729.3" fill="none" stroke="#ff0000" stroke-width="2.8" stroke-linejoin="round"/>
<circle cx="111.4" cy="774.44" r="6.2" fill="#ff0000"/>
<circle cx="143.45" cy="764.41" r="6.2" fill="#ff0000"/>
<circle cx="175.5" cy="759.13" r="6.2" fill="#ff0000"/>
<circle cx="207.55" cy="776.29" r="6.2" fill="#ff0000"/>
<circle cx="239.6" cy="748.04" r="6.2" fill="#ff0000"/>
<circle cx="271.65" cy="742.23" r="6.2" fill="#ff0000"/>
<circle cx="303.7" cy="734.84" r="6.2" fill="#ff0000"/>
<circle cx="335.75" cy="728.5" r="6.2" fill="#ff0000"/>
<circle cx="367.8" cy="736.95" r="6.2" fill="#ff0000"/>
<circle cx="399.85" cy="735.37" r="6.2" fill="#ff0000"/>
<circle cx="431.9" cy="730.62" r="6.2" fill="#ff0000"/>
<circle cx="463.95" cy="729.3" r="6.2" fill="#ff0000"/>
<line x1="490.6" y1="657.7" x2="518.6" y2="657.7" stroke="#ff0000" stroke-width="2.2"/>
<circle cx="504.7" cy="657.7" r="5.89" fill="#ff0000"/>
<text x="535" y="665" font-size="21.5" font-weight="normal" text-anchor="start" fill="#000">C</text>
<line x1="490.6" y1="693.2" x2="518.6" y2="693.2" stroke="#000000" stroke-width="2.2"/>
<rect x="499.38" y="687.88" width="10.64" height="10.64" fill="#000000"/>
<text x="535" y="700.5" font-size="21.5" font-weight="normal" text-anchor="start" fill="#000">C+VK2</text>
<line x1="490.6" y1="728.6" x2="518.6" y2="728.6" stroke="#077007" stroke-width="2.2"/>
<path d="M504.7 722.52 L510.78 733.16 L498.62 733.16 Z" fill="#077007"/>
<text x="535" y="735.9" font-size="21.5" font-weight="normal" text-anchor="start" fill="#000">HFD</text>
<line x1="490.6" y1="763.9" x2="518.6" y2="763.9" stroke="#0000c8" stroke-width="2.2"/>
<path d="M504.7 769.98 L510.78 759.34 L498.62 759.34 Z" fill="#0000c8"/>
<text x="535" y="771.2" font-size="21.5" font-weight="normal" text-anchor="start" fill="#000">HFD+VK2(L)</text>
<line x1="490.6" y1="799.2" x2="518.6" y2="799.2" stroke="#ffff00" stroke-width="2.2"/>
<path d="M504.7 793.31 L509.07 799.2 L504.7 805.09 L500.33 799.2 Z" fill="#ffff00"/>
<text x="535" y="806.5" font-size="21.5" font-weight="normal" text-anchor="start" fill="#000">HFD+VK2(M)</text>
<line x1="490.6" y1="834.6" x2="518.6" y2="834.6" stroke="#d4a6a6" stroke-width="2.2"/>
<circle cx="504.7" cy="834.6" r="5.89" fill="#d4a6a6"/>
<text x="535" y="841.9" font-size="21.5" font-weight="normal" text-anchor="start" fill="#000">HFD+VK2(H)</text>
<line x1="490.6" y1="869.9" x2="518.6" y2="869.9" stroke="#00ff00" stroke-width="2.2"/>
<rect x="499.38" y="864.58" width="10.64" height="10.64" fill="#00ff00"/>
<text x="535" y="877.2" font-size="21.5" font-weight="normal" text-anchor="start" fill="#000">HFD+V</text>
<line x1="794.7" y1="629.15" x2="794.7" y2="932.45" stroke="#000" stroke-width="2.9" stroke-linecap="butt"/>
<line x1="785.5" y1="931" x2="796.15" y2="931" stroke="#000" stroke-width="2.7" stroke-linecap="butt"/>
<text x="781.8" y="939.27" font-size="23.5" font-weight="bold" text-anchor="end" fill="#000">0</text>
<line x1="785.5" y1="870.92" x2="796.15" y2="870.92" stroke="#000" stroke-width="2.7" stroke-linecap="butt"/>
<text x="781.8" y="879.19" font-size="23.5" font-weight="bold" text-anchor="end" fill="#000">10</text>
<line x1="785.5" y1="810.84" x2="796.15" y2="810.84" stroke="#000" stroke-width="2.7" stroke-linecap="butt"/>
<text x="781.8" y="819.11" font-size="23.5" font-weight="bold" text-anchor="end" fill="#000">20</text>
<line x1="785.5" y1="750.76" x2="796.15" y2="750.76" stroke="#000" stroke-width="2.7" stroke-linecap="butt"/>
<text x="781.8" y="759.03" font-size="23.5" font-weight="bold" text-anchor="end" fill="#000">30</text>
<line x1="785.5" y1="690.68" x2="796.15" y2="690.68" stroke="#000" stroke-width="2.7" stroke-linecap="butt"/>
<text x="781.8" y="698.95" font-size="23.5" font-weight="bold" text-anchor="end" fill="#000">40</text>
<line x1="785.5" y1="630.6" x2="796.15" y2="630.6" stroke="#000" stroke-width="2.7" stroke-linecap="butt"/>
<text x="781.8" y="638.87" font-size="23.5" font-weight="bold" text-anchor="end" fill="#000">50</text>
<line x1="785.5" y1="931" x2="1246.7" y2="931" stroke="#000" stroke-width="2.9" stroke-linecap="butt"/>
<line x1="826.6" y1="741.3" x2="826.6" y2="745.6" stroke="#000" stroke-width="4" stroke-linecap="butt"/>
<line x1="816.1" y1="741.3" x2="837.1" y2="741.3" stroke="#000" stroke-width="4.2" stroke-linecap="butt"/>
<rect x="807.3" y="746.7" width="38.6" height="184.3" fill="url(#pFine)" stroke="#000" stroke-width="4.2"/>
<line x1="826.6" y1="931" x2="826.6" y2="940" stroke="#000" stroke-width="3" stroke-linecap="butt"/>
<line x1="890.9" y1="732.6" x2="890.9" y2="737.3" stroke="#000" stroke-width="4" stroke-linecap="butt"/>
<line x1="880.4" y1="732.6" x2="901.4" y2="732.6" stroke="#000" stroke-width="4.2" stroke-linecap="butt"/>
<rect x="871.6" y="738.4" width="38.6" height="192.6" fill="url(#pBig)" stroke="#000" stroke-width="4.2"/>
<line x1="890.9" y1="931" x2="890.9" y2="940" stroke="#000" stroke-width="3" stroke-linecap="butt"/>
<line x1="955.6" y1="684.5" x2="955.6" y2="691.2" stroke="#000" stroke-width="4" stroke-linecap="butt"/>
<line x1="945.1" y1="684.5" x2="966.1" y2="684.5" stroke="#000" stroke-width="4.2" stroke-linecap="butt"/>
<pattern id="pH_C_2" patternUnits="userSpaceOnUse" x="0" y="700.6" width="10" height="8.87"><rect width="10" height="8.87" fill="#fff"/><rect width="10" height="1.35" fill="#000"/></pattern>
<rect x="936.3" y="692.3" width="38.6" height="238.7" fill="url(#pH_C_2)" stroke="#000" stroke-width="4.2"/>
<line x1="955.6" y1="931" x2="955.6" y2="940" stroke="#000" stroke-width="3" stroke-linecap="butt"/>
<line x1="1019.6" y1="730.6" x2="1019.6" y2="740.8" stroke="#000" stroke-width="4" stroke-linecap="butt"/>
<line x1="1009.1" y1="730.6" x2="1030.1" y2="730.6" stroke="#000" stroke-width="4.2" stroke-linecap="butt"/>
<pattern id="pV_C_3" patternUnits="userSpaceOnUse" x="1008.9" y="0" width="8.9" height="10"><rect width="8.9" height="10" fill="#fff"/><rect width="1.35" height="10" fill="#000"/></pattern>
<rect x="1000.3" y="741.9" width="38.6" height="189.1" fill="url(#pV_C_3)" stroke="#000" stroke-width="4.2"/>
<line x1="1019.6" y1="931" x2="1019.6" y2="940" stroke="#000" stroke-width="3" stroke-linecap="butt"/>
<line x1="1084.3" y1="750.3" x2="1084.3" y2="754.6" stroke="#000" stroke-width="4" stroke-linecap="butt"/>
<line x1="1073.8" y1="750.3" x2="1094.8" y2="750.3" stroke="#000" stroke-width="4.2" stroke-linecap="butt"/>
<rect x="1065" y="755.7" width="38.6" height="175.3" fill="url(#pD1)" stroke="#000" stroke-width="4.2"/>
<line x1="1084.3" y1="931" x2="1084.3" y2="940" stroke="#000" stroke-width="3" stroke-linecap="butt"/>
<line x1="1148.3" y1="735.2" x2="1148.3" y2="750" stroke="#000" stroke-width="4" stroke-linecap="butt"/>
<line x1="1137.8" y1="735.2" x2="1158.8" y2="735.2" stroke="#000" stroke-width="4.2" stroke-linecap="butt"/>
<rect x="1129" y="751.1" width="38.6" height="179.9" fill="url(#pD2)" stroke="#000" stroke-width="4.2"/>
<line x1="1148.3" y1="931" x2="1148.3" y2="940" stroke="#000" stroke-width="3" stroke-linecap="butt"/>
<line x1="1212.8" y1="691" x2="1212.8" y2="695" stroke="#000" stroke-width="4" stroke-linecap="butt"/>
<line x1="1202.3" y1="691" x2="1223.3" y2="691" stroke="#000" stroke-width="4.2" stroke-linecap="butt"/>
<pattern id="pG_C_6" patternUnits="userSpaceOnUse" x="1201.4" y="704.5" width="8.9" height="9"><rect width="8.9" height="9" fill="#fff"/><rect width="1.6" height="9" fill="#000"/><rect width="8.9" height="1.6" fill="#000"/></pattern>
<rect x="1193.5" y="696.1" width="38.6" height="234.9" fill="url(#pG_C_6)" stroke="#000" stroke-width="4.2"/>
<line x1="1212.8" y1="931" x2="1212.8" y2="940" stroke="#000" stroke-width="3" stroke-linecap="butt"/>
<line x1="785.5" y1="931" x2="1246.7" y2="931" stroke="#000" stroke-width="2.9" stroke-linecap="butt"/>
<text x="834.2" y="960.2" font-size="23" font-weight="bold" text-anchor="end" fill="#000" transform="rotate(-45 834.2 960.2)">C</text>
<text x="898.5" y="960.2" font-size="23" font-weight="bold" text-anchor="end" fill="#000" transform="rotate(-45 898.5 960.2)">C+VK2</text>
<text x="963.2" y="960.2" font-size="23" font-weight="bold" text-anchor="end" fill="#000" transform="rotate(-45 963.2 960.2)">HFD</text>
<text x="1027.2" y="960.2" font-size="23" font-weight="bold" text-anchor="end" fill="#000" transform="rotate(-45 1027.2 960.2)">HFD+VK2(L)</text>
<text x="1091.9" y="960.2" font-size="23" font-weight="bold" text-anchor="end" fill="#000" transform="rotate(-45 1091.9 960.2)">HFD+VK2(M)</text>
<text x="1155.9" y="960.2" font-size="23" font-weight="bold" text-anchor="end" fill="#000" transform="rotate(-45 1155.9 960.2)">HFD+VK2(H)</text>
<text x="1220.4" y="960.2" font-size="23" font-weight="bold" text-anchor="end" fill="#000" transform="rotate(-45 1220.4 960.2)">HFD+V</text>
<text x="731.5" y="782.5" font-size="25.2" font-weight="bold" text-anchor="middle" fill="#000" transform="rotate(-90 731.5 782.5)">Body Weight (g)</text>
<line x1="826" y1="648" x2="953.6" y2="648" stroke="#000" stroke-width="2.8" stroke-linecap="butt"/>
<line x1="826" y1="635" x2="826" y2="661" stroke="#000" stroke-width="2.8" stroke-linecap="butt"/>
<line x1="953.6" y1="635" x2="953.6" y2="661" stroke="#000" stroke-width="2.8" stroke-linecap="butt"/>
<text x="893" y="641.22" font-size="23.5" font-weight="normal" text-anchor="middle" fill="#000">***</text>
<line x1="961.6" y1="648" x2="1020" y2="648" stroke="#000" stroke-width="2.8" stroke-linecap="butt"/>
<line x1="961.6" y1="635.6" x2="961.6" y2="661" stroke="#000" stroke-width="2.8" stroke-linecap="butt"/>
<line x1="1020" y1="635.6" x2="1020" y2="661" stroke="#000" stroke-width="2.8" stroke-linecap="butt"/>
<text x="990.7" y="642.82" font-size="23.5" font-weight="normal" text-anchor="middle" fill="#000">**</text>
<line x1="961.6" y1="614" x2="1084" y2="614" stroke="#000" stroke-width="2.8" stroke-linecap="butt"/>
<line x1="961.6" y1="601" x2="961.6" y2="627" stroke="#000" stroke-width="2.8" stroke-linecap="butt"/>
<line x1="1084" y1="601" x2="1084" y2="627" stroke="#000" stroke-width="2.8" stroke-linecap="butt"/>
<text x="1028.7" y="607.22" font-size="23.5" font-weight="normal" text-anchor="middle" fill="#000">***</text>
<line x1="961.6" y1="581" x2="1148" y2="581" stroke="#000" stroke-width="2.8" stroke-linecap="butt"/>
<line x1="961.6" y1="568.4" x2="961.6" y2="594.4" stroke="#000" stroke-width="2.8" stroke-linecap="butt"/>
<line x1="1148" y1="568.4" x2="1148" y2="594.4" stroke="#000" stroke-width="2.8" stroke-linecap="butt"/>
<text x="1060.5" y="575.22" font-size="23.5" font-weight="normal" text-anchor="middle" fill="#000">***</text>
<line x1="114.5" y1="1179.15" x2="114.5" y2="1478.85" stroke="#000" stroke-width="2.7" stroke-linecap="butt"/>
<line x1="105.8" y1="1477.5" x2="115.85" y2="1477.5" stroke="#000" stroke-width="2.7" stroke-linecap="butt"/>
<text x="102" y="1485.38" font-size="22.4" font-weight="bold" text-anchor="end" fill="#000">0</text>
<line x1="105.8" y1="1418.1" x2="115.85" y2="1418.1" stroke="#000" stroke-width="2.7" stroke-linecap="butt"/>
<text x="102" y="1425.98" font-size="22.4" font-weight="bold" text-anchor="end" fill="#000">2</text>
<line x1="105.8" y1="1358.7" x2="115.85" y2="1358.7" stroke="#000" stroke-width="2.7" stroke-linecap="butt"/>
<text x="102" y="1366.58" font-size="22.4" font-weight="bold" text-anchor="end" fill="#000">4</text>
<line x1="105.8" y1="1299.3" x2="115.85" y2="1299.3" stroke="#000" stroke-width="2.7" stroke-linecap="butt"/>
<text x="102" y="1307.18" font-size="22.4" font-weight="bold" text-anchor="end" fill="#000">6</text>
<line x1="105.8" y1="1239.9" x2="115.85" y2="1239.9" stroke="#000" stroke-width="2.7" stroke-linecap="butt"/>
<text x="102" y="1247.78" font-size="22.4" font-weight="bold" text-anchor="end" fill="#000">8</text>
<line x1="105.8" y1="1180.5" x2="115.85" y2="1180.5" stroke="#000" stroke-width="2.7" stroke-linecap="butt"/>
<text x="102" y="1188.38" font-size="22.4" font-weight="bold" text-anchor="end" fill="#000">10</text>
<line x1="105.8" y1="1477.5" x2="558.8" y2="1477.5" stroke="#000" stroke-width="2.7" stroke-linecap="butt"/>
<line x1="146.2" y1="1267.8" x2="146.2" y2="1271" stroke="#000" stroke-width="4" stroke-linecap="butt"/>
<line x1="136.1" y1="1267.8" x2="156.3" y2="1267.8" stroke="#000" stroke-width="4.2" stroke-linecap="butt"/>
<rect x="127.4" y="1272.1" width="37.6" height="205.4" fill="url(#pFine)" stroke="#000" stroke-width="4.2"/>
<line x1="146.2" y1="1477.5" x2="146.2" y2="1486.5" stroke="#000" stroke-width="3" stroke-linecap="butt"/>
<line x1="209.8" y1="1248.8" x2="209.8" y2="1253.2" stroke="#000" stroke-width="4" stroke-linecap="butt"/>
<line x1="199.7" y1="1248.8" x2="219.9" y2="1248.8" stroke="#000" stroke-width="4.2" stroke-linecap="butt"/>
<rect x="191" y="1254.3" width="37.6" height="223.2" fill="url(#pBig)" stroke="#000" stroke-width="4.2"/>
<line x1="209.8" y1="1477.5" x2="209.8" y2="1486.5" stroke="#000" stroke-width="3" stroke-linecap="butt"/>
<line x1="273.1" y1="1208" x2="273.1" y2="1220.5" stroke="#000" stroke-width="4" stroke-linecap="butt"/>
<line x1="263" y1="1208" x2="283.2" y2="1208" stroke="#000" stroke-width="4.2" stroke-linecap="butt"/>
<pattern id="pH_D_2" patternUnits="userSpaceOnUse" x="0" y="1229.9" width="10" height="8.87"><rect width="10" height="8.87" fill="#fff"/><rect width="10" height="1.35" fill="#000"/></pattern>
<rect x="254.3" y="1221.6" width="37.6" height="255.9" fill="url(#pH_D_2)" stroke="#000" stroke-width="4.2"/>
<line x1="273.1" y1="1477.5" x2="273.1" y2="1486.5" stroke="#000" stroke-width="3" stroke-linecap="butt"/>
<line x1="336.2" y1="1227.8" x2="336.2" y2="1233.6" stroke="#000" stroke-width="4" stroke-linecap="butt"/>
<line x1="326.1" y1="1227.8" x2="346.3" y2="1227.8" stroke="#000" stroke-width="4.2" stroke-linecap="butt"/>
<pattern id="pV_D_3" patternUnits="userSpaceOnUse" x="326" y="0" width="8.9" height="10"><rect width="8.9" height="10" fill="#fff"/><rect width="1.35" height="10" fill="#000"/></pattern>
<rect x="317.4" y="1234.7" width="37.6" height="242.8" fill="url(#pV_D_3)" stroke="#000" stroke-width="4.2"/>
<line x1="336.2" y1="1477.5" x2="336.2" y2="1486.5" stroke="#000" stroke-width="3" stroke-linecap="butt"/>
<line x1="399.8" y1="1244" x2="399.8" y2="1252.3" stroke="#000" stroke-width="4" stroke-linecap="butt"/>
<line x1="389.7" y1="1244" x2="409.9" y2="1244" stroke="#000" stroke-width="4.2" stroke-linecap="butt"/>
<rect x="381" y="1253.4" width="37.6" height="224.1" fill="url(#pD1)" stroke="#000" stroke-width="4.2"/>
<line x1="399.8" y1="1477.5" x2="399.8" y2="1486.5" stroke="#000" stroke-width="3" stroke-linecap="butt"/>
<line x1="463.2" y1="1242.5" x2="463.2" y2="1253.3" stroke="#000" stroke-width="4" stroke-linecap="butt"/>
<line x1="453.1" y1="1242.5" x2="473.3" y2="1242.5" stroke="#000" stroke-width="4.2" stroke-linecap="butt"/>
<rect x="444.4" y="1254.4" width="37.6" height="223.1" fill="url(#pD2)" stroke="#000" stroke-width="4.2"/>
<line x1="463.2" y1="1477.5" x2="463.2" y2="1486.5" stroke="#000" stroke-width="3" stroke-linecap="butt"/>
<line x1="526.5" y1="1213.3" x2="526.5" y2="1217.6" stroke="#000" stroke-width="4" stroke-linecap="butt"/>
<line x1="516.4" y1="1213.3" x2="536.6" y2="1213.3" stroke="#000" stroke-width="4.2" stroke-linecap="butt"/>
<pattern id="pG_D_6" patternUnits="userSpaceOnUse" x="515.6" y="1227.1" width="8.9" height="9"><rect width="8.9" height="9" fill="#fff"/><rect width="1.6" height="9" fill="#000"/><rect width="8.9" height="1.6" fill="#000"/></pattern>
<rect x="507.7" y="1218.7" width="37.6" height="258.8" fill="url(#pG_D_6)" stroke="#000" stroke-width="4.2"/>
<line x1="526.5" y1="1477.5" x2="526.5" y2="1486.5" stroke="#000" stroke-width="3" stroke-linecap="butt"/>
<line x1="105.8" y1="1477.5" x2="558.8" y2="1477.5" stroke="#000" stroke-width="2.7" stroke-linecap="butt"/>
<text x="153.8" y="1506.7" font-size="23" font-weight="bold" text-anchor="end" fill="#000" transform="rotate(-45 153.8 1506.7)">C</text>
<text x="217.4" y="1506.7" font-size="23" font-weight="bold" text-anchor="end" fill="#000" transform="rotate(-45 217.4 1506.7)">C+VK2</text>
<text x="280.7" y="1506.7" font-size="23" font-weight="bold" text-anchor="end" fill="#000" transform="rotate(-45 280.7 1506.7)">HFD</text>
<text x="343.8" y="1506.7" font-size="23" font-weight="bold" text-anchor="end" fill="#000" transform="rotate(-45 343.8 1506.7)">HFD+VK2(L)</text>
<text x="407.4" y="1506.7" font-size="23" font-weight="bold" text-anchor="end" fill="#000" transform="rotate(-45 407.4 1506.7)">HFD+VK2(M)</text>
<text x="470.8" y="1506.7" font-size="23" font-weight="bold" text-anchor="end" fill="#000" transform="rotate(-45 470.8 1506.7)">HFD+VK2(H)</text>
<text x="534.1" y="1506.7" font-size="23" font-weight="bold" text-anchor="end" fill="#000" transform="rotate(-45 534.1 1506.7)">HFD+V</text>
<text x="63.1" y="1333.2" font-size="25" font-weight="bold" text-anchor="middle" fill="#000" transform="rotate(-90 63.1 1333.2)">abdominal perimeter(cm)</text>
<line x1="151.9" y1="1177" x2="258.8" y2="1177" stroke="#000" stroke-width="2.8" stroke-linecap="butt"/>
<line x1="151.9" y1="1163.7" x2="151.9" y2="1190" stroke="#000" stroke-width="2.8" stroke-linecap="butt"/>
<line x1="258.8" y1="1163.7" x2="258.8" y2="1190" stroke="#000" stroke-width="2.8" stroke-linecap="butt"/>
<text x="212.5" y="1167.71" font-size="23.5" font-weight="normal" text-anchor="middle" fill="#000">*</text>
<line x1="278.2" y1="1176.5" x2="399.2" y2="1176.5" stroke="#000" stroke-width="2.8" stroke-linecap="butt"/>
<line x1="278.2" y1="1163" x2="278.2" y2="1189.5" stroke="#000" stroke-width="2.8" stroke-linecap="butt"/>
<line x1="399.2" y1="1163" x2="399.2" y2="1189.5" stroke="#000" stroke-width="2.8" stroke-linecap="butt"/>
<text x="335.4" y="1168.71" font-size="23.5" font-weight="normal" text-anchor="middle" fill="#000">*</text>
<line x1="810.4" y1="1159.48" x2="810.4" y2="1472.5" stroke="#000" stroke-width="3" stroke-linecap="butt"/>
<line x1="801.1" y1="1471.3" x2="811.9" y2="1471.3" stroke="#000" stroke-width="2.7" stroke-linecap="butt"/>
<text x="797" y="1479.64" font-size="23.7" font-weight="bold" text-anchor="end" fill="#000">0</text>
<line x1="801.1" y1="1393.72" x2="811.9" y2="1393.72" stroke="#000" stroke-width="2.7" stroke-linecap="butt"/>
<text x="797" y="1402.06" font-size="23.7" font-weight="bold" text-anchor="end" fill="#000">20</text>
<line x1="801.1" y1="1316.14" x2="811.9" y2="1316.14" stroke="#000" stroke-width="2.7" stroke-linecap="butt"/>
<text x="797" y="1324.48" font-size="23.7" font-weight="bold" text-anchor="end" fill="#000">40</text>
<line x1="801.1" y1="1238.56" x2="811.9" y2="1238.56" stroke="#000" stroke-width="2.7" stroke-linecap="butt"/>
<text x="797" y="1246.9" font-size="23.7" font-weight="bold" text-anchor="end" fill="#000">60</text>
<line x1="801.1" y1="1160.98" x2="811.9" y2="1160.98" stroke="#000" stroke-width="2.7" stroke-linecap="butt"/>
<text x="797" y="1169.32" font-size="23.7" font-weight="bold" text-anchor="end" fill="#000">80</text>
<line x1="801.1" y1="1471" x2="1276" y2="1471" stroke="#000" stroke-width="3" stroke-linecap="butt"/>
<line x1="843.9" y1="1289.7" x2="843.9" y2="1300.2" stroke="#000" stroke-width="4" stroke-linecap="butt"/>
<line x1="833.15" y1="1289.7" x2="854.65" y2="1289.7" stroke="#000" stroke-width="4.2" stroke-linecap="butt"/>
<rect x="824.2" y="1301.3" width="39.4" height="169.7" fill="url(#pFine)" stroke="#000" stroke-width="4.2"/>
<line x1="843.9" y1="1471" x2="843.9" y2="1480" stroke="#000" stroke-width="3" stroke-linecap="butt"/>
<line x1="910.1" y1="1292.5" x2="910.1" y2="1303.9" stroke="#000" stroke-width="4" stroke-linecap="butt"/>
<line x1="899.35" y1="1292.5" x2="920.85" y2="1292.5" stroke="#000" stroke-width="4.2" stroke-linecap="butt"/>
<rect x="890.4" y="1305" width="39.4" height="166" fill="url(#pBig)" stroke="#000" stroke-width="4.2"/>
<line x1="910.1" y1="1471" x2="910.1" y2="1480" stroke="#000" stroke-width="3" stroke-linecap="butt"/>
<line x1="976.5" y1="1236.5" x2="976.5" y2="1243.5" stroke="#000" stroke-width="4" stroke-linecap="butt"/>
<line x1="965.75" y1="1236.5" x2="987.25" y2="1236.5" stroke="#000" stroke-width="4.2" stroke-linecap="butt"/>
<pattern id="pH_E_2" patternUnits="userSpaceOnUse" x="0" y="1252.9" width="10" height="8.87"><rect width="10" height="8.87" fill="#fff"/><rect width="10" height="1.35" fill="#000"/></pattern>
<rect x="956.8" y="1244.6" width="39.4" height="226.4" fill="url(#pH_E_2)" stroke="#000" stroke-width="4.2"/>
<line x1="976.5" y1="1471" x2="976.5" y2="1480" stroke="#000" stroke-width="3" stroke-linecap="butt"/>
<line x1="1042.5" y1="1191.3" x2="1042.5" y2="1218.1" stroke="#000" stroke-width="4" stroke-linecap="butt"/>
<line x1="1031.75" y1="1191.3" x2="1053.25" y2="1191.3" stroke="#000" stroke-width="4.2" stroke-linecap="butt"/>
<pattern id="pV_E_3" patternUnits="userSpaceOnUse" x="1031.4" y="0" width="8.9" height="10"><rect width="8.9" height="10" fill="#fff"/><rect width="1.35" height="10" fill="#000"/></pattern>
<rect x="1022.8" y="1219.2" width="39.4" height="251.8" fill="url(#pV_E_3)" stroke="#000" stroke-width="4.2"/>
<line x1="1042.5" y1="1471" x2="1042.5" y2="1480" stroke="#000" stroke-width="3" stroke-linecap="butt"/>
<line x1="1109.2" y1="1262.7" x2="1109.2" y2="1275.3" stroke="#000" stroke-width="4" stroke-linecap="butt"/>
<line x1="1098.45" y1="1262.7" x2="1119.95" y2="1262.7" stroke="#000" stroke-width="4.2" stroke-linecap="butt"/>
<rect x="1089.5" y="1276.4" width="39.4" height="194.6" fill="url(#pD1)" stroke="#000" stroke-width="4.2"/>
<line x1="1109.2" y1="1471" x2="1109.2" y2="1480" stroke="#000" stroke-width="3" stroke-linecap="butt"/>
<line x1="1175.5" y1="1259" x2="1175.5" y2="1273.3" stroke="#000" stroke-width="4" stroke-linecap="butt"/>
<line x1="1164.75" y1="1259" x2="1186.25" y2="1259" stroke="#000" stroke-width="4.2" stroke-linecap="butt"/>
<rect x="1155.8" y="1274.4" width="39.4" height="196.6" fill="url(#pD2)" stroke="#000" stroke-width="4.2"/>
<line x1="1175.5" y1="1471" x2="1175.5" y2="1480" stroke="#000" stroke-width="3" stroke-linecap="butt"/>
<line x1="1241.8" y1="1242.3" x2="1241.8" y2="1256" stroke="#000" stroke-width="4" stroke-linecap="butt"/>
<line x1="1231.05" y1="1242.3" x2="1252.55" y2="1242.3" stroke="#000" stroke-width="4.2" stroke-linecap="butt"/>
<pattern id="pG_E_6" patternUnits="userSpaceOnUse" x="1230" y="1265.5" width="8.9" height="9"><rect width="8.9" height="9" fill="#fff"/><rect width="1.6" height="9" fill="#000"/><rect width="8.9" height="1.6" fill="#000"/></pattern>
<rect x="1222.1" y="1257.1" width="39.4" height="213.9" fill="url(#pG_E_6)" stroke="#000" stroke-width="4.2"/>
<line x1="1241.8" y1="1471" x2="1241.8" y2="1480" stroke="#000" stroke-width="3" stroke-linecap="butt"/>
<line x1="801.1" y1="1471" x2="1276" y2="1471" stroke="#000" stroke-width="3" stroke-linecap="butt"/>
<text x="851.5" y="1500.2" font-size="23" font-weight="bold" text-anchor="end" fill="#000" transform="rotate(-45 851.5 1500.2)">C</text>
<text x="917.7" y="1500.2" font-size="23" font-weight="bold" text-anchor="end" fill="#000" transform="rotate(-45 917.7 1500.2)">C+VK2</text>
<text x="984.1" y="1500.2" font-size="23" font-weight="bold" text-anchor="end" fill="#000" transform="rotate(-45 984.1 1500.2)">HFD</text>
<text x="1050.1" y="1500.2" font-size="23" font-weight="bold" text-anchor="end" fill="#000" transform="rotate(-45 1050.1 1500.2)">HFD+VK2(L)</text>
<text x="1116.8" y="1500.2" font-size="23" font-weight="bold" text-anchor="end" fill="#000" transform="rotate(-45 1116.8 1500.2)">HFD+VK2(M)</text>
<text x="1183.1" y="1500.2" font-size="23" font-weight="bold" text-anchor="end" fill="#000" transform="rotate(-45 1183.1 1500.2)">HFD+VK2(H)</text>
<text x="1249.4" y="1500.2" font-size="23" font-weight="bold" text-anchor="end" fill="#000" transform="rotate(-45 1249.4 1500.2)">HFD+V</text>
<text x="751.5" y="1315.6" font-size="25.5" font-weight="bold" text-anchor="middle" fill="#000" transform="rotate(-90 751.5 1315.6)">food intake(g)</text>
<line x1="112.8" y1="1780.8" x2="112.8" y2="2077.4" stroke="#000" stroke-width="2.8" stroke-linecap="butt"/>
<line x1="104.3" y1="2075.8" x2="114.2" y2="2075.8" stroke="#000" stroke-width="2.7" stroke-linecap="butt"/>
<text x="100" y="2083.83" font-size="22.8" font-weight="bold" text-anchor="end" fill="#000">0</text>
<line x1="104.3" y1="2002.4" x2="114.2" y2="2002.4" stroke="#000" stroke-width="2.7" stroke-linecap="butt"/>
<text x="100" y="2010.43" font-size="22.8" font-weight="bold" text-anchor="end" fill="#000">20</text>
<line x1="104.3" y1="1929" x2="114.2" y2="1929" stroke="#000" stroke-width="2.7" stroke-linecap="butt"/>
<text x="100" y="1937.03" font-size="22.8" font-weight="bold" text-anchor="end" fill="#000">40</text>
<line x1="104.3" y1="1855.6" x2="114.2" y2="1855.6" stroke="#000" stroke-width="2.7" stroke-linecap="butt"/>
<text x="100" y="1863.63" font-size="22.8" font-weight="bold" text-anchor="end" fill="#000">60</text>
<line x1="104.3" y1="1782.2" x2="114.2" y2="1782.2" stroke="#000" stroke-width="2.7" stroke-linecap="butt"/>
<text x="100" y="1790.23" font-size="22.8" font-weight="bold" text-anchor="end" fill="#000">80</text>
<line x1="104.3" y1="2076" x2="555.8" y2="2076" stroke="#000" stroke-width="2.8" stroke-linecap="butt"/>
<line x1="144.3" y1="1893.2" x2="144.3" y2="1901.3" stroke="#000" stroke-width="4" stroke-linecap="butt"/>
<line x1="134.3" y1="1893.2" x2="154.3" y2="1893.2" stroke="#000" stroke-width="4.2" stroke-linecap="butt"/>
<rect x="125.8" y="1902.4" width="37" height="173.6" fill="url(#pFine)" stroke="#000" stroke-width="4.2"/>
<line x1="144.3" y1="2076" x2="144.3" y2="2085" stroke="#000" stroke-width="3" stroke-linecap="butt"/>
<line x1="206.9" y1="1908.8" x2="206.9" y2="1917.2" stroke="#000" stroke-width="4" stroke-linecap="butt"/>
<line x1="196.9" y1="1908.8" x2="216.9" y2="1908.8" stroke="#000" stroke-width="4.2" stroke-linecap="butt"/>
<rect x="188.4" y="1918.3" width="37" height="157.7" fill="url(#pBig)" stroke="#000" stroke-width="4.2"/>
<line x1="206.9" y1="2076" x2="206.9" y2="2085" stroke="#000" stroke-width="3" stroke-linecap="butt"/>
<line x1="270.7" y1="1821.5" x2="270.7" y2="1835.4" stroke="#000" stroke-width="4" stroke-linecap="butt"/>
<line x1="260.7" y1="1821.5" x2="280.7" y2="1821.5" stroke="#000" stroke-width="4.2" stroke-linecap="butt"/>
<pattern id="pH_F_2" patternUnits="userSpaceOnUse" x="0" y="1844.8" width="10" height="8.87"><rect width="10" height="8.87" fill="#fff"/><rect width="10" height="1.35" fill="#000"/></pattern>
<rect x="252.2" y="1836.5" width="37" height="239.5" fill="url(#pH_F_2)" stroke="#000" stroke-width="4.2"/>
<line x1="270.7" y1="2076" x2="270.7" y2="2085" stroke="#000" stroke-width="3" stroke-linecap="butt"/>
<line x1="333.5" y1="1876.9" x2="333.5" y2="1894.2" stroke="#000" stroke-width="4" stroke-linecap="butt"/>
<line x1="323.5" y1="1876.9" x2="343.5" y2="1876.9" stroke="#000" stroke-width="4.2" stroke-linecap="butt"/>
<pattern id="pV_F_3" patternUnits="userSpaceOnUse" x="323.6" y="0" width="8.9" height="10"><rect width="8.9" height="10" fill="#fff"/><rect width="1.35" height="10" fill="#000"/></pattern>
<rect x="315" y="1895.3" width="37" height="180.7" fill="url(#pV_F_3)" stroke="#000" stroke-width="4.2"/>
<line x1="333.5" y1="2076" x2="333.5" y2="2085" stroke="#000" stroke-width="3" stroke-linecap="butt"/>
<line x1="396.8" y1="1881.5" x2="396.8" y2="1896" stroke="#000" stroke-width="4" stroke-linecap="butt"/>
<line x1="386.8" y1="1881.5" x2="406.8" y2="1881.5" stroke="#000" stroke-width="4.2" stroke-linecap="butt"/>
<rect x="378.3" y="1897.1" width="37" height="178.9" fill="url(#pD1)" stroke="#000" stroke-width="4.2"/>
<line x1="396.8" y1="2076" x2="396.8" y2="2085" stroke="#000" stroke-width="3" stroke-linecap="butt"/>
<line x1="459.7" y1="1883.3" x2="459.7" y2="1894.2" stroke="#000" stroke-width="4" stroke-linecap="butt"/>
<line x1="449.7" y1="1883.3" x2="469.7" y2="1883.3" stroke="#000" stroke-width="4.2" stroke-linecap="butt"/>
<rect x="441.2" y="1895.3" width="37" height="180.7" fill="url(#pD2)" stroke="#000" stroke-width="4.2"/>
<line x1="459.7" y1="2076" x2="459.7" y2="2085" stroke="#000" stroke-width="3" stroke-linecap="butt"/>
<line x1="522.8" y1="1855.6" x2="522.8" y2="1870.8" stroke="#000" stroke-width="4" stroke-linecap="butt"/>
<line x1="512.8" y1="1855.6" x2="532.8" y2="1855.6" stroke="#000" stroke-width="4.2" stroke-linecap="butt"/>
<pattern id="pG_F_6" patternUnits="userSpaceOnUse" x="512.2" y="1880.3" width="8.9" height="9"><rect width="8.9" height="9" fill="#fff"/><rect width="1.6" height="9" fill="#000"/><rect width="8.9" height="1.6" fill="#000"/></pattern>
<rect x="504.3" y="1871.9" width="37" height="204.1" fill="url(#pG_F_6)" stroke="#000" stroke-width="4.2"/>
<line x1="522.8" y1="2076" x2="522.8" y2="2085" stroke="#000" stroke-width="3" stroke-linecap="butt"/>
<line x1="104.3" y1="2076" x2="555.8" y2="2076" stroke="#000" stroke-width="2.8" stroke-linecap="butt"/>
<text x="151.9" y="2105.2" font-size="23" font-weight="bold" text-anchor="end" fill="#000" transform="rotate(-45 151.9 2105.2)">C</text>
<text x="214.5" y="2105.2" font-size="23" font-weight="bold" text-anchor="end" fill="#000" transform="rotate(-45 214.5 2105.2)">C+VK2</text>
<text x="278.3" y="2105.2" font-size="23" font-weight="bold" text-anchor="end" fill="#000" transform="rotate(-45 278.3 2105.2)">HFD</text>
<text x="341.1" y="2105.2" font-size="23" font-weight="bold" text-anchor="end" fill="#000" transform="rotate(-45 341.1 2105.2)">HFD+VK2(L)</text>
<text x="404.4" y="2105.2" font-size="23" font-weight="bold" text-anchor="end" fill="#000" transform="rotate(-45 404.4 2105.2)">HFD+VK2(M)</text>
<text x="467.3" y="2105.2" font-size="23" font-weight="bold" text-anchor="end" fill="#000" transform="rotate(-45 467.3 2105.2)">HFD+VK2(H)</text>
<text x="530.4" y="2105.2" font-size="23" font-weight="bold" text-anchor="end" fill="#000" transform="rotate(-45 530.4 2105.2)">HFD+V</text>
<text x="50.8" y="1930.2" font-size="24.4" font-weight="bold" text-anchor="middle" fill="#000" transform="rotate(-90 50.8 1930.2)">water intake(ml)</text>
<line x1="144.4" y1="1798.6" x2="269" y2="1798.6" stroke="#000" stroke-width="2.8" stroke-linecap="butt"/>
<line x1="144.4" y1="1785.5" x2="144.4" y2="1811.7" stroke="#000" stroke-width="2.8" stroke-linecap="butt"/>
<line x1="269" y1="1785.5" x2="269" y2="1811.7" stroke="#000" stroke-width="2.8" stroke-linecap="butt"/>
<text x="209.4" y="1791.21" font-size="23.5" font-weight="normal" text-anchor="middle" fill="#000">***</text>
<line x1="276.4" y1="1798.3" x2="333.7" y2="1798.3" stroke="#000" stroke-width="2.8" stroke-linecap="butt"/>
<line x1="276.4" y1="1785.6" x2="276.4" y2="1811.9" stroke="#000" stroke-width="2.8" stroke-linecap="butt"/>
<line x1="333.7" y1="1785.6" x2="333.7" y2="1811.9" stroke="#000" stroke-width="2.8" stroke-linecap="butt"/>
<text x="305.2" y="1793.21" font-size="23.5" font-weight="normal" text-anchor="middle" fill="#000">**</text>
<line x1="276.4" y1="1764.4" x2="396.4" y2="1764.4" stroke="#000" stroke-width="2.8" stroke-linecap="butt"/>
<line x1="276.4" y1="1751.7" x2="276.4" y2="1778" stroke="#000" stroke-width="2.8" stroke-linecap="butt"/>
<line x1="396.4" y1="1751.7" x2="396.4" y2="1778" stroke="#000" stroke-width="2.8" stroke-linecap="butt"/>
<text x="337.5" y="1759.41" font-size="23.5" font-weight="normal" text-anchor="middle" fill="#000">**</text>
<line x1="276.4" y1="1732.2" x2="459.7" y2="1732.2" stroke="#000" stroke-width="2.8" stroke-linecap="butt"/>
<line x1="276.4" y1="1720" x2="276.4" y2="1745.8" stroke="#000" stroke-width="2.8" stroke-linecap="butt"/>
<line x1="459.7" y1="1720" x2="459.7" y2="1745.8" stroke="#000" stroke-width="2.8" stroke-linecap="butt"/>
<text x="369" y="1727.21" font-size="23.5" font-weight="normal" text-anchor="middle" fill="#000">**</text>
</svg></body></html>
